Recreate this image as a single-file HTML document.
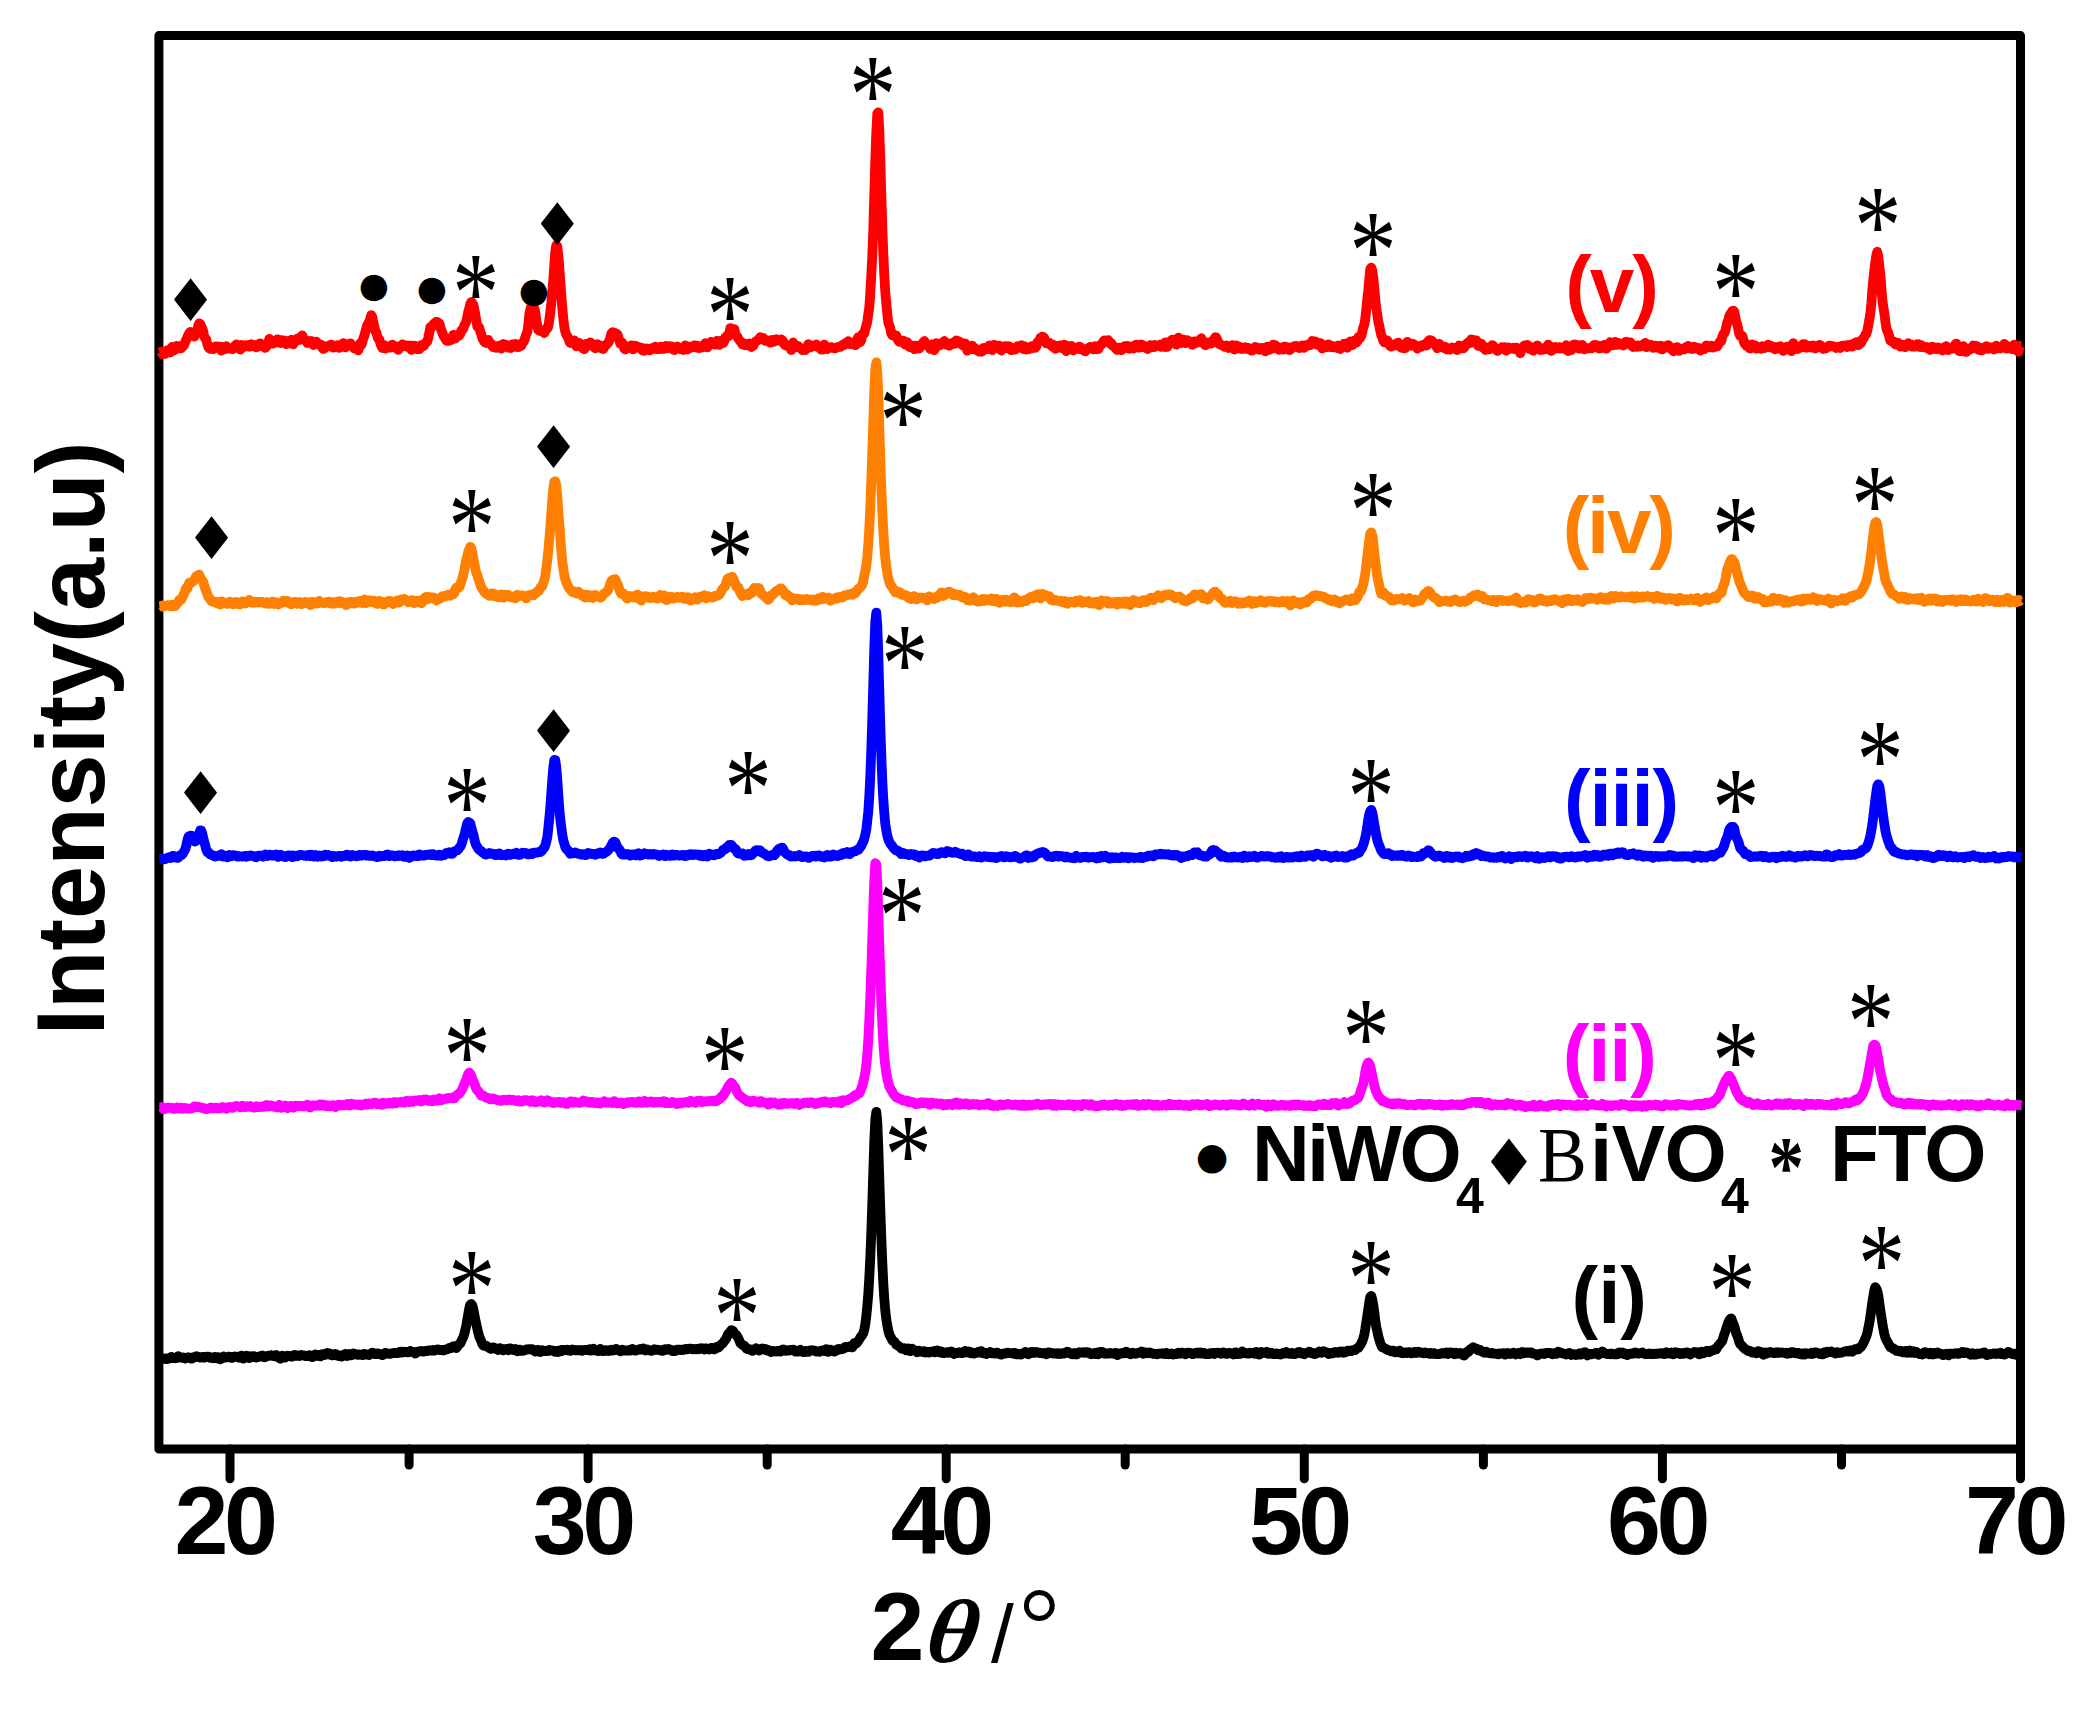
<!DOCTYPE html>
<html><head><meta charset="utf-8"><title>XRD patterns</title>
<style>
html,body{margin:0;padding:0;background:#fff}
svg{display:block}
.sb{font-family:"Liberation Sans",sans-serif;font-weight:bold}
.sr{font-family:"Liberation Sans",sans-serif}
.ast{font-family:"Liberation Serif",serif;font-size:100px}
.mk{font-family:"DejaVu Sans",sans-serif}
</style></head><body>
<svg width="2095" height="1710" viewBox="0 0 2095 1710">
<rect width="2095" height="1710" fill="#fff"/>
<g fill="none" stroke="#000" stroke-width="9" stroke-linejoin="round" stroke-linecap="round"><path d="M158.9 1449 V35.6 H2020.5 V1449 Z"/><path d="M230.0 1449 V1478.8"/><path d="M588.1 1449 V1478.8"/><path d="M946.2 1449 V1478.8"/><path d="M1304.3 1449 V1478.8"/><path d="M1662.4 1449 V1478.8"/><path d="M2020.5 1449 V1478.8"/><path d="M409.1 1449 V1465"/><path d="M767.2 1449 V1465"/><path d="M1125.2 1449 V1465"/><path d="M1483.4 1449 V1465"/><path d="M1841.5 1449 V1465"/></g>
<polyline fill="none" stroke="#000000" stroke-width="9.8" stroke-linejoin="round" stroke-linecap="butt" points="159.3,1358.8 160.3,1358.7 161.3,1358.7 162.3,1358.4 163.3,1358.4 164.3,1358.8 165.3,1359.0 166.3,1358.5 167.3,1359.0 168.3,1358.6 169.3,1358.5 170.3,1357.9 171.3,1356.8 172.3,1358.2 173.3,1358.2 174.3,1358.1 175.3,1358.3 176.3,1358.1 177.3,1357.0 178.3,1356.2 179.3,1356.9 180.3,1357.4 181.3,1357.8 182.3,1357.7 183.3,1357.4 184.3,1358.1 185.3,1358.6 186.3,1357.9 187.3,1357.8 188.3,1357.2 189.3,1357.6 190.3,1358.2 191.3,1358.7 192.3,1358.4 193.3,1357.2 194.3,1357.2 195.3,1357.3 196.3,1356.2 197.3,1356.5 198.3,1356.7 199.3,1357.3 200.3,1357.7 201.3,1357.4 202.3,1357.1 203.3,1356.9 204.3,1357.7 205.3,1357.2 206.3,1356.7 207.3,1357.0 208.3,1356.6 209.3,1357.0 210.3,1357.9 211.3,1357.6 212.3,1357.5 213.3,1358.2 214.3,1357.8 215.3,1356.9 216.3,1358.0 217.3,1358.4 218.3,1357.1 219.3,1357.9 220.3,1359.3 221.3,1358.3 222.3,1357.2 223.3,1356.6 224.3,1357.5 225.3,1357.7 226.3,1357.2 227.3,1357.3 228.3,1356.7 229.3,1356.6 230.3,1357.3 231.3,1357.8 232.3,1357.8 233.3,1356.9 234.3,1356.5 235.3,1356.9 236.3,1356.6 237.3,1356.9 238.3,1357.6 239.3,1357.1 240.3,1356.2 241.3,1355.6 242.3,1358.1 243.3,1358.6 244.3,1357.4 245.3,1356.7 246.3,1355.6 247.3,1355.9 248.3,1357.1 249.3,1358.0 250.3,1357.1 251.3,1356.3 252.3,1356.9 253.3,1356.1 254.3,1356.1 255.3,1357.3 256.3,1357.6 257.3,1357.3 258.3,1356.7 259.3,1356.5 260.3,1356.5 261.3,1355.7 262.3,1355.5 263.3,1355.9 264.3,1357.4 265.3,1357.1 266.3,1356.1 267.3,1356.1 268.3,1355.6 269.3,1355.9 270.3,1355.6 271.3,1355.1 272.3,1355.7 273.3,1356.0 274.3,1356.3 275.3,1356.5 276.3,1355.2 277.3,1355.8 278.3,1356.6 279.3,1357.9 280.3,1358.9 281.3,1356.4 282.3,1355.7 283.3,1356.5 284.3,1357.5 285.3,1357.6 286.3,1356.3 287.3,1355.7 288.3,1355.9 289.3,1355.9 290.3,1356.2 291.3,1356.7 292.3,1356.6 293.3,1355.5 294.3,1354.9 295.3,1355.3 296.3,1355.8 297.3,1355.5 298.3,1355.8 299.3,1356.0 300.3,1355.3 301.3,1355.0 302.3,1355.4 303.3,1355.4 304.3,1355.6 305.3,1356.1 306.3,1356.2 307.3,1356.1 308.3,1355.5 309.3,1355.2 310.3,1355.7 311.3,1356.6 312.3,1357.1 313.3,1356.6 314.3,1355.1 315.3,1354.5 316.3,1355.3 317.3,1355.9 318.3,1354.9 319.3,1355.0 320.3,1356.4 321.3,1355.3 322.3,1354.4 323.3,1355.2 324.3,1355.0 325.3,1354.7 326.3,1353.4 327.3,1353.0 328.3,1354.3 329.3,1354.3 330.3,1353.6 331.3,1355.2 332.3,1355.4 333.3,1355.1 334.3,1355.2 335.3,1354.0 336.3,1354.5 337.3,1355.6 338.3,1356.0 339.3,1355.4 340.3,1355.6 341.3,1356.6 342.3,1356.4 343.3,1355.6 344.3,1354.6 345.3,1354.0 346.3,1354.8 347.3,1356.0 348.3,1354.8 349.3,1354.0 350.3,1355.0 351.3,1355.3 352.3,1354.4 353.3,1353.6 354.3,1354.4 355.3,1354.4 356.3,1354.1 357.3,1354.7 358.3,1354.8 359.3,1354.5 360.3,1354.6 361.3,1354.7 362.3,1355.0 363.3,1355.0 364.3,1354.0 365.3,1354.1 366.3,1354.6 367.3,1354.4 368.3,1354.9 369.3,1355.0 370.3,1354.0 371.3,1353.5 372.3,1352.7 373.3,1353.0 374.3,1353.7 375.3,1354.1 376.3,1354.2 377.3,1353.4 378.3,1353.5 379.3,1354.0 380.3,1353.9 381.3,1354.6 382.3,1355.1 383.3,1354.7 384.3,1353.9 385.3,1353.0 386.3,1353.1 387.3,1353.5 388.3,1353.6 389.3,1353.9 390.3,1353.9 391.3,1353.4 392.3,1353.3 393.3,1352.8 394.3,1352.8 395.3,1353.1 396.3,1352.8 397.3,1353.1 398.3,1352.9 399.3,1352.0 400.3,1351.7 401.3,1352.6 402.3,1352.6 403.3,1351.6 404.3,1352.0 405.3,1352.0 406.3,1352.0 407.3,1352.3 408.3,1352.4 409.3,1351.9 410.3,1351.0 411.3,1351.9 412.3,1351.9 413.3,1351.8 414.3,1352.5 415.3,1353.5 416.3,1352.9 417.3,1351.7 418.3,1351.4 419.3,1351.4 420.3,1351.2 421.3,1350.8 422.3,1351.3 423.3,1351.7 424.3,1351.4 425.3,1350.8 426.3,1351.0 427.3,1351.0 428.3,1350.4 429.3,1350.5 430.3,1350.6 431.3,1350.5 432.3,1350.1 433.3,1350.0 434.3,1350.7 435.3,1350.4 436.3,1349.8 437.3,1349.3 438.3,1349.5 439.3,1349.9 440.3,1350.2 441.3,1349.8 442.3,1350.1 443.3,1350.5 444.3,1350.3 445.3,1349.7 446.3,1349.2 447.3,1349.0 448.3,1349.0 449.3,1347.9 450.3,1347.6 451.3,1348.1 452.3,1347.3 453.3,1346.3 454.3,1346.1 455.3,1347.4 456.3,1348.1 457.3,1346.7 458.3,1345.0 459.3,1344.2 460.3,1343.4 461.3,1341.2 462.3,1339.0 463.3,1337.1 464.3,1333.9 465.3,1330.1 466.3,1325.4 467.3,1319.7 468.3,1313.8 469.3,1308.1 470.3,1304.6 471.3,1304.0 472.3,1305.4 473.3,1309.0 474.3,1314.5 475.3,1319.7 476.3,1324.1 477.3,1328.7 478.3,1333.2 479.3,1336.7 480.3,1339.0 481.3,1341.2 482.3,1344.1 483.3,1345.4 484.3,1345.9 485.3,1345.7 486.3,1345.9 487.3,1347.0 488.3,1347.1 489.3,1347.9 490.3,1348.7 491.3,1348.9 492.3,1348.1 493.3,1347.3 494.3,1348.7 495.3,1348.7 496.3,1348.4 497.3,1349.1 498.3,1350.0 499.3,1349.6 500.3,1348.1 501.3,1348.7 502.3,1349.8 503.3,1350.3 504.3,1349.6 505.3,1349.3 506.3,1348.9 507.3,1349.3 508.3,1350.3 509.3,1348.5 510.3,1348.4 511.3,1349.4 512.3,1349.0 513.3,1350.2 514.3,1350.2 515.3,1349.2 516.3,1350.0 517.3,1351.2 518.3,1350.5 519.3,1349.6 520.3,1349.8 521.3,1350.9 522.3,1350.9 523.3,1350.7 524.3,1350.4 525.3,1350.0 526.3,1349.4 527.3,1349.3 528.3,1349.2 529.3,1349.1 530.3,1349.5 531.3,1349.2 532.3,1349.2 533.3,1349.7 534.3,1350.5 535.3,1351.5 536.3,1351.0 537.3,1350.1 538.3,1349.8 539.3,1350.3 540.3,1352.0 541.3,1351.2 542.3,1350.2 543.3,1350.8 544.3,1351.2 545.3,1351.1 546.3,1350.7 547.3,1351.1 548.3,1350.7 549.3,1350.0 550.3,1350.1 551.3,1350.6 552.3,1350.8 553.3,1350.7 554.3,1351.5 555.3,1351.8 556.3,1351.0 557.3,1351.3 558.3,1352.0 559.3,1350.7 560.3,1350.2 561.3,1351.1 562.3,1349.9 563.3,1349.8 564.3,1350.1 565.3,1349.9 566.3,1350.3 567.3,1349.6 568.3,1349.9 569.3,1350.1 570.3,1350.9 571.3,1350.6 572.3,1349.6 573.3,1350.1 574.3,1349.8 575.3,1350.3 576.3,1350.4 577.3,1350.0 578.3,1350.4 579.3,1350.2 580.3,1350.0 581.3,1350.5 582.3,1350.8 583.3,1350.2 584.3,1349.8 585.3,1349.8 586.3,1349.8 587.3,1350.2 588.3,1349.8 589.3,1349.3 590.3,1350.5 591.3,1350.6 592.3,1349.0 593.3,1348.8 594.3,1350.3 595.3,1350.2 596.3,1350.6 597.3,1350.9 598.3,1351.1 599.3,1349.8 600.3,1348.9 601.3,1350.3 602.3,1351.0 603.3,1351.0 604.3,1350.5 605.3,1350.2 606.3,1350.9 607.3,1350.6 608.3,1350.1 609.3,1350.9 610.3,1350.3 611.3,1349.8 612.3,1350.6 613.3,1350.3 614.3,1350.3 615.3,1349.3 616.3,1348.9 617.3,1350.1 618.3,1350.0 619.3,1350.2 620.3,1351.3 621.3,1350.0 622.3,1349.7 623.3,1350.3 624.3,1350.7 625.3,1350.6 626.3,1350.5 627.3,1350.7 628.3,1350.2 629.3,1349.9 630.3,1350.6 631.3,1349.9 632.3,1348.8 633.3,1349.8 634.3,1350.5 635.3,1350.4 636.3,1350.5 637.3,1349.8 638.3,1349.6 639.3,1349.6 640.3,1349.0 641.3,1349.5 642.3,1349.5 643.3,1348.4 644.3,1349.7 645.3,1350.5 646.3,1350.1 647.3,1349.5 648.3,1350.2 649.3,1350.3 650.3,1350.6 651.3,1350.9 652.3,1350.6 653.3,1349.8 654.3,1349.3 655.3,1349.8 656.3,1349.8 657.3,1349.7 658.3,1349.9 659.3,1350.1 660.3,1350.1 661.3,1350.5 662.3,1350.9 663.3,1350.7 664.3,1349.3 665.3,1349.2 666.3,1349.9 667.3,1349.5 668.3,1349.0 669.3,1349.3 670.3,1349.6 671.3,1350.0 672.3,1351.0 673.3,1351.1 674.3,1351.0 675.3,1351.0 676.3,1349.9 677.3,1349.7 678.3,1349.6 679.3,1349.7 680.3,1350.0 681.3,1349.7 682.3,1349.9 683.3,1350.0 684.3,1349.2 685.3,1349.0 686.3,1349.4 687.3,1349.0 688.3,1349.0 689.3,1348.7 690.3,1348.6 691.3,1348.8 692.3,1349.4 693.3,1349.0 694.3,1349.1 695.3,1349.3 696.3,1349.3 697.3,1349.0 698.3,1348.6 699.3,1349.2 700.3,1348.3 701.3,1348.2 702.3,1348.4 703.3,1348.4 704.3,1349.5 705.3,1348.5 706.3,1348.5 707.3,1348.6 708.3,1349.3 709.3,1349.5 710.3,1348.5 711.3,1347.9 712.3,1347.8 713.3,1349.0 714.3,1349.4 715.3,1348.9 716.3,1347.2 717.3,1346.7 718.3,1347.7 719.3,1346.8 720.3,1345.3 721.3,1344.4 722.3,1343.8 723.3,1342.6 724.3,1341.1 725.3,1340.0 726.3,1338.4 727.3,1335.9 728.3,1333.7 729.3,1333.1 730.3,1331.7 731.3,1330.2 732.3,1330.3 733.3,1331.4 734.3,1333.4 735.3,1334.4 736.3,1334.9 737.3,1336.5 738.3,1338.1 739.3,1340.4 740.3,1343.0 741.3,1343.9 742.3,1344.9 743.3,1345.3 744.3,1345.6 745.3,1346.8 746.3,1348.4 747.3,1349.1 748.3,1349.4 749.3,1349.2 750.3,1349.3 751.3,1350.0 752.3,1350.8 753.3,1350.3 754.3,1349.2 755.3,1349.1 756.3,1348.3 757.3,1348.8 758.3,1350.0 759.3,1350.5 760.3,1349.8 761.3,1348.7 762.3,1348.5 763.3,1349.1 764.3,1349.1 765.3,1349.0 766.3,1350.4 767.3,1350.5 768.3,1350.0 769.3,1350.8 770.3,1351.7 771.3,1352.0 772.3,1350.9 773.3,1351.0 774.3,1351.3 775.3,1351.5 776.3,1351.5 777.3,1350.8 778.3,1351.1 779.3,1351.5 780.3,1351.7 781.3,1351.3 782.3,1349.8 783.3,1349.5 784.3,1350.3 785.3,1350.9 786.3,1350.7 787.3,1350.2 788.3,1350.4 789.3,1350.6 790.3,1350.0 791.3,1349.9 792.3,1349.8 793.3,1349.7 794.3,1350.5 795.3,1351.7 796.3,1351.6 797.3,1351.7 798.3,1351.6 799.3,1350.4 800.3,1349.8 801.3,1350.6 802.3,1351.7 803.3,1352.2 804.3,1352.1 805.3,1351.0 806.3,1350.8 807.3,1351.9 808.3,1351.9 809.3,1350.6 810.3,1350.4 811.3,1350.4 812.3,1350.2 813.3,1350.6 814.3,1350.6 815.3,1350.8 816.3,1351.7 817.3,1351.6 818.3,1351.4 819.3,1351.8 820.3,1350.8 821.3,1350.7 822.3,1350.8 823.3,1350.2 824.3,1350.9 825.3,1349.9 826.3,1349.1 827.3,1351.2 828.3,1351.9 829.3,1350.0 830.3,1349.6 831.3,1350.6 832.3,1350.4 833.3,1350.8 834.3,1351.6 835.3,1351.1 836.3,1350.6 837.3,1349.2 838.3,1349.0 839.3,1349.6 840.3,1349.3 841.3,1349.0 842.3,1349.0 843.3,1348.7 844.3,1347.7 845.3,1346.9 846.3,1347.3 847.3,1347.3 848.3,1347.1 849.3,1346.5 850.3,1346.5 851.3,1346.8 852.3,1347.3 853.3,1345.5 854.3,1343.2 855.3,1343.5 856.3,1343.5 857.3,1342.2 858.3,1340.9 859.3,1339.4 860.3,1337.6 861.3,1336.3 862.3,1334.9 863.3,1333.0 864.3,1329.7 865.3,1324.1 866.3,1316.2 867.3,1306.2 868.3,1294.0 869.3,1277.5 870.3,1257.2 871.3,1232.4 872.3,1202.9 873.3,1171.5 874.3,1141.0 875.3,1119.4 876.3,1111.8 877.3,1122.2 878.3,1147.2 879.3,1178.2 880.3,1209.2 881.3,1237.4 882.3,1262.3 883.3,1282.9 884.3,1298.7 885.3,1310.6 886.3,1319.3 887.3,1325.3 888.3,1330.5 889.3,1334.4 890.3,1336.3 891.3,1338.1 892.3,1340.4 893.3,1341.1 894.3,1341.5 895.3,1343.0 896.3,1344.6 897.3,1345.2 898.3,1345.8 899.3,1346.5 900.3,1347.1 901.3,1348.6 902.3,1348.8 903.3,1348.6 904.3,1348.3 905.3,1349.1 906.3,1350.3 907.3,1349.7 908.3,1348.5 909.3,1349.4 910.3,1351.2 911.3,1349.7 912.3,1348.9 913.3,1350.0 914.3,1350.3 915.3,1350.3 916.3,1350.7 917.3,1352.3 918.3,1351.9 919.3,1350.9 920.3,1351.5 921.3,1351.8 922.3,1352.0 923.3,1351.3 924.3,1351.1 925.3,1352.5 926.3,1352.3 927.3,1351.8 928.3,1352.1 929.3,1352.6 930.3,1351.9 931.3,1351.7 932.3,1351.4 933.3,1351.4 934.3,1352.4 935.3,1352.0 936.3,1350.6 937.3,1350.5 938.3,1350.7 939.3,1352.0 940.3,1352.5 941.3,1351.6 942.3,1352.3 943.3,1353.1 944.3,1353.2 945.3,1352.7 946.3,1352.1 947.3,1352.7 948.3,1352.8 949.3,1351.9 950.3,1351.9 951.3,1351.4 952.3,1352.0 953.3,1353.5 954.3,1354.0 955.3,1353.2 956.3,1352.9 957.3,1353.1 958.3,1352.9 959.3,1352.2 960.3,1352.4 961.3,1353.0 962.3,1353.1 963.3,1352.7 964.3,1352.3 965.3,1350.9 966.3,1351.7 967.3,1352.4 968.3,1351.4 969.3,1352.3 970.3,1353.2 971.3,1352.3 972.3,1352.6 973.3,1353.6 974.3,1353.5 975.3,1353.0 976.3,1352.8 977.3,1352.3 978.3,1351.8 979.3,1352.6 980.3,1351.9 981.3,1351.1 982.3,1352.3 983.3,1353.3 984.3,1352.6 985.3,1352.9 986.3,1354.0 987.3,1352.9 988.3,1353.2 989.3,1352.9 990.3,1352.1 991.3,1352.8 992.3,1353.3 993.3,1353.1 994.3,1353.2 995.3,1353.6 996.3,1352.7 997.3,1352.6 998.3,1353.4 999.3,1353.9 1000.3,1354.4 1001.3,1354.6 1002.3,1354.1 1003.3,1353.6 1004.3,1353.4 1005.3,1353.5 1006.3,1353.4 1007.3,1352.7 1008.3,1352.7 1009.3,1353.1 1010.3,1353.2 1011.3,1353.2 1012.3,1353.2 1013.3,1353.7 1014.3,1352.8 1015.3,1353.0 1016.3,1354.3 1017.3,1354.4 1018.3,1354.2 1019.3,1353.7 1020.3,1354.0 1021.3,1354.5 1022.3,1353.9 1023.3,1353.3 1024.3,1352.7 1025.3,1352.0 1026.3,1352.1 1027.3,1353.6 1028.3,1354.3 1029.3,1353.4 1030.3,1353.3 1031.3,1351.9 1032.3,1351.9 1033.3,1352.9 1034.3,1352.9 1035.3,1352.7 1036.3,1352.0 1037.3,1352.5 1038.3,1352.6 1039.3,1352.6 1040.3,1353.2 1041.3,1353.0 1042.3,1353.4 1043.3,1353.4 1044.3,1352.9 1045.3,1353.4 1046.3,1354.2 1047.3,1353.2 1048.3,1352.5 1049.3,1352.4 1050.3,1352.9 1051.3,1353.3 1052.3,1353.3 1053.3,1353.2 1054.3,1353.5 1055.3,1353.3 1056.3,1353.3 1057.3,1353.8 1058.3,1353.1 1059.3,1353.4 1060.3,1354.0 1061.3,1353.8 1062.3,1353.2 1063.3,1353.2 1064.3,1353.6 1065.3,1352.8 1066.3,1352.3 1067.3,1351.7 1068.3,1352.2 1069.3,1353.1 1070.3,1353.4 1071.3,1354.1 1072.3,1354.4 1073.3,1353.9 1074.3,1352.9 1075.3,1353.4 1076.3,1354.5 1077.3,1354.1 1078.3,1352.9 1079.3,1352.2 1080.3,1352.6 1081.3,1352.7 1082.3,1352.4 1083.3,1352.1 1084.3,1352.3 1085.3,1352.8 1086.3,1352.1 1087.3,1352.2 1088.3,1352.4 1089.3,1352.8 1090.3,1354.0 1091.3,1354.2 1092.3,1354.0 1093.3,1353.3 1094.3,1353.2 1095.3,1354.1 1096.3,1352.9 1097.3,1352.5 1098.3,1354.3 1099.3,1353.5 1100.3,1351.9 1101.3,1352.3 1102.3,1351.9 1103.3,1352.6 1104.3,1353.6 1105.3,1353.8 1106.3,1353.4 1107.3,1353.3 1108.3,1353.7 1109.3,1353.6 1110.3,1353.0 1111.3,1353.3 1112.3,1353.5 1113.3,1353.7 1114.3,1353.8 1115.3,1352.9 1116.3,1353.1 1117.3,1355.0 1118.3,1354.5 1119.3,1353.5 1120.3,1353.9 1121.3,1353.3 1122.3,1353.0 1123.3,1353.4 1124.3,1353.4 1125.3,1352.5 1126.3,1351.6 1127.3,1352.8 1128.3,1353.5 1129.3,1353.7 1130.3,1354.2 1131.3,1353.2 1132.3,1352.7 1133.3,1352.9 1134.3,1353.2 1135.3,1353.8 1136.3,1353.6 1137.3,1353.1 1138.3,1352.7 1139.3,1352.7 1140.3,1352.4 1141.3,1351.7 1142.3,1352.9 1143.3,1353.8 1144.3,1352.2 1145.3,1352.4 1146.3,1352.9 1147.3,1353.3 1148.3,1353.2 1149.3,1352.5 1150.3,1352.6 1151.3,1353.2 1152.3,1353.4 1153.3,1353.9 1154.3,1353.9 1155.3,1353.8 1156.3,1354.1 1157.3,1354.3 1158.3,1353.6 1159.3,1353.7 1160.3,1353.7 1161.3,1353.5 1162.3,1353.6 1163.3,1353.4 1164.3,1354.2 1165.3,1354.1 1166.3,1353.0 1167.3,1353.9 1168.3,1354.3 1169.3,1353.9 1170.3,1353.7 1171.3,1353.5 1172.3,1354.3 1173.3,1354.6 1174.3,1353.9 1175.3,1354.2 1176.3,1354.1 1177.3,1353.3 1178.3,1352.7 1179.3,1352.9 1180.3,1353.6 1181.3,1352.7 1182.3,1352.6 1183.3,1353.0 1184.3,1353.2 1185.3,1354.2 1186.3,1353.9 1187.3,1352.6 1188.3,1352.9 1189.3,1352.7 1190.3,1352.8 1191.3,1353.3 1192.3,1354.2 1193.3,1354.1 1194.3,1353.1 1195.3,1353.3 1196.3,1352.6 1197.3,1352.6 1198.3,1353.6 1199.3,1352.6 1200.3,1352.5 1201.3,1353.6 1202.3,1353.6 1203.3,1352.7 1204.3,1353.1 1205.3,1354.1 1206.3,1354.1 1207.3,1353.8 1208.3,1353.7 1209.3,1354.1 1210.3,1353.2 1211.3,1353.2 1212.3,1352.9 1213.3,1353.3 1214.3,1354.0 1215.3,1352.9 1216.3,1352.9 1217.3,1352.8 1218.3,1352.7 1219.3,1352.9 1220.3,1353.5 1221.3,1353.8 1222.3,1352.8 1223.3,1352.4 1224.3,1352.8 1225.3,1353.7 1226.3,1353.9 1227.3,1353.9 1228.3,1353.0 1229.3,1352.9 1230.3,1353.3 1231.3,1353.1 1232.3,1353.7 1233.3,1354.5 1234.3,1354.1 1235.3,1352.4 1236.3,1352.5 1237.3,1354.0 1238.3,1353.5 1239.3,1353.2 1240.3,1354.0 1241.3,1352.7 1242.3,1351.5 1243.3,1352.3 1244.3,1353.2 1245.3,1353.3 1246.3,1353.0 1247.3,1353.2 1248.3,1353.6 1249.3,1353.5 1250.3,1352.7 1251.3,1352.8 1252.3,1352.8 1253.3,1353.5 1254.3,1353.7 1255.3,1352.3 1256.3,1352.0 1257.3,1353.0 1258.3,1354.3 1259.3,1354.6 1260.3,1353.0 1261.3,1352.1 1262.3,1353.0 1263.3,1352.9 1264.3,1352.6 1265.3,1353.0 1266.3,1351.8 1267.3,1352.0 1268.3,1353.8 1269.3,1353.7 1270.3,1352.9 1271.3,1352.7 1272.3,1353.9 1273.3,1354.1 1274.3,1353.8 1275.3,1354.1 1276.3,1353.5 1277.3,1353.8 1278.3,1354.2 1279.3,1354.0 1280.3,1354.6 1281.3,1354.3 1282.3,1353.3 1283.3,1352.8 1284.3,1353.6 1285.3,1353.2 1286.3,1352.1 1287.3,1352.9 1288.3,1353.6 1289.3,1353.9 1290.3,1353.9 1291.3,1352.8 1292.3,1353.0 1293.3,1354.2 1294.3,1354.2 1295.3,1353.9 1296.3,1353.7 1297.3,1352.9 1298.3,1352.1 1299.3,1352.0 1300.3,1352.9 1301.3,1353.6 1302.3,1352.9 1303.3,1353.6 1304.3,1354.2 1305.3,1353.4 1306.3,1353.0 1307.3,1352.6 1308.3,1352.5 1309.3,1351.7 1310.3,1352.2 1311.3,1353.3 1312.3,1352.8 1313.3,1353.0 1314.3,1354.2 1315.3,1354.0 1316.3,1353.3 1317.3,1353.1 1318.3,1352.3 1319.3,1351.6 1320.3,1352.2 1321.3,1352.8 1322.3,1351.8 1323.3,1351.3 1324.3,1352.0 1325.3,1352.2 1326.3,1352.2 1327.3,1352.6 1328.3,1354.0 1329.3,1353.9 1330.3,1353.1 1331.3,1352.9 1332.3,1353.3 1333.3,1353.3 1334.3,1352.3 1335.3,1352.0 1336.3,1352.3 1337.3,1352.7 1338.3,1352.8 1339.3,1351.7 1340.3,1351.5 1341.3,1351.9 1342.3,1351.5 1343.3,1352.8 1344.3,1352.6 1345.3,1352.3 1346.3,1351.9 1347.3,1350.8 1348.3,1350.6 1349.3,1350.7 1350.3,1351.2 1351.3,1351.2 1352.3,1350.3 1353.3,1349.8 1354.3,1349.8 1355.3,1350.1 1356.3,1348.9 1357.3,1348.1 1358.3,1347.8 1359.3,1346.4 1360.3,1345.1 1361.3,1343.3 1362.3,1341.1 1363.3,1338.5 1364.3,1334.6 1365.3,1328.8 1366.3,1322.1 1367.3,1315.9 1368.3,1309.1 1369.3,1302.0 1370.3,1296.6 1371.3,1296.0 1372.3,1299.5 1373.3,1305.1 1374.3,1312.1 1375.3,1320.9 1376.3,1327.1 1377.3,1331.4 1378.3,1336.0 1379.3,1339.7 1380.3,1343.0 1381.3,1345.5 1382.3,1347.3 1383.3,1347.6 1384.3,1348.0 1385.3,1348.6 1386.3,1349.1 1387.3,1349.9 1388.3,1350.2 1389.3,1350.3 1390.3,1351.0 1391.3,1351.4 1392.3,1350.6 1393.3,1350.7 1394.3,1352.0 1395.3,1352.3 1396.3,1352.0 1397.3,1351.9 1398.3,1351.2 1399.3,1350.6 1400.3,1352.6 1401.3,1353.0 1402.3,1352.8 1403.3,1353.2 1404.3,1352.5 1405.3,1352.6 1406.3,1352.5 1407.3,1353.0 1408.3,1352.3 1409.3,1352.1 1410.3,1353.0 1411.3,1353.3 1412.3,1353.0 1413.3,1352.5 1414.3,1351.9 1415.3,1352.1 1416.3,1353.0 1417.3,1352.6 1418.3,1351.7 1419.3,1352.3 1420.3,1352.6 1421.3,1352.4 1422.3,1353.0 1423.3,1353.0 1424.3,1353.4 1425.3,1352.5 1426.3,1352.7 1427.3,1353.1 1428.3,1353.1 1429.3,1353.8 1430.3,1353.0 1431.3,1353.1 1432.3,1353.7 1433.3,1353.2 1434.3,1353.2 1435.3,1353.9 1436.3,1354.1 1437.3,1354.2 1438.3,1354.2 1439.3,1354.0 1440.3,1353.9 1441.3,1353.2 1442.3,1353.0 1443.3,1353.4 1444.3,1353.5 1445.3,1353.2 1446.3,1352.4 1447.3,1352.8 1448.3,1354.0 1449.3,1353.2 1450.3,1352.3 1451.3,1352.3 1452.3,1352.8 1453.3,1353.3 1454.3,1354.3 1455.3,1354.1 1456.3,1352.7 1457.3,1353.1 1458.3,1353.5 1459.3,1353.5 1460.3,1352.9 1461.3,1353.4 1462.3,1354.5 1463.3,1355.4 1464.3,1355.5 1465.3,1353.8 1466.3,1352.3 1467.3,1351.7 1468.3,1352.1 1469.3,1350.7 1470.3,1349.1 1471.3,1348.8 1472.3,1347.9 1473.3,1347.3 1474.3,1348.3 1475.3,1348.7 1476.3,1348.5 1477.3,1349.1 1478.3,1350.3 1479.3,1349.8 1480.3,1349.9 1481.3,1351.4 1482.3,1351.6 1483.3,1351.6 1484.3,1352.7 1485.3,1352.3 1486.3,1351.7 1487.3,1352.7 1488.3,1352.9 1489.3,1352.8 1490.3,1353.3 1491.3,1353.0 1492.3,1353.0 1493.3,1353.6 1494.3,1353.7 1495.3,1353.6 1496.3,1353.8 1497.3,1354.1 1498.3,1354.3 1499.3,1353.5 1500.3,1353.6 1501.3,1353.6 1502.3,1353.4 1503.3,1353.1 1504.3,1353.5 1505.3,1354.6 1506.3,1353.6 1507.3,1353.0 1508.3,1353.3 1509.3,1353.3 1510.3,1354.0 1511.3,1353.4 1512.3,1353.1 1513.3,1352.8 1514.3,1353.8 1515.3,1354.4 1516.3,1353.6 1517.3,1353.5 1518.3,1352.9 1519.3,1353.1 1520.3,1354.1 1521.3,1353.4 1522.3,1352.0 1523.3,1352.5 1524.3,1353.3 1525.3,1352.7 1526.3,1352.8 1527.3,1352.3 1528.3,1352.6 1529.3,1352.9 1530.3,1352.4 1531.3,1352.5 1532.3,1353.7 1533.3,1353.7 1534.3,1353.8 1535.3,1353.9 1536.3,1354.5 1537.3,1355.3 1538.3,1354.5 1539.3,1354.6 1540.3,1353.6 1541.3,1353.7 1542.3,1353.6 1543.3,1353.4 1544.3,1354.1 1545.3,1353.5 1546.3,1352.9 1547.3,1353.2 1548.3,1352.8 1549.3,1352.9 1550.3,1352.8 1551.3,1353.4 1552.3,1354.2 1553.3,1353.9 1554.3,1353.2 1555.3,1353.0 1556.3,1353.9 1557.3,1352.5 1558.3,1351.6 1559.3,1352.7 1560.3,1352.5 1561.3,1353.0 1562.3,1353.4 1563.3,1353.3 1564.3,1353.8 1565.3,1353.8 1566.3,1354.5 1567.3,1354.3 1568.3,1353.4 1569.3,1352.9 1570.3,1353.8 1571.3,1354.9 1572.3,1354.3 1573.3,1354.1 1574.3,1354.3 1575.3,1354.5 1576.3,1355.0 1577.3,1354.6 1578.3,1354.0 1579.3,1353.4 1580.3,1354.7 1581.3,1354.7 1582.3,1353.5 1583.3,1353.6 1584.3,1352.4 1585.3,1352.2 1586.3,1354.0 1587.3,1355.3 1588.3,1354.7 1589.3,1353.8 1590.3,1353.9 1591.3,1354.3 1592.3,1354.0 1593.3,1353.7 1594.3,1353.7 1595.3,1353.1 1596.3,1352.7 1597.3,1354.1 1598.3,1354.8 1599.3,1353.8 1600.3,1353.3 1601.3,1352.7 1602.3,1351.5 1603.3,1352.1 1604.3,1353.4 1605.3,1353.3 1606.3,1353.7 1607.3,1354.2 1608.3,1353.8 1609.3,1354.1 1610.3,1354.3 1611.3,1353.5 1612.3,1353.7 1613.3,1354.0 1614.3,1354.3 1615.3,1354.3 1616.3,1354.3 1617.3,1354.3 1618.3,1353.0 1619.3,1352.5 1620.3,1353.4 1621.3,1352.9 1622.3,1352.5 1623.3,1353.7 1624.3,1354.1 1625.3,1353.4 1626.3,1353.9 1627.3,1355.2 1628.3,1354.1 1629.3,1353.7 1630.3,1353.7 1631.3,1353.6 1632.3,1353.9 1633.3,1353.6 1634.3,1352.7 1635.3,1352.4 1636.3,1353.0 1637.3,1353.6 1638.3,1353.6 1639.3,1353.1 1640.3,1353.3 1641.3,1353.1 1642.3,1352.5 1643.3,1353.4 1644.3,1353.8 1645.3,1354.1 1646.3,1354.2 1647.3,1354.2 1648.3,1353.8 1649.3,1353.4 1650.3,1353.9 1651.3,1354.1 1652.3,1353.8 1653.3,1353.7 1654.3,1354.1 1655.3,1353.8 1656.3,1353.6 1657.3,1353.8 1658.3,1353.7 1659.3,1353.7 1660.3,1353.2 1661.3,1353.1 1662.3,1353.5 1663.3,1353.8 1664.3,1354.1 1665.3,1353.0 1666.3,1352.3 1667.3,1352.8 1668.3,1353.1 1669.3,1353.6 1670.3,1353.6 1671.3,1352.6 1672.3,1353.2 1673.3,1354.2 1674.3,1353.4 1675.3,1352.3 1676.3,1353.1 1677.3,1353.4 1678.3,1352.7 1679.3,1353.0 1680.3,1354.0 1681.3,1353.2 1682.3,1353.0 1683.3,1353.8 1684.3,1353.5 1685.3,1353.0 1686.3,1352.4 1687.3,1352.5 1688.3,1353.8 1689.3,1353.9 1690.3,1354.5 1691.3,1353.7 1692.3,1353.0 1693.3,1352.7 1694.3,1352.0 1695.3,1352.2 1696.3,1352.4 1697.3,1352.1 1698.3,1353.6 1699.3,1354.4 1700.3,1352.6 1701.3,1351.9 1702.3,1353.0 1703.3,1353.4 1704.3,1352.6 1705.3,1351.9 1706.3,1350.8 1707.3,1350.9 1708.3,1351.8 1709.3,1352.1 1710.3,1351.3 1711.3,1350.4 1712.3,1350.4 1713.3,1350.4 1714.3,1349.2 1715.3,1349.2 1716.3,1349.4 1717.3,1347.4 1718.3,1345.4 1719.3,1344.7 1720.3,1343.2 1721.3,1342.3 1722.3,1341.0 1723.3,1337.5 1724.3,1334.2 1725.3,1331.7 1726.3,1328.3 1727.3,1325.4 1728.3,1322.5 1729.3,1320.4 1730.3,1319.0 1731.3,1318.5 1732.3,1321.3 1733.3,1323.9 1734.3,1326.0 1735.3,1330.1 1736.3,1333.6 1737.3,1335.7 1738.3,1338.7 1739.3,1342.3 1740.3,1344.2 1741.3,1345.3 1742.3,1346.0 1743.3,1347.4 1744.3,1348.3 1745.3,1349.1 1746.3,1349.5 1747.3,1350.4 1748.3,1351.2 1749.3,1351.0 1750.3,1351.0 1751.3,1352.2 1752.3,1352.7 1753.3,1352.5 1754.3,1352.1 1755.3,1352.8 1756.3,1353.3 1757.3,1352.2 1758.3,1351.2 1759.3,1352.3 1760.3,1353.0 1761.3,1352.2 1762.3,1353.3 1763.3,1354.8 1764.3,1353.4 1765.3,1352.3 1766.3,1353.7 1767.3,1353.3 1768.3,1352.4 1769.3,1352.6 1770.3,1352.0 1771.3,1352.4 1772.3,1352.6 1773.3,1353.0 1774.3,1353.2 1775.3,1353.2 1776.3,1352.4 1777.3,1352.2 1778.3,1353.0 1779.3,1352.6 1780.3,1352.7 1781.3,1352.4 1782.3,1352.7 1783.3,1352.7 1784.3,1352.9 1785.3,1353.3 1786.3,1352.7 1787.3,1353.7 1788.3,1353.1 1789.3,1352.6 1790.3,1353.2 1791.3,1352.2 1792.3,1352.3 1793.3,1352.2 1794.3,1352.9 1795.3,1353.3 1796.3,1353.0 1797.3,1353.0 1798.3,1352.9 1799.3,1353.9 1800.3,1354.3 1801.3,1354.1 1802.3,1353.4 1803.3,1354.7 1804.3,1354.7 1805.3,1353.2 1806.3,1353.3 1807.3,1353.6 1808.3,1353.6 1809.3,1353.8 1810.3,1353.5 1811.3,1352.9 1812.3,1354.0 1813.3,1353.8 1814.3,1352.4 1815.3,1352.4 1816.3,1352.4 1817.3,1352.9 1818.3,1353.1 1819.3,1353.7 1820.3,1354.0 1821.3,1353.8 1822.3,1354.3 1823.3,1352.9 1824.3,1352.3 1825.3,1353.5 1826.3,1352.5 1827.3,1351.8 1828.3,1352.3 1829.3,1352.2 1830.3,1352.2 1831.3,1351.5 1832.3,1352.3 1833.3,1352.4 1834.3,1352.7 1835.3,1353.5 1836.3,1352.5 1837.3,1352.2 1838.3,1352.8 1839.3,1353.0 1840.3,1352.8 1841.3,1352.6 1842.3,1352.4 1843.3,1351.9 1844.3,1351.6 1845.3,1351.5 1846.3,1351.0 1847.3,1351.1 1848.3,1351.5 1849.3,1351.6 1850.3,1350.3 1851.3,1351.0 1852.3,1351.7 1853.3,1350.6 1854.3,1349.4 1855.3,1349.8 1856.3,1348.9 1857.3,1349.2 1858.3,1349.4 1859.3,1347.6 1860.3,1347.5 1861.3,1346.6 1862.3,1345.0 1863.3,1343.2 1864.3,1341.0 1865.3,1338.7 1866.3,1336.4 1867.3,1333.1 1868.3,1328.0 1869.3,1323.3 1870.3,1317.0 1871.3,1309.7 1872.3,1302.1 1873.3,1296.2 1874.3,1290.2 1875.3,1287.1 1876.3,1288.6 1877.3,1291.0 1878.3,1295.5 1879.3,1302.8 1880.3,1310.2 1881.3,1316.6 1882.3,1322.9 1883.3,1328.7 1884.3,1333.8 1885.3,1337.6 1886.3,1339.9 1887.3,1341.7 1888.3,1343.1 1889.3,1345.5 1890.3,1347.1 1891.3,1347.3 1892.3,1347.8 1893.3,1349.1 1894.3,1349.0 1895.3,1349.6 1896.3,1350.8 1897.3,1350.9 1898.3,1351.3 1899.3,1351.3 1900.3,1350.6 1901.3,1351.1 1902.3,1352.2 1903.3,1352.4 1904.3,1351.3 1905.3,1350.9 1906.3,1352.1 1907.3,1352.9 1908.3,1350.9 1909.3,1350.5 1910.3,1351.9 1911.3,1352.9 1912.3,1351.5 1913.3,1351.3 1914.3,1353.0 1915.3,1352.9 1916.3,1351.8 1917.3,1352.7 1918.3,1353.4 1919.3,1354.1 1920.3,1353.9 1921.3,1353.7 1922.3,1354.5 1923.3,1353.9 1924.3,1352.1 1925.3,1352.1 1926.3,1353.3 1927.3,1353.5 1928.3,1353.9 1929.3,1354.2 1930.3,1352.7 1931.3,1353.2 1932.3,1354.5 1933.3,1353.7 1934.3,1352.9 1935.3,1354.1 1936.3,1353.2 1937.3,1352.6 1938.3,1353.5 1939.3,1353.1 1940.3,1353.6 1941.3,1354.2 1942.3,1354.7 1943.3,1355.1 1944.3,1354.2 1945.3,1354.2 1946.3,1353.8 1947.3,1354.8 1948.3,1355.4 1949.3,1353.8 1950.3,1353.6 1951.3,1353.6 1952.3,1353.9 1953.3,1353.9 1954.3,1353.4 1955.3,1353.7 1956.3,1353.2 1957.3,1353.2 1958.3,1354.0 1959.3,1353.6 1960.3,1353.0 1961.3,1352.9 1962.3,1351.9 1963.3,1353.2 1964.3,1353.1 1965.3,1352.3 1966.3,1352.3 1967.3,1352.9 1968.3,1353.3 1969.3,1353.3 1970.3,1354.8 1971.3,1354.0 1972.3,1353.1 1973.3,1354.6 1974.3,1354.2 1975.3,1354.4 1976.3,1354.6 1977.3,1353.4 1978.3,1353.9 1979.3,1353.9 1980.3,1353.7 1981.3,1353.1 1982.3,1353.4 1983.3,1353.4 1984.3,1352.4 1985.3,1353.4 1986.3,1354.9 1987.3,1355.1 1988.3,1354.5 1989.3,1354.1 1990.3,1354.3 1991.3,1354.0 1992.3,1353.9 1993.3,1353.6 1994.3,1353.4 1995.3,1353.9 1996.3,1354.0 1997.3,1353.3 1998.3,1353.6 1999.3,1353.5 2000.3,1352.9 2001.3,1354.2 2002.3,1354.2 2003.3,1353.7 2004.3,1354.6 2005.3,1354.1 2006.3,1353.8 2007.3,1353.4 2008.3,1351.9 2009.3,1352.9 2010.3,1352.9 2011.3,1353.4 2012.3,1354.1 2013.3,1354.3 2014.3,1353.7 2015.3,1353.7 2016.3,1354.9 2017.3,1355.2 2018.3,1353.7 2019.3,1353.8 2020.3,1354.9 2021.3,1354.9 2021.6,1354.9"/>
<polyline fill="none" stroke="#ff00ff" stroke-width="9.8" stroke-linejoin="round" stroke-linecap="butt" points="159.3,1107.3 160.3,1107.3 161.3,1107.2 162.3,1107.2 163.3,1108.6 164.3,1109.2 165.3,1108.3 166.3,1108.4 167.3,1108.0 168.3,1107.5 169.3,1107.6 170.3,1107.8 171.3,1108.1 172.3,1107.9 173.3,1108.8 174.3,1108.9 175.3,1108.7 176.3,1108.3 177.3,1107.4 178.3,1107.9 179.3,1108.5 180.3,1107.7 181.3,1107.7 182.3,1108.7 183.3,1108.4 184.3,1108.0 185.3,1108.1 186.3,1108.2 187.3,1108.6 188.3,1108.6 189.3,1108.6 190.3,1108.5 191.3,1108.5 192.3,1108.1 193.3,1107.7 194.3,1106.4 195.3,1106.3 196.3,1107.2 197.3,1107.2 198.3,1106.8 199.3,1107.4 200.3,1107.4 201.3,1107.3 202.3,1108.1 203.3,1107.8 204.3,1108.4 205.3,1109.1 206.3,1109.1 207.3,1108.7 208.3,1108.8 209.3,1108.4 210.3,1107.8 211.3,1107.5 212.3,1107.7 213.3,1108.4 214.3,1108.2 215.3,1107.7 216.3,1107.6 217.3,1108.3 218.3,1108.4 219.3,1108.1 220.3,1108.0 221.3,1108.0 222.3,1107.2 223.3,1107.1 224.3,1107.7 225.3,1108.2 226.3,1108.7 227.3,1108.0 228.3,1107.2 229.3,1106.8 230.3,1107.2 231.3,1107.5 232.3,1107.9 233.3,1107.5 234.3,1106.4 235.3,1106.3 236.3,1106.0 237.3,1106.5 238.3,1106.8 239.3,1107.0 240.3,1107.3 241.3,1105.9 242.3,1105.6 243.3,1106.4 244.3,1107.2 245.3,1107.0 246.3,1106.5 247.3,1106.1 248.3,1106.8 249.3,1106.6 250.3,1106.1 251.3,1107.1 252.3,1107.0 253.3,1107.4 254.3,1107.7 255.3,1107.3 256.3,1106.2 257.3,1106.7 258.3,1107.1 259.3,1107.0 260.3,1106.9 261.3,1106.8 262.3,1106.9 263.3,1106.2 264.3,1106.7 265.3,1105.6 266.3,1105.1 267.3,1106.2 268.3,1106.4 269.3,1106.1 270.3,1105.3 271.3,1105.5 272.3,1105.9 273.3,1106.2 274.3,1106.9 275.3,1106.6 276.3,1107.0 277.3,1107.4 278.3,1106.2 279.3,1104.8 280.3,1106.1 281.3,1107.8 282.3,1106.8 283.3,1106.2 284.3,1106.0 285.3,1105.6 286.3,1107.4 287.3,1108.1 288.3,1106.9 289.3,1106.6 290.3,1106.0 291.3,1106.0 292.3,1107.2 293.3,1107.6 294.3,1106.6 295.3,1105.6 296.3,1106.0 297.3,1106.3 298.3,1106.0 299.3,1105.6 300.3,1106.1 301.3,1106.3 302.3,1106.0 303.3,1106.0 304.3,1106.3 305.3,1105.8 306.3,1105.2 307.3,1104.6 308.3,1105.2 309.3,1107.1 310.3,1107.5 311.3,1106.5 312.3,1105.5 313.3,1105.4 314.3,1105.5 315.3,1105.7 316.3,1105.7 317.3,1105.7 318.3,1105.6 319.3,1104.7 320.3,1105.6 321.3,1105.7 322.3,1104.4 323.3,1104.7 324.3,1105.0 325.3,1105.8 326.3,1106.2 327.3,1105.5 328.3,1105.4 329.3,1106.4 330.3,1106.3 331.3,1105.3 332.3,1105.5 333.3,1105.1 334.3,1105.9 335.3,1107.0 336.3,1105.5 337.3,1105.3 338.3,1104.7 339.3,1104.7 340.3,1105.6 341.3,1105.3 342.3,1105.0 343.3,1105.4 344.3,1105.0 345.3,1105.0 346.3,1105.2 347.3,1103.9 348.3,1103.9 349.3,1105.5 350.3,1105.2 351.3,1103.7 352.3,1104.5 353.3,1104.6 354.3,1104.3 355.3,1104.3 356.3,1104.7 357.3,1104.8 358.3,1105.0 359.3,1104.3 360.3,1104.5 361.3,1105.5 362.3,1105.0 363.3,1104.8 364.3,1104.3 365.3,1103.7 366.3,1104.6 367.3,1104.7 368.3,1103.4 369.3,1103.6 370.3,1104.2 371.3,1104.2 372.3,1103.8 373.3,1103.0 374.3,1102.8 375.3,1102.6 376.3,1103.5 377.3,1104.2 378.3,1104.2 379.3,1104.1 380.3,1103.5 381.3,1104.4 382.3,1104.7 383.3,1102.9 384.3,1103.3 385.3,1103.8 386.3,1103.3 387.3,1103.2 388.3,1103.5 389.3,1103.0 390.3,1102.7 391.3,1103.1 392.3,1103.7 393.3,1103.1 394.3,1102.1 395.3,1102.8 396.3,1103.4 397.3,1102.8 398.3,1102.1 399.3,1102.3 400.3,1102.3 401.3,1101.8 402.3,1102.0 403.3,1102.3 404.3,1102.7 405.3,1102.3 406.3,1100.8 407.3,1100.8 408.3,1101.8 409.3,1102.1 410.3,1101.7 411.3,1100.9 412.3,1101.0 413.3,1101.7 414.3,1100.8 415.3,1100.3 416.3,1100.7 417.3,1100.8 418.3,1100.9 419.3,1100.1 420.3,1100.7 421.3,1101.4 422.3,1100.6 423.3,1099.8 424.3,1099.5 425.3,1099.8 426.3,1099.5 427.3,1100.3 428.3,1100.9 429.3,1100.2 430.3,1100.4 431.3,1100.6 432.3,1101.1 433.3,1099.7 434.3,1099.6 435.3,1100.5 436.3,1100.6 437.3,1100.7 438.3,1099.2 439.3,1098.4 440.3,1099.5 441.3,1100.2 442.3,1099.4 443.3,1099.2 444.3,1098.9 445.3,1098.8 446.3,1098.9 447.3,1098.1 448.3,1098.0 449.3,1098.1 450.3,1098.1 451.3,1097.9 452.3,1097.5 453.3,1098.4 454.3,1098.4 455.3,1096.7 456.3,1095.7 457.3,1094.7 458.3,1094.3 459.3,1093.7 460.3,1092.1 461.3,1090.9 462.3,1088.9 463.3,1086.7 464.3,1084.3 465.3,1082.1 466.3,1079.4 467.3,1076.5 468.3,1073.8 469.3,1072.6 470.3,1073.6 471.3,1075.6 472.3,1078.8 473.3,1081.5 474.3,1083.3 475.3,1085.9 476.3,1089.0 477.3,1090.3 478.3,1091.2 479.3,1092.5 480.3,1094.2 481.3,1095.6 482.3,1095.8 483.3,1095.6 484.3,1096.3 485.3,1097.0 486.3,1097.7 487.3,1097.9 488.3,1097.9 489.3,1098.7 490.3,1099.3 491.3,1099.3 492.3,1098.5 493.3,1098.3 494.3,1099.4 495.3,1099.5 496.3,1099.5 497.3,1100.1 498.3,1100.3 499.3,1100.4 500.3,1100.8 501.3,1100.8 502.3,1100.1 503.3,1099.9 504.3,1099.7 505.3,1099.9 506.3,1100.1 507.3,1100.0 508.3,1099.8 509.3,1099.5 510.3,1100.0 511.3,1100.2 512.3,1099.7 513.3,1099.9 514.3,1100.5 515.3,1100.3 516.3,1101.0 517.3,1101.2 518.3,1100.2 519.3,1101.4 520.3,1101.6 521.3,1101.2 522.3,1101.6 523.3,1100.9 524.3,1100.2 525.3,1100.1 526.3,1100.2 527.3,1100.5 528.3,1100.9 529.3,1100.7 530.3,1101.8 531.3,1101.5 532.3,1100.2 533.3,1100.7 534.3,1101.5 535.3,1102.4 536.3,1102.0 537.3,1101.7 538.3,1101.6 539.3,1101.2 540.3,1100.7 541.3,1100.2 542.3,1101.3 543.3,1102.3 544.3,1102.5 545.3,1102.3 546.3,1100.7 547.3,1100.2 548.3,1100.8 549.3,1101.1 550.3,1101.5 551.3,1102.0 552.3,1102.9 553.3,1103.0 554.3,1102.4 555.3,1102.6 556.3,1102.4 557.3,1102.2 558.3,1102.1 559.3,1101.9 560.3,1102.8 561.3,1102.9 562.3,1102.2 563.3,1102.2 564.3,1102.9 565.3,1103.2 566.3,1103.9 567.3,1103.9 568.3,1103.0 569.3,1101.9 570.3,1101.4 571.3,1101.4 572.3,1102.0 573.3,1102.7 574.3,1101.6 575.3,1101.9 576.3,1102.3 577.3,1102.5 578.3,1102.7 579.3,1102.8 580.3,1102.6 581.3,1102.4 582.3,1101.5 583.3,1100.6 584.3,1101.2 585.3,1101.8 586.3,1101.2 587.3,1101.8 588.3,1102.5 589.3,1102.0 590.3,1102.1 591.3,1102.7 592.3,1102.0 593.3,1102.1 594.3,1102.9 595.3,1103.0 596.3,1103.2 597.3,1102.3 598.3,1102.5 599.3,1103.5 600.3,1103.5 601.3,1102.6 602.3,1102.1 603.3,1102.1 604.3,1101.4 605.3,1102.3 606.3,1102.7 607.3,1102.3 608.3,1102.5 609.3,1102.6 610.3,1102.6 611.3,1102.3 612.3,1102.9 613.3,1101.5 614.3,1101.1 615.3,1101.6 616.3,1102.4 617.3,1103.3 618.3,1102.8 619.3,1102.9 620.3,1103.1 621.3,1102.5 622.3,1102.9 623.3,1104.0 624.3,1103.7 625.3,1103.4 626.3,1102.9 627.3,1102.2 628.3,1102.7 629.3,1102.4 630.3,1102.1 631.3,1102.1 632.3,1101.8 633.3,1102.2 634.3,1102.5 635.3,1102.3 636.3,1102.9 637.3,1102.7 638.3,1101.6 639.3,1101.3 640.3,1102.0 641.3,1102.9 642.3,1102.8 643.3,1101.8 644.3,1101.0 645.3,1101.3 646.3,1102.6 647.3,1102.7 648.3,1101.9 649.3,1101.7 650.3,1101.8 651.3,1101.4 652.3,1102.2 653.3,1102.6 654.3,1102.6 655.3,1101.9 656.3,1102.1 657.3,1102.4 658.3,1102.1 659.3,1101.8 660.3,1102.0 661.3,1102.4 662.3,1102.4 663.3,1101.1 664.3,1101.1 665.3,1103.2 666.3,1102.7 667.3,1102.3 668.3,1103.1 669.3,1102.8 670.3,1103.1 671.3,1102.7 672.3,1102.0 673.3,1102.2 674.3,1102.5 675.3,1103.1 676.3,1104.1 677.3,1103.8 678.3,1102.8 679.3,1103.6 680.3,1103.2 681.3,1102.5 682.3,1103.2 683.3,1102.7 684.3,1102.4 685.3,1102.5 686.3,1101.9 687.3,1102.0 688.3,1102.8 689.3,1102.5 690.3,1100.9 691.3,1101.1 692.3,1101.5 693.3,1101.7 694.3,1102.5 695.3,1102.8 696.3,1101.9 697.3,1101.0 698.3,1101.6 699.3,1101.6 700.3,1100.6 701.3,1101.7 702.3,1102.1 703.3,1101.5 704.3,1101.6 705.3,1101.5 706.3,1101.2 707.3,1101.4 708.3,1101.2 709.3,1101.1 710.3,1100.9 711.3,1101.1 712.3,1101.3 713.3,1100.9 714.3,1100.8 715.3,1101.3 716.3,1101.2 717.3,1100.5 718.3,1099.5 719.3,1099.4 720.3,1098.4 721.3,1096.7 722.3,1096.6 723.3,1095.4 724.3,1093.3 725.3,1092.3 726.3,1090.4 727.3,1088.3 728.3,1086.5 729.3,1085.0 730.3,1083.6 731.3,1082.7 732.3,1083.4 733.3,1085.8 734.3,1086.5 735.3,1087.8 736.3,1090.3 737.3,1092.4 738.3,1094.1 739.3,1095.4 740.3,1096.1 741.3,1096.9 742.3,1097.9 743.3,1098.2 744.3,1099.2 745.3,1099.9 746.3,1100.4 747.3,1101.3 748.3,1100.7 749.3,1101.3 750.3,1102.3 751.3,1102.1 752.3,1101.0 753.3,1100.6 754.3,1101.5 755.3,1101.4 756.3,1101.5 757.3,1101.3 758.3,1102.3 759.3,1102.7 760.3,1101.2 761.3,1101.2 762.3,1102.1 763.3,1102.3 764.3,1102.7 765.3,1102.8 766.3,1102.8 767.3,1102.8 768.3,1104.5 769.3,1104.1 770.3,1102.2 771.3,1102.8 772.3,1103.4 773.3,1102.8 774.3,1102.5 775.3,1103.3 776.3,1103.5 777.3,1103.6 778.3,1104.8 779.3,1104.5 780.3,1103.7 781.3,1104.6 782.3,1104.1 783.3,1102.8 784.3,1102.9 785.3,1103.1 786.3,1103.8 787.3,1103.9 788.3,1103.5 789.3,1103.3 790.3,1103.3 791.3,1103.3 792.3,1103.1 793.3,1103.4 794.3,1104.0 795.3,1103.3 796.3,1103.0 797.3,1102.8 798.3,1103.5 799.3,1104.8 800.3,1104.2 801.3,1103.8 802.3,1103.8 803.3,1103.1 804.3,1102.6 805.3,1102.8 806.3,1102.8 807.3,1102.5 808.3,1103.2 809.3,1103.0 810.3,1102.4 811.3,1102.2 812.3,1102.9 813.3,1102.9 814.3,1103.1 815.3,1104.0 816.3,1103.4 817.3,1103.0 818.3,1103.5 819.3,1102.7 820.3,1102.4 821.3,1102.0 822.3,1102.4 823.3,1102.2 824.3,1101.4 825.3,1101.4 826.3,1102.3 827.3,1102.5 828.3,1102.3 829.3,1102.3 830.3,1103.0 831.3,1102.5 832.3,1102.0 833.3,1102.3 834.3,1101.8 835.3,1102.1 836.3,1102.2 837.3,1102.6 838.3,1102.4 839.3,1101.2 840.3,1102.4 841.3,1103.0 842.3,1101.8 843.3,1100.2 844.3,1100.4 845.3,1100.7 846.3,1100.1 847.3,1100.3 848.3,1099.8 849.3,1099.2 850.3,1098.5 851.3,1097.9 852.3,1097.6 853.3,1096.8 854.3,1095.8 855.3,1096.1 856.3,1094.9 857.3,1094.0 858.3,1093.9 859.3,1093.1 860.3,1091.5 861.3,1088.4 862.3,1085.9 863.3,1082.1 864.3,1077.7 865.3,1072.3 866.3,1064.7 867.3,1054.3 868.3,1039.4 869.3,1020.5 870.3,996.8 871.3,969.0 872.3,937.9 873.3,906.8 874.3,879.3 875.3,863.1 876.3,864.3 877.3,883.3 878.3,912.6 879.3,944.4 880.3,974.8 881.3,1002.1 882.3,1024.4 883.3,1042.8 884.3,1056.5 885.3,1065.9 886.3,1073.2 887.3,1078.3 888.3,1082.8 889.3,1086.5 890.3,1088.3 891.3,1090.2 892.3,1091.6 893.3,1093.9 894.3,1095.1 895.3,1095.9 896.3,1097.2 897.3,1097.8 898.3,1097.8 899.3,1098.6 900.3,1099.0 901.3,1099.3 902.3,1100.3 903.3,1100.6 904.3,1100.8 905.3,1100.8 906.3,1100.5 907.3,1101.4 908.3,1102.1 909.3,1101.2 910.3,1101.8 911.3,1102.4 912.3,1102.3 913.3,1102.2 914.3,1102.8 915.3,1104.1 916.3,1104.0 917.3,1103.4 918.3,1103.8 919.3,1103.7 920.3,1102.6 921.3,1102.2 922.3,1102.7 923.3,1103.0 924.3,1102.3 925.3,1102.3 926.3,1103.1 927.3,1102.7 928.3,1102.9 929.3,1104.7 930.3,1104.6 931.3,1102.8 932.3,1102.7 933.3,1103.0 934.3,1103.2 935.3,1103.4 936.3,1103.8 937.3,1103.4 938.3,1103.6 939.3,1104.1 940.3,1104.1 941.3,1103.5 942.3,1103.9 943.3,1105.5 944.3,1105.1 945.3,1104.2 946.3,1104.1 947.3,1104.9 948.3,1104.0 949.3,1103.9 950.3,1104.1 951.3,1104.3 952.3,1105.2 953.3,1104.5 954.3,1103.8 955.3,1102.8 956.3,1102.5 957.3,1103.5 958.3,1104.8 959.3,1104.8 960.3,1103.3 961.3,1103.5 962.3,1103.9 963.3,1104.1 964.3,1104.1 965.3,1103.5 966.3,1103.4 967.3,1103.6 968.3,1104.5 969.3,1105.0 970.3,1104.6 971.3,1104.4 972.3,1104.1 973.3,1104.0 974.3,1104.4 975.3,1104.4 976.3,1104.1 977.3,1104.1 978.3,1104.5 979.3,1105.4 980.3,1105.0 981.3,1104.9 982.3,1104.9 983.3,1104.8 984.3,1104.9 985.3,1104.7 986.3,1104.4 987.3,1103.4 988.3,1103.1 989.3,1104.0 990.3,1105.4 991.3,1105.8 992.3,1104.6 993.3,1104.9 994.3,1106.0 995.3,1105.6 996.3,1105.3 997.3,1105.9 998.3,1105.2 999.3,1104.6 1000.3,1104.2 1001.3,1104.6 1002.3,1105.4 1003.3,1104.9 1004.3,1104.6 1005.3,1104.8 1006.3,1104.5 1007.3,1104.1 1008.3,1104.0 1009.3,1104.2 1010.3,1104.5 1011.3,1104.9 1012.3,1104.9 1013.3,1105.1 1014.3,1104.8 1015.3,1104.5 1016.3,1104.8 1017.3,1105.0 1018.3,1105.6 1019.3,1104.7 1020.3,1104.6 1021.3,1105.9 1022.3,1105.7 1023.3,1104.4 1024.3,1105.3 1025.3,1105.8 1026.3,1104.8 1027.3,1105.8 1028.3,1105.6 1029.3,1104.7 1030.3,1105.3 1031.3,1105.7 1032.3,1105.3 1033.3,1104.8 1034.3,1104.5 1035.3,1104.8 1036.3,1104.2 1037.3,1103.6 1038.3,1104.0 1039.3,1104.2 1040.3,1105.1 1041.3,1105.3 1042.3,1104.7 1043.3,1104.4 1044.3,1104.7 1045.3,1104.9 1046.3,1104.3 1047.3,1104.2 1048.3,1104.3 1049.3,1103.9 1050.3,1104.1 1051.3,1104.9 1052.3,1105.6 1053.3,1104.5 1054.3,1103.9 1055.3,1105.5 1056.3,1105.9 1057.3,1104.4 1058.3,1104.3 1059.3,1104.5 1060.3,1105.0 1061.3,1105.4 1062.3,1104.9 1063.3,1104.9 1064.3,1105.3 1065.3,1105.2 1066.3,1105.2 1067.3,1104.9 1068.3,1104.2 1069.3,1104.9 1070.3,1105.4 1071.3,1104.4 1072.3,1104.3 1073.3,1105.6 1074.3,1106.3 1075.3,1104.7 1076.3,1104.7 1077.3,1105.2 1078.3,1104.8 1079.3,1104.6 1080.3,1104.9 1081.3,1106.0 1082.3,1105.1 1083.3,1103.9 1084.3,1104.2 1085.3,1104.3 1086.3,1104.3 1087.3,1104.2 1088.3,1104.8 1089.3,1105.7 1090.3,1104.8 1091.3,1104.1 1092.3,1105.5 1093.3,1105.2 1094.3,1105.5 1095.3,1106.3 1096.3,1105.9 1097.3,1106.1 1098.3,1106.2 1099.3,1106.0 1100.3,1105.2 1101.3,1104.9 1102.3,1105.4 1103.3,1104.6 1104.3,1104.5 1105.3,1105.2 1106.3,1105.1 1107.3,1105.1 1108.3,1105.9 1109.3,1105.4 1110.3,1104.6 1111.3,1104.9 1112.3,1105.0 1113.3,1105.5 1114.3,1104.4 1115.3,1104.0 1116.3,1104.8 1117.3,1104.2 1118.3,1105.2 1119.3,1105.7 1120.3,1104.6 1121.3,1105.4 1122.3,1105.9 1123.3,1105.0 1124.3,1105.2 1125.3,1105.5 1126.3,1104.8 1127.3,1104.3 1128.3,1104.6 1129.3,1104.6 1130.3,1104.9 1131.3,1104.8 1132.3,1104.2 1133.3,1104.4 1134.3,1105.1 1135.3,1104.2 1136.3,1104.0 1137.3,1104.8 1138.3,1105.9 1139.3,1105.8 1140.3,1105.2 1141.3,1105.1 1142.3,1105.0 1143.3,1104.0 1144.3,1104.6 1145.3,1105.5 1146.3,1105.3 1147.3,1104.5 1148.3,1103.9 1149.3,1104.6 1150.3,1104.7 1151.3,1104.5 1152.3,1105.7 1153.3,1105.8 1154.3,1105.0 1155.3,1105.2 1156.3,1104.6 1157.3,1104.6 1158.3,1105.9 1159.3,1105.7 1160.3,1105.3 1161.3,1105.6 1162.3,1105.1 1163.3,1105.0 1164.3,1105.1 1165.3,1105.1 1166.3,1105.6 1167.3,1105.2 1168.3,1104.2 1169.3,1103.7 1170.3,1104.3 1171.3,1105.4 1172.3,1105.1 1173.3,1104.6 1174.3,1104.6 1175.3,1105.1 1176.3,1104.7 1177.3,1105.3 1178.3,1105.4 1179.3,1104.3 1180.3,1105.0 1181.3,1105.3 1182.3,1104.9 1183.3,1105.3 1184.3,1105.8 1185.3,1105.1 1186.3,1104.8 1187.3,1105.4 1188.3,1105.6 1189.3,1106.2 1190.3,1105.9 1191.3,1104.7 1192.3,1104.3 1193.3,1105.0 1194.3,1105.2 1195.3,1104.5 1196.3,1104.4 1197.3,1104.0 1198.3,1104.5 1199.3,1105.4 1200.3,1104.9 1201.3,1104.7 1202.3,1105.4 1203.3,1104.9 1204.3,1104.6 1205.3,1104.9 1206.3,1104.9 1207.3,1104.1 1208.3,1104.9 1209.3,1106.2 1210.3,1105.5 1211.3,1105.1 1212.3,1105.5 1213.3,1105.3 1214.3,1104.5 1215.3,1104.5 1216.3,1104.8 1217.3,1104.8 1218.3,1104.8 1219.3,1105.4 1220.3,1105.6 1221.3,1104.9 1222.3,1104.8 1223.3,1104.5 1224.3,1104.8 1225.3,1105.2 1226.3,1105.7 1227.3,1104.7 1228.3,1104.7 1229.3,1105.1 1230.3,1104.2 1231.3,1104.2 1232.3,1104.3 1233.3,1104.9 1234.3,1104.5 1235.3,1104.3 1236.3,1104.5 1237.3,1105.2 1238.3,1104.8 1239.3,1105.0 1240.3,1105.5 1241.3,1105.0 1242.3,1104.5 1243.3,1103.4 1244.3,1103.9 1245.3,1105.0 1246.3,1105.1 1247.3,1105.1 1248.3,1105.1 1249.3,1105.8 1250.3,1105.1 1251.3,1104.2 1252.3,1103.6 1253.3,1104.9 1254.3,1105.6 1255.3,1104.8 1256.3,1104.9 1257.3,1104.3 1258.3,1103.7 1259.3,1104.7 1260.3,1105.0 1261.3,1104.7 1262.3,1105.3 1263.3,1105.0 1264.3,1104.7 1265.3,1106.0 1266.3,1106.8 1267.3,1105.5 1268.3,1104.6 1269.3,1105.3 1270.3,1106.0 1271.3,1106.3 1272.3,1105.2 1273.3,1104.2 1274.3,1104.6 1275.3,1105.4 1276.3,1105.7 1277.3,1105.8 1278.3,1105.5 1279.3,1105.7 1280.3,1105.7 1281.3,1104.9 1282.3,1104.8 1283.3,1104.8 1284.3,1105.5 1285.3,1105.8 1286.3,1105.1 1287.3,1105.4 1288.3,1105.3 1289.3,1105.2 1290.3,1106.0 1291.3,1105.4 1292.3,1104.8 1293.3,1105.3 1294.3,1104.5 1295.3,1105.0 1296.3,1105.5 1297.3,1104.4 1298.3,1104.4 1299.3,1104.9 1300.3,1105.1 1301.3,1105.2 1302.3,1105.1 1303.3,1105.1 1304.3,1105.9 1305.3,1105.3 1306.3,1105.5 1307.3,1105.9 1308.3,1106.0 1309.3,1105.2 1310.3,1105.2 1311.3,1106.1 1312.3,1106.0 1313.3,1106.0 1314.3,1106.0 1315.3,1106.2 1316.3,1105.6 1317.3,1104.7 1318.3,1104.6 1319.3,1104.4 1320.3,1104.7 1321.3,1104.5 1322.3,1105.0 1323.3,1104.7 1324.3,1103.7 1325.3,1104.7 1326.3,1105.0 1327.3,1104.7 1328.3,1104.9 1329.3,1105.1 1330.3,1105.2 1331.3,1104.2 1332.3,1103.2 1333.3,1103.3 1334.3,1103.9 1335.3,1103.7 1336.3,1102.8 1337.3,1103.8 1338.3,1105.6 1339.3,1104.9 1340.3,1104.2 1341.3,1103.9 1342.3,1104.0 1343.3,1103.3 1344.3,1102.1 1345.3,1102.7 1346.3,1104.0 1347.3,1103.7 1348.3,1103.8 1349.3,1103.7 1350.3,1102.9 1351.3,1101.6 1352.3,1100.7 1353.3,1100.5 1354.3,1100.4 1355.3,1099.9 1356.3,1099.0 1357.3,1098.1 1358.3,1097.9 1359.3,1095.6 1360.3,1092.4 1361.3,1089.2 1362.3,1086.3 1363.3,1083.4 1364.3,1078.3 1365.3,1071.6 1366.3,1067.0 1367.3,1064.0 1368.3,1062.5 1369.3,1063.9 1370.3,1066.5 1371.3,1070.9 1372.3,1076.1 1373.3,1080.5 1374.3,1085.0 1375.3,1089.4 1376.3,1091.9 1377.3,1094.0 1378.3,1096.4 1379.3,1097.6 1380.3,1098.3 1381.3,1099.7 1382.3,1101.0 1383.3,1100.8 1384.3,1101.1 1385.3,1102.1 1386.3,1102.4 1387.3,1102.9 1388.3,1103.4 1389.3,1103.5 1390.3,1103.3 1391.3,1104.1 1392.3,1104.3 1393.3,1103.4 1394.3,1104.0 1395.3,1104.2 1396.3,1103.1 1397.3,1103.4 1398.3,1103.7 1399.3,1103.1 1400.3,1103.5 1401.3,1103.9 1402.3,1104.3 1403.3,1104.3 1404.3,1103.9 1405.3,1104.5 1406.3,1105.0 1407.3,1104.9 1408.3,1105.1 1409.3,1104.9 1410.3,1104.6 1411.3,1104.9 1412.3,1104.7 1413.3,1105.1 1414.3,1105.4 1415.3,1105.3 1416.3,1104.5 1417.3,1104.1 1418.3,1103.7 1419.3,1104.4 1420.3,1104.5 1421.3,1103.9 1422.3,1105.0 1423.3,1105.3 1424.3,1104.0 1425.3,1104.4 1426.3,1104.8 1427.3,1104.6 1428.3,1104.0 1429.3,1104.0 1430.3,1104.1 1431.3,1104.4 1432.3,1104.5 1433.3,1104.4 1434.3,1105.1 1435.3,1105.4 1436.3,1104.8 1437.3,1104.8 1438.3,1105.0 1439.3,1104.3 1440.3,1104.4 1441.3,1105.6 1442.3,1105.8 1443.3,1104.9 1444.3,1104.9 1445.3,1105.1 1446.3,1105.4 1447.3,1105.4 1448.3,1104.8 1449.3,1105.2 1450.3,1105.0 1451.3,1104.1 1452.3,1104.2 1453.3,1104.9 1454.3,1104.9 1455.3,1104.8 1456.3,1104.8 1457.3,1104.5 1458.3,1104.6 1459.3,1105.2 1460.3,1105.3 1461.3,1104.3 1462.3,1104.3 1463.3,1105.2 1464.3,1104.7 1465.3,1104.4 1466.3,1103.4 1467.3,1103.0 1468.3,1103.4 1469.3,1103.0 1470.3,1103.3 1471.3,1102.6 1472.3,1101.8 1473.3,1101.9 1474.3,1102.1 1475.3,1102.4 1476.3,1103.0 1477.3,1101.9 1478.3,1101.8 1479.3,1103.1 1480.3,1102.7 1481.3,1102.0 1482.3,1102.6 1483.3,1103.6 1484.3,1103.3 1485.3,1104.5 1486.3,1104.4 1487.3,1102.6 1488.3,1102.7 1489.3,1103.3 1490.3,1104.4 1491.3,1105.7 1492.3,1105.7 1493.3,1104.8 1494.3,1104.5 1495.3,1104.2 1496.3,1104.9 1497.3,1105.0 1498.3,1104.6 1499.3,1104.8 1500.3,1105.0 1501.3,1104.9 1502.3,1104.4 1503.3,1104.8 1504.3,1105.2 1505.3,1105.5 1506.3,1104.5 1507.3,1102.9 1508.3,1103.8 1509.3,1104.4 1510.3,1103.9 1511.3,1103.8 1512.3,1103.8 1513.3,1104.4 1514.3,1105.2 1515.3,1105.9 1516.3,1105.2 1517.3,1104.8 1518.3,1105.3 1519.3,1104.6 1520.3,1104.8 1521.3,1105.9 1522.3,1105.9 1523.3,1105.4 1524.3,1106.3 1525.3,1107.2 1526.3,1106.8 1527.3,1106.2 1528.3,1106.0 1529.3,1106.2 1530.3,1106.1 1531.3,1106.2 1532.3,1105.9 1533.3,1104.7 1534.3,1105.2 1535.3,1106.8 1536.3,1106.1 1537.3,1106.5 1538.3,1106.7 1539.3,1105.5 1540.3,1104.7 1541.3,1105.3 1542.3,1105.7 1543.3,1105.9 1544.3,1106.4 1545.3,1106.4 1546.3,1106.2 1547.3,1106.7 1548.3,1106.0 1549.3,1105.2 1550.3,1104.9 1551.3,1105.4 1552.3,1104.7 1553.3,1104.2 1554.3,1105.4 1555.3,1105.2 1556.3,1104.7 1557.3,1104.3 1558.3,1103.9 1559.3,1105.0 1560.3,1106.1 1561.3,1105.5 1562.3,1104.5 1563.3,1104.7 1564.3,1104.5 1565.3,1104.7 1566.3,1105.1 1567.3,1105.0 1568.3,1104.7 1569.3,1104.8 1570.3,1104.7 1571.3,1105.2 1572.3,1105.8 1573.3,1105.5 1574.3,1105.3 1575.3,1105.3 1576.3,1106.2 1577.3,1105.2 1578.3,1104.1 1579.3,1105.0 1580.3,1105.5 1581.3,1105.6 1582.3,1105.5 1583.3,1105.5 1584.3,1104.8 1585.3,1103.8 1586.3,1104.5 1587.3,1105.9 1588.3,1105.4 1589.3,1104.7 1590.3,1104.8 1591.3,1104.5 1592.3,1103.9 1593.3,1104.2 1594.3,1105.0 1595.3,1104.9 1596.3,1105.3 1597.3,1105.4 1598.3,1105.4 1599.3,1105.5 1600.3,1105.4 1601.3,1105.2 1602.3,1103.9 1603.3,1104.8 1604.3,1105.7 1605.3,1106.0 1606.3,1106.6 1607.3,1105.1 1608.3,1105.3 1609.3,1105.6 1610.3,1105.3 1611.3,1106.0 1612.3,1105.5 1613.3,1105.7 1614.3,1105.1 1615.3,1105.1 1616.3,1105.1 1617.3,1105.3 1618.3,1105.9 1619.3,1105.8 1620.3,1104.9 1621.3,1104.0 1622.3,1104.6 1623.3,1104.9 1624.3,1104.3 1625.3,1104.7 1626.3,1105.0 1627.3,1105.1 1628.3,1105.5 1629.3,1106.3 1630.3,1106.5 1631.3,1105.0 1632.3,1105.4 1633.3,1106.3 1634.3,1105.1 1635.3,1105.1 1636.3,1106.0 1637.3,1105.3 1638.3,1105.6 1639.3,1105.8 1640.3,1105.5 1641.3,1106.3 1642.3,1106.8 1643.3,1105.3 1644.3,1105.2 1645.3,1105.8 1646.3,1106.5 1647.3,1105.7 1648.3,1104.8 1649.3,1105.0 1650.3,1104.8 1651.3,1105.3 1652.3,1105.3 1653.3,1105.2 1654.3,1105.1 1655.3,1104.5 1656.3,1105.5 1657.3,1105.7 1658.3,1105.0 1659.3,1105.7 1660.3,1106.1 1661.3,1105.6 1662.3,1105.6 1663.3,1106.3 1664.3,1105.4 1665.3,1104.2 1666.3,1104.8 1667.3,1104.5 1668.3,1104.7 1669.3,1105.1 1670.3,1105.7 1671.3,1105.4 1672.3,1104.9 1673.3,1105.4 1674.3,1105.0 1675.3,1104.5 1676.3,1105.8 1677.3,1104.7 1678.3,1104.0 1679.3,1104.7 1680.3,1104.7 1681.3,1104.5 1682.3,1104.4 1683.3,1104.9 1684.3,1104.9 1685.3,1104.9 1686.3,1105.3 1687.3,1105.4 1688.3,1105.3 1689.3,1105.6 1690.3,1105.5 1691.3,1105.2 1692.3,1105.6 1693.3,1105.3 1694.3,1105.2 1695.3,1104.2 1696.3,1104.2 1697.3,1105.0 1698.3,1104.9 1699.3,1103.7 1700.3,1105.0 1701.3,1105.5 1702.3,1103.6 1703.3,1103.8 1704.3,1105.0 1705.3,1104.3 1706.3,1102.9 1707.3,1103.4 1708.3,1104.0 1709.3,1103.5 1710.3,1102.2 1711.3,1102.0 1712.3,1103.3 1713.3,1101.8 1714.3,1100.4 1715.3,1100.2 1716.3,1099.4 1717.3,1097.9 1718.3,1096.5 1719.3,1095.5 1720.3,1093.5 1721.3,1090.2 1722.3,1087.7 1723.3,1085.4 1724.3,1083.2 1725.3,1080.8 1726.3,1079.4 1727.3,1078.5 1728.3,1076.3 1729.3,1075.7 1730.3,1077.4 1731.3,1079.1 1732.3,1081.7 1733.3,1084.0 1734.3,1086.3 1735.3,1088.7 1736.3,1091.5 1737.3,1093.5 1738.3,1094.7 1739.3,1097.0 1740.3,1098.5 1741.3,1098.6 1742.3,1099.2 1743.3,1100.9 1744.3,1101.0 1745.3,1101.3 1746.3,1102.4 1747.3,1103.1 1748.3,1102.6 1749.3,1102.0 1750.3,1102.8 1751.3,1103.1 1752.3,1104.0 1753.3,1105.1 1754.3,1104.6 1755.3,1104.4 1756.3,1103.9 1757.3,1103.2 1758.3,1103.8 1759.3,1104.8 1760.3,1104.4 1761.3,1104.8 1762.3,1105.1 1763.3,1104.9 1764.3,1104.9 1765.3,1105.3 1766.3,1105.3 1767.3,1104.3 1768.3,1103.7 1769.3,1104.8 1770.3,1105.4 1771.3,1105.6 1772.3,1105.2 1773.3,1104.5 1774.3,1104.5 1775.3,1104.0 1776.3,1103.4 1777.3,1104.6 1778.3,1104.9 1779.3,1103.5 1780.3,1104.0 1781.3,1104.8 1782.3,1105.2 1783.3,1105.2 1784.3,1104.3 1785.3,1103.4 1786.3,1103.6 1787.3,1105.0 1788.3,1104.2 1789.3,1103.0 1790.3,1103.6 1791.3,1103.9 1792.3,1104.1 1793.3,1105.1 1794.3,1105.3 1795.3,1104.0 1796.3,1104.2 1797.3,1104.6 1798.3,1104.4 1799.3,1103.8 1800.3,1104.1 1801.3,1104.6 1802.3,1104.7 1803.3,1106.0 1804.3,1105.5 1805.3,1103.6 1806.3,1103.3 1807.3,1103.6 1808.3,1104.0 1809.3,1104.7 1810.3,1104.9 1811.3,1103.7 1812.3,1103.9 1813.3,1104.7 1814.3,1104.8 1815.3,1105.2 1816.3,1104.6 1817.3,1104.0 1818.3,1103.6 1819.3,1104.4 1820.3,1104.7 1821.3,1104.1 1822.3,1104.3 1823.3,1104.9 1824.3,1105.1 1825.3,1104.8 1826.3,1104.9 1827.3,1105.0 1828.3,1104.9 1829.3,1105.1 1830.3,1105.5 1831.3,1105.0 1832.3,1103.8 1833.3,1104.1 1834.3,1104.9 1835.3,1105.6 1836.3,1104.1 1837.3,1102.6 1838.3,1103.1 1839.3,1103.4 1840.3,1103.7 1841.3,1104.2 1842.3,1103.9 1843.3,1103.6 1844.3,1103.0 1845.3,1102.1 1846.3,1102.5 1847.3,1102.8 1848.3,1103.1 1849.3,1103.5 1850.3,1102.7 1851.3,1101.8 1852.3,1101.8 1853.3,1101.6 1854.3,1101.1 1855.3,1099.7 1856.3,1099.2 1857.3,1100.3 1858.3,1099.5 1859.3,1097.9 1860.3,1097.4 1861.3,1096.3 1862.3,1094.3 1863.3,1092.3 1864.3,1089.6 1865.3,1086.6 1866.3,1083.6 1867.3,1078.9 1868.3,1073.3 1869.3,1068.1 1870.3,1062.4 1871.3,1056.8 1872.3,1050.9 1873.3,1045.5 1874.3,1044.7 1875.3,1045.2 1876.3,1047.9 1877.3,1053.5 1878.3,1058.9 1879.3,1065.5 1880.3,1071.5 1881.3,1076.0 1882.3,1080.4 1883.3,1084.5 1884.3,1087.3 1885.3,1090.5 1886.3,1094.3 1887.3,1096.1 1888.3,1097.2 1889.3,1098.4 1890.3,1099.2 1891.3,1099.5 1892.3,1101.2 1893.3,1101.9 1894.3,1101.7 1895.3,1101.8 1896.3,1102.2 1897.3,1102.8 1898.3,1103.2 1899.3,1103.0 1900.3,1102.6 1901.3,1103.0 1902.3,1103.2 1903.3,1104.2 1904.3,1104.5 1905.3,1103.8 1906.3,1104.2 1907.3,1103.4 1908.3,1102.6 1909.3,1103.9 1910.3,1104.1 1911.3,1103.0 1912.3,1103.3 1913.3,1104.7 1914.3,1104.7 1915.3,1103.8 1916.3,1103.8 1917.3,1104.5 1918.3,1104.7 1919.3,1104.1 1920.3,1104.0 1921.3,1104.8 1922.3,1104.1 1923.3,1104.1 1924.3,1104.3 1925.3,1105.0 1926.3,1105.1 1927.3,1104.8 1928.3,1105.9 1929.3,1106.2 1930.3,1105.4 1931.3,1104.7 1932.3,1104.7 1933.3,1104.3 1934.3,1105.0 1935.3,1105.4 1936.3,1105.0 1937.3,1105.1 1938.3,1105.5 1939.3,1105.1 1940.3,1105.4 1941.3,1105.8 1942.3,1105.5 1943.3,1105.2 1944.3,1105.2 1945.3,1105.3 1946.3,1105.3 1947.3,1105.2 1948.3,1104.5 1949.3,1104.0 1950.3,1104.8 1951.3,1105.4 1952.3,1105.5 1953.3,1105.2 1954.3,1104.9 1955.3,1104.2 1956.3,1105.1 1957.3,1106.0 1958.3,1106.4 1959.3,1106.3 1960.3,1105.5 1961.3,1105.1 1962.3,1104.1 1963.3,1104.5 1964.3,1105.4 1965.3,1105.0 1966.3,1105.2 1967.3,1104.2 1968.3,1104.4 1969.3,1105.5 1970.3,1105.0 1971.3,1104.3 1972.3,1105.1 1973.3,1105.3 1974.3,1105.3 1975.3,1104.8 1976.3,1105.0 1977.3,1106.4 1978.3,1105.9 1979.3,1106.4 1980.3,1105.7 1981.3,1104.8 1982.3,1105.2 1983.3,1105.4 1984.3,1105.2 1985.3,1104.9 1986.3,1105.0 1987.3,1104.4 1988.3,1103.3 1989.3,1103.9 1990.3,1105.2 1991.3,1105.0 1992.3,1104.7 1993.3,1105.1 1994.3,1105.8 1995.3,1105.5 1996.3,1105.3 1997.3,1105.0 1998.3,1104.4 1999.3,1105.2 2000.3,1105.5 2001.3,1105.6 2002.3,1105.4 2003.3,1105.2 2004.3,1106.3 2005.3,1105.7 2006.3,1104.2 2007.3,1103.5 2008.3,1104.9 2009.3,1105.8 2010.3,1105.5 2011.3,1105.1 2012.3,1105.0 2013.3,1105.9 2014.3,1105.4 2015.3,1104.8 2016.3,1104.8 2017.3,1104.8 2018.3,1105.0 2019.3,1104.8 2020.3,1105.4 2021.3,1105.4 2021.6,1105.4"/>
<polyline fill="none" stroke="#0000ff" stroke-width="9.8" stroke-linejoin="round" stroke-linecap="butt" points="159.3,859.1 160.3,859.0 161.3,858.9 162.3,858.9 163.3,858.8 164.3,859.3 165.3,859.1 166.3,858.3 167.3,858.1 168.3,857.5 169.3,857.6 170.3,858.0 171.3,857.7 172.3,855.9 173.3,856.0 174.3,857.4 175.3,857.1 176.3,856.8 177.3,857.9 178.3,857.7 179.3,856.0 180.3,855.2 181.3,855.4 182.3,854.4 183.3,852.7 184.3,851.0 185.3,849.3 186.3,845.6 187.3,840.8 188.3,836.9 189.3,836.1 190.3,835.8 191.3,835.6 192.3,838.2 193.3,840.5 194.3,841.4 195.3,841.5 196.3,840.7 197.3,838.7 198.3,835.9 199.3,833.0 200.3,830.4 201.3,830.6 202.3,833.8 203.3,838.1 204.3,842.0 205.3,845.7 206.3,849.7 207.3,851.9 208.3,851.9 209.3,853.4 210.3,854.6 211.3,854.6 212.3,855.3 213.3,855.9 214.3,856.0 215.3,856.5 216.3,855.9 217.3,855.8 218.3,855.9 219.3,855.7 220.3,854.7 221.3,854.3 222.3,855.8 223.3,856.6 224.3,856.4 225.3,855.6 226.3,856.0 227.3,857.3 228.3,855.9 229.3,855.1 230.3,856.1 231.3,856.3 232.3,855.2 233.3,855.1 234.3,855.7 235.3,855.5 236.3,856.0 237.3,856.6 238.3,856.0 239.3,856.5 240.3,856.3 241.3,856.4 242.3,856.5 243.3,856.3 244.3,856.3 245.3,855.9 246.3,856.8 247.3,856.2 248.3,856.0 249.3,855.9 250.3,855.4 251.3,855.8 252.3,855.9 253.3,856.1 254.3,856.1 255.3,857.1 256.3,857.3 257.3,856.2 258.3,855.6 259.3,855.7 260.3,855.8 261.3,855.6 262.3,856.1 263.3,856.6 264.3,855.3 265.3,854.6 266.3,855.3 267.3,856.0 268.3,855.3 269.3,854.7 270.3,854.7 271.3,855.4 272.3,855.6 273.3,854.9 274.3,855.5 275.3,855.0 276.3,854.4 277.3,856.3 278.3,857.0 279.3,855.2 280.3,854.6 281.3,855.1 282.3,855.8 283.3,856.4 284.3,856.8 285.3,857.1 286.3,856.7 287.3,855.8 288.3,855.4 289.3,855.8 290.3,855.5 291.3,856.3 292.3,857.2 293.3,855.5 294.3,855.8 295.3,856.3 296.3,856.2 297.3,856.2 298.3,855.5 299.3,855.0 300.3,854.8 301.3,855.0 302.3,855.1 303.3,855.6 304.3,855.7 305.3,855.5 306.3,856.1 307.3,855.5 308.3,854.8 309.3,856.2 310.3,856.2 311.3,854.7 312.3,855.7 313.3,856.5 314.3,856.0 315.3,855.0 316.3,855.8 317.3,856.7 318.3,856.0 319.3,855.5 320.3,855.8 321.3,856.6 322.3,856.1 323.3,855.5 324.3,855.9 325.3,854.7 326.3,855.0 327.3,855.6 328.3,855.0 329.3,855.8 330.3,855.7 331.3,856.0 332.3,857.1 333.3,856.7 334.3,856.0 335.3,856.4 336.3,856.7 337.3,856.4 338.3,855.9 339.3,855.9 340.3,856.1 341.3,856.7 342.3,856.0 343.3,855.8 344.3,856.1 345.3,855.6 346.3,854.8 347.3,854.7 348.3,856.0 349.3,856.1 350.3,856.5 351.3,856.2 352.3,855.0 353.3,855.6 354.3,855.7 355.3,855.7 356.3,856.3 357.3,856.1 358.3,855.7 359.3,854.9 360.3,855.1 361.3,855.7 362.3,855.4 363.3,855.0 364.3,854.9 365.3,855.0 366.3,855.5 367.3,855.2 368.3,855.3 369.3,855.8 370.3,855.9 371.3,855.7 372.3,855.3 373.3,855.8 374.3,856.2 375.3,856.4 376.3,856.9 377.3,857.1 378.3,856.8 379.3,855.7 380.3,856.0 381.3,856.3 382.3,856.0 383.3,855.8 384.3,856.0 385.3,855.9 386.3,854.9 387.3,854.5 388.3,855.9 389.3,856.0 390.3,855.5 391.3,855.5 392.3,855.5 393.3,855.6 394.3,856.3 395.3,856.3 396.3,855.7 397.3,855.8 398.3,856.1 399.3,855.3 400.3,855.8 401.3,855.9 402.3,855.3 403.3,856.5 404.3,856.9 405.3,856.5 406.3,856.2 407.3,855.5 408.3,856.1 409.3,857.9 410.3,857.4 411.3,855.8 412.3,855.6 413.3,855.5 414.3,855.5 415.3,856.1 416.3,855.9 417.3,856.2 418.3,856.1 419.3,854.5 420.3,854.8 421.3,855.5 422.3,855.5 423.3,855.5 424.3,855.6 425.3,855.0 426.3,855.0 427.3,854.7 428.3,854.7 429.3,854.8 430.3,854.3 431.3,855.2 432.3,855.1 433.3,854.2 434.3,855.3 435.3,855.3 436.3,855.6 437.3,855.7 438.3,854.8 439.3,854.7 440.3,855.5 441.3,855.8 442.3,855.2 443.3,854.8 444.3,855.0 445.3,854.1 446.3,852.9 447.3,852.9 448.3,853.4 449.3,852.3 450.3,852.8 451.3,853.9 452.3,853.9 453.3,852.5 454.3,851.5 455.3,850.9 456.3,850.6 457.3,850.3 458.3,849.4 459.3,847.8 460.3,846.7 461.3,844.8 462.3,841.5 463.3,838.2 464.3,835.4 465.3,831.1 466.3,826.8 467.3,823.3 468.3,822.0 469.3,822.6 470.3,823.4 471.3,827.4 472.3,831.4 473.3,834.4 474.3,839.0 475.3,843.0 476.3,845.4 477.3,847.1 478.3,848.8 479.3,849.8 480.3,850.7 481.3,851.0 482.3,852.3 483.3,853.0 484.3,853.4 485.3,854.6 486.3,854.5 487.3,854.1 488.3,853.6 489.3,853.0 490.3,853.4 491.3,853.3 492.3,854.1 493.3,853.9 494.3,853.9 495.3,855.1 496.3,855.2 497.3,855.0 498.3,853.8 499.3,853.5 500.3,855.1 501.3,855.2 502.3,855.1 503.3,855.0 504.3,854.8 505.3,854.7 506.3,855.4 507.3,854.8 508.3,853.9 509.3,854.7 510.3,854.9 511.3,854.4 512.3,854.0 513.3,853.7 514.3,854.2 515.3,853.6 516.3,852.9 517.3,854.1 518.3,854.8 519.3,854.7 520.3,854.9 521.3,853.9 522.3,852.8 523.3,853.4 524.3,853.4 525.3,852.9 526.3,853.3 527.3,854.2 528.3,854.4 529.3,854.0 530.3,853.4 531.3,854.1 532.3,854.0 533.3,852.8 534.3,852.6 535.3,852.6 536.3,852.6 537.3,852.6 538.3,852.1 539.3,851.7 540.3,852.0 541.3,851.4 542.3,850.3 543.3,848.6 544.3,847.7 545.3,845.4 546.3,841.6 547.3,837.2 548.3,828.4 549.3,818.3 550.3,807.5 551.3,793.1 552.3,779.3 553.3,767.7 554.3,760.0 555.3,760.1 556.3,767.5 557.3,779.6 558.3,794.7 559.3,808.5 560.3,819.1 561.3,827.2 562.3,834.7 563.3,840.3 564.3,843.7 565.3,847.1 566.3,849.0 567.3,849.7 568.3,850.5 569.3,852.3 570.3,853.8 571.3,853.4 572.3,853.0 573.3,853.3 574.3,853.2 575.3,852.4 576.3,853.1 577.3,853.5 578.3,853.6 579.3,854.0 580.3,854.3 581.3,854.6 582.3,854.4 583.3,854.1 584.3,854.7 585.3,855.0 586.3,855.0 587.3,853.9 588.3,853.0 589.3,853.2 590.3,853.6 591.3,853.6 592.3,854.2 593.3,853.9 594.3,854.2 595.3,854.8 596.3,854.1 597.3,853.5 598.3,853.7 599.3,852.7 600.3,852.4 601.3,853.6 602.3,853.8 603.3,853.9 604.3,853.1 605.3,852.2 606.3,851.9 607.3,851.1 608.3,850.1 609.3,848.9 610.3,847.5 611.3,845.7 612.3,843.4 613.3,842.0 614.3,841.6 615.3,842.2 616.3,844.5 617.3,846.9 618.3,848.7 619.3,849.3 620.3,850.9 621.3,853.4 622.3,854.6 623.3,854.5 624.3,854.6 625.3,854.5 626.3,854.1 627.3,854.0 628.3,854.2 629.3,854.5 630.3,855.6 631.3,855.1 632.3,854.4 633.3,854.3 634.3,854.6 635.3,855.3 636.3,855.4 637.3,853.8 638.3,853.4 639.3,855.5 640.3,855.6 641.3,854.9 642.3,854.9 643.3,854.4 644.3,853.3 645.3,854.1 646.3,854.1 647.3,853.9 648.3,854.6 649.3,854.6 650.3,854.0 651.3,854.2 652.3,854.5 653.3,854.0 654.3,854.1 655.3,854.4 656.3,854.4 657.3,854.7 658.3,855.6 659.3,856.0 660.3,855.2 661.3,855.2 662.3,855.4 663.3,854.5 664.3,855.5 665.3,856.2 666.3,854.8 667.3,855.0 668.3,855.5 669.3,855.4 670.3,855.7 671.3,854.7 672.3,854.4 673.3,855.7 674.3,855.6 675.3,854.8 676.3,854.8 677.3,854.8 678.3,855.4 679.3,855.6 680.3,855.4 681.3,855.4 682.3,854.8 683.3,855.0 684.3,855.9 685.3,856.1 686.3,855.0 687.3,854.9 688.3,855.4 689.3,855.0 690.3,854.2 691.3,854.2 692.3,855.0 693.3,855.1 694.3,854.4 695.3,854.6 696.3,854.8 697.3,854.4 698.3,854.8 699.3,855.8 700.3,855.8 701.3,854.7 702.3,855.1 703.3,856.4 704.3,855.3 705.3,854.8 706.3,855.9 707.3,856.5 708.3,854.6 709.3,853.8 710.3,854.4 711.3,854.4 712.3,854.6 713.3,855.2 714.3,855.3 715.3,854.7 716.3,854.0 717.3,854.0 718.3,854.2 719.3,853.5 720.3,853.1 721.3,852.4 722.3,850.9 723.3,849.6 724.3,849.7 725.3,849.3 726.3,847.6 727.3,847.7 728.3,846.4 729.3,844.8 730.3,844.8 731.3,844.9 732.3,846.1 733.3,847.4 734.3,848.7 735.3,849.0 736.3,850.2 737.3,852.6 738.3,853.5 739.3,853.6 740.3,853.8 741.3,853.9 742.3,853.3 743.3,854.8 744.3,855.8 745.3,855.2 746.3,855.5 747.3,854.9 748.3,854.1 749.3,855.2 750.3,855.4 751.3,855.1 752.3,854.3 753.3,853.3 754.3,852.3 755.3,850.8 756.3,850.2 757.3,850.1 758.3,850.4 759.3,850.2 760.3,850.5 761.3,852.1 762.3,852.9 763.3,853.1 764.3,853.7 765.3,854.5 766.3,855.2 767.3,855.9 768.3,856.3 769.3,856.3 770.3,855.7 771.3,855.6 772.3,854.9 773.3,854.7 774.3,855.2 775.3,854.2 776.3,852.3 777.3,850.6 778.3,849.5 779.3,848.6 780.3,848.4 781.3,847.8 782.3,847.6 783.3,849.3 784.3,851.9 785.3,852.7 786.3,853.8 787.3,854.7 788.3,854.9 789.3,855.1 790.3,856.3 791.3,856.6 792.3,856.1 793.3,856.4 794.3,855.9 795.3,856.5 796.3,856.3 797.3,856.2 798.3,855.8 799.3,855.0 800.3,855.8 801.3,856.6 802.3,857.2 803.3,856.9 804.3,856.4 805.3,856.4 806.3,856.5 807.3,857.0 808.3,857.8 809.3,857.8 810.3,857.1 811.3,856.2 812.3,855.8 813.3,855.9 814.3,855.7 815.3,856.5 816.3,856.7 817.3,855.8 818.3,855.4 819.3,855.5 820.3,856.1 821.3,856.8 822.3,856.7 823.3,856.4 824.3,857.5 825.3,856.8 826.3,855.2 827.3,855.0 828.3,856.7 829.3,856.6 830.3,855.8 831.3,856.5 832.3,856.3 833.3,854.5 834.3,855.2 835.3,855.7 836.3,855.5 837.3,856.1 838.3,855.8 839.3,854.7 840.3,854.8 841.3,855.1 842.3,853.4 843.3,853.0 844.3,853.7 845.3,853.9 846.3,853.4 847.3,852.1 848.3,852.7 849.3,854.1 850.3,853.9 851.3,852.7 852.3,851.9 853.3,851.6 854.3,851.3 855.3,851.3 856.3,850.4 857.3,849.8 858.3,849.9 859.3,848.2 860.3,847.2 861.3,845.8 862.3,843.2 863.3,841.7 864.3,838.5 865.3,834.6 866.3,829.3 867.3,821.0 868.3,811.4 869.3,796.4 870.3,775.9 871.3,749.5 872.3,718.0 873.3,683.2 874.3,648.0 875.3,621.5 876.3,612.7 877.3,625.3 878.3,654.3 879.3,690.5 880.3,725.4 881.3,755.4 882.3,780.9 883.3,798.9 884.3,813.1 885.3,824.1 886.3,830.6 887.3,835.5 888.3,839.4 889.3,841.8 890.3,843.7 891.3,844.9 892.3,846.0 893.3,847.8 894.3,848.8 895.3,849.9 896.3,850.5 897.3,850.3 898.3,851.1 899.3,851.6 900.3,852.9 901.3,854.2 902.3,852.9 903.3,852.9 904.3,854.1 905.3,854.0 906.3,853.8 907.3,854.4 908.3,854.9 909.3,855.1 910.3,854.8 911.3,853.9 912.3,854.4 913.3,854.4 914.3,854.5 915.3,855.9 916.3,856.2 917.3,855.6 918.3,856.7 919.3,857.5 920.3,856.6 921.3,855.5 922.3,855.7 923.3,855.4 924.3,856.0 925.3,856.3 926.3,856.0 927.3,855.8 928.3,855.4 929.3,855.7 930.3,855.0 931.3,854.1 932.3,853.7 933.3,852.9 934.3,853.2 935.3,853.6 936.3,853.5 937.3,854.2 938.3,854.2 939.3,853.2 940.3,852.7 941.3,852.1 942.3,852.1 943.3,852.7 944.3,853.0 945.3,853.4 946.3,852.4 947.3,851.0 948.3,851.4 949.3,851.9 950.3,851.9 951.3,852.6 952.3,852.8 953.3,852.7 954.3,852.6 955.3,851.8 956.3,852.2 957.3,852.9 958.3,853.2 959.3,853.5 960.3,854.1 961.3,854.1 962.3,853.8 963.3,854.6 964.3,855.4 965.3,856.0 966.3,856.0 967.3,855.3 968.3,854.3 969.3,855.3 970.3,856.0 971.3,856.5 972.3,856.7 973.3,856.5 974.3,856.4 975.3,856.8 976.3,857.0 977.3,857.2 978.3,856.9 979.3,856.3 980.3,857.2 981.3,857.5 982.3,857.0 983.3,856.8 984.3,856.2 985.3,856.5 986.3,856.6 987.3,856.8 988.3,857.1 989.3,856.6 990.3,857.4 991.3,857.0 992.3,856.9 993.3,857.5 994.3,857.0 995.3,857.1 996.3,858.0 997.3,857.5 998.3,856.8 999.3,856.7 1000.3,856.4 1001.3,855.9 1002.3,856.2 1003.3,856.7 1004.3,857.4 1005.3,857.1 1006.3,856.3 1007.3,856.6 1008.3,856.8 1009.3,857.0 1010.3,857.4 1011.3,856.9 1012.3,857.0 1013.3,857.0 1014.3,856.3 1015.3,855.9 1016.3,856.4 1017.3,857.3 1018.3,857.6 1019.3,858.2 1020.3,858.6 1021.3,858.1 1022.3,857.6 1023.3,857.3 1024.3,856.7 1025.3,855.8 1026.3,855.3 1027.3,856.8 1028.3,857.9 1029.3,857.2 1030.3,856.2 1031.3,857.2 1032.3,857.3 1033.3,857.0 1034.3,856.6 1035.3,854.6 1036.3,854.3 1037.3,853.9 1038.3,853.2 1039.3,853.2 1040.3,852.7 1041.3,852.2 1042.3,852.0 1043.3,852.7 1044.3,852.5 1045.3,853.3 1046.3,854.7 1047.3,855.7 1048.3,856.7 1049.3,856.7 1050.3,856.6 1051.3,856.6 1052.3,857.1 1053.3,856.8 1054.3,856.1 1055.3,856.4 1056.3,855.7 1057.3,855.8 1058.3,856.5 1059.3,856.0 1060.3,856.1 1061.3,856.2 1062.3,856.1 1063.3,856.6 1064.3,857.3 1065.3,857.5 1066.3,856.5 1067.3,857.0 1068.3,857.3 1069.3,857.3 1070.3,857.7 1071.3,857.9 1072.3,857.7 1073.3,858.1 1074.3,858.3 1075.3,856.8 1076.3,856.0 1077.3,857.1 1078.3,857.1 1079.3,857.6 1080.3,858.0 1081.3,857.6 1082.3,856.9 1083.3,857.0 1084.3,856.9 1085.3,857.0 1086.3,856.6 1087.3,857.3 1088.3,857.7 1089.3,857.1 1090.3,857.2 1091.3,857.2 1092.3,856.9 1093.3,856.9 1094.3,857.5 1095.3,857.9 1096.3,858.4 1097.3,856.8 1098.3,856.6 1099.3,858.0 1100.3,857.1 1101.3,856.2 1102.3,857.1 1103.3,857.4 1104.3,856.4 1105.3,855.8 1106.3,856.2 1107.3,856.9 1108.3,858.0 1109.3,858.6 1110.3,858.5 1111.3,858.1 1112.3,857.2 1113.3,857.5 1114.3,858.0 1115.3,857.5 1116.3,857.5 1117.3,857.8 1118.3,858.1 1119.3,858.0 1120.3,858.0 1121.3,857.5 1122.3,856.7 1123.3,857.3 1124.3,857.8 1125.3,857.6 1126.3,857.0 1127.3,857.2 1128.3,858.4 1129.3,857.3 1130.3,857.2 1131.3,857.3 1132.3,857.4 1133.3,857.8 1134.3,858.1 1135.3,857.8 1136.3,857.6 1137.3,857.7 1138.3,857.5 1139.3,857.9 1140.3,856.9 1141.3,857.1 1142.3,858.1 1143.3,857.7 1144.3,857.1 1145.3,856.8 1146.3,856.8 1147.3,856.5 1148.3,855.6 1149.3,855.8 1150.3,855.9 1151.3,855.4 1152.3,856.2 1153.3,856.3 1154.3,855.5 1155.3,854.4 1156.3,854.3 1157.3,854.5 1158.3,854.4 1159.3,854.4 1160.3,853.7 1161.3,853.9 1162.3,854.5 1163.3,854.1 1164.3,854.3 1165.3,854.4 1166.3,854.5 1167.3,854.3 1168.3,854.2 1169.3,854.9 1170.3,855.3 1171.3,855.1 1172.3,855.5 1173.3,854.8 1174.3,855.1 1175.3,855.6 1176.3,854.9 1177.3,855.1 1178.3,856.1 1179.3,856.0 1180.3,856.2 1181.3,858.0 1182.3,857.0 1183.3,856.5 1184.3,857.0 1185.3,856.2 1186.3,856.0 1187.3,856.3 1188.3,855.8 1189.3,855.2 1190.3,854.7 1191.3,855.1 1192.3,855.0 1193.3,854.0 1194.3,852.4 1195.3,852.6 1196.3,852.7 1197.3,852.3 1198.3,853.8 1199.3,855.2 1200.3,855.4 1201.3,855.4 1202.3,855.7 1203.3,856.5 1204.3,856.3 1205.3,856.4 1206.3,856.7 1207.3,856.0 1208.3,855.2 1209.3,854.8 1210.3,854.1 1211.3,851.8 1212.3,850.3 1213.3,850.0 1214.3,850.4 1215.3,850.5 1216.3,851.5 1217.3,852.6 1218.3,852.9 1219.3,853.8 1220.3,855.6 1221.3,856.8 1222.3,856.6 1223.3,855.6 1224.3,856.8 1225.3,857.2 1226.3,856.7 1227.3,857.7 1228.3,857.7 1229.3,857.7 1230.3,857.3 1231.3,857.0 1232.3,857.7 1233.3,857.4 1234.3,856.5 1235.3,857.1 1236.3,857.4 1237.3,857.3 1238.3,857.5 1239.3,856.9 1240.3,857.0 1241.3,857.3 1242.3,858.0 1243.3,857.0 1244.3,855.7 1245.3,857.1 1246.3,857.1 1247.3,857.6 1248.3,857.3 1249.3,856.3 1250.3,856.9 1251.3,857.0 1252.3,856.9 1253.3,856.5 1254.3,855.8 1255.3,856.4 1256.3,857.5 1257.3,857.7 1258.3,857.2 1259.3,856.7 1260.3,856.7 1261.3,855.9 1262.3,856.0 1263.3,856.2 1264.3,856.5 1265.3,856.3 1266.3,856.2 1267.3,856.3 1268.3,856.1 1269.3,856.5 1270.3,856.3 1271.3,856.7 1272.3,857.3 1273.3,857.2 1274.3,857.4 1275.3,857.8 1276.3,857.7 1277.3,857.5 1278.3,856.8 1279.3,857.7 1280.3,857.5 1281.3,856.3 1282.3,857.0 1283.3,858.0 1284.3,857.5 1285.3,857.2 1286.3,857.0 1287.3,856.8 1288.3,857.6 1289.3,857.7 1290.3,857.2 1291.3,857.1 1292.3,857.5 1293.3,857.2 1294.3,856.6 1295.3,856.6 1296.3,856.2 1297.3,857.0 1298.3,857.3 1299.3,857.3 1300.3,857.3 1301.3,855.5 1302.3,855.7 1303.3,856.3 1304.3,856.7 1305.3,856.9 1306.3,856.3 1307.3,855.5 1308.3,855.5 1309.3,855.5 1310.3,855.1 1311.3,855.3 1312.3,855.8 1313.3,856.7 1314.3,855.9 1315.3,854.2 1316.3,853.8 1317.3,853.6 1318.3,854.1 1319.3,854.8 1320.3,855.0 1321.3,855.4 1322.3,856.3 1323.3,855.4 1324.3,854.8 1325.3,855.1 1326.3,856.0 1327.3,856.1 1328.3,855.8 1329.3,856.2 1330.3,857.4 1331.3,857.7 1332.3,856.8 1333.3,856.2 1334.3,856.8 1335.3,856.1 1336.3,855.5 1337.3,856.6 1338.3,857.1 1339.3,856.8 1340.3,856.3 1341.3,856.5 1342.3,856.0 1343.3,857.1 1344.3,857.6 1345.3,856.5 1346.3,857.4 1347.3,857.5 1348.3,856.7 1349.3,856.4 1350.3,855.0 1351.3,854.4 1352.3,855.7 1353.3,855.7 1354.3,854.8 1355.3,853.8 1356.3,853.0 1357.3,853.1 1358.3,853.0 1359.3,852.5 1360.3,850.3 1361.3,849.2 1362.3,847.6 1363.3,844.5 1364.3,841.6 1365.3,837.4 1366.3,832.9 1367.3,826.1 1368.3,818.9 1369.3,814.1 1370.3,810.8 1371.3,809.9 1372.3,812.6 1373.3,818.1 1374.3,824.2 1375.3,830.1 1376.3,835.4 1377.3,840.0 1378.3,843.4 1379.3,845.6 1380.3,848.2 1381.3,850.7 1382.3,852.0 1383.3,853.3 1384.3,854.1 1385.3,853.8 1386.3,854.0 1387.3,853.3 1388.3,853.2 1389.3,854.2 1390.3,854.1 1391.3,855.6 1392.3,856.1 1393.3,855.3 1394.3,855.7 1395.3,855.5 1396.3,855.9 1397.3,855.8 1398.3,855.2 1399.3,855.8 1400.3,855.8 1401.3,855.0 1402.3,855.0 1403.3,856.0 1404.3,856.0 1405.3,856.4 1406.3,856.8 1407.3,856.5 1408.3,855.5 1409.3,855.8 1410.3,856.5 1411.3,857.1 1412.3,857.0 1413.3,856.5 1414.3,856.9 1415.3,856.8 1416.3,857.0 1417.3,857.1 1418.3,856.0 1419.3,855.9 1420.3,856.6 1421.3,856.4 1422.3,854.8 1423.3,853.3 1424.3,853.5 1425.3,853.6 1426.3,852.6 1427.3,851.5 1428.3,850.2 1429.3,850.6 1430.3,852.0 1431.3,853.3 1432.3,854.6 1433.3,855.0 1434.3,856.1 1435.3,856.8 1436.3,855.9 1437.3,855.8 1438.3,856.0 1439.3,855.5 1440.3,856.0 1441.3,856.5 1442.3,856.8 1443.3,857.2 1444.3,857.9 1445.3,857.1 1446.3,855.9 1447.3,856.1 1448.3,857.6 1449.3,857.4 1450.3,856.6 1451.3,857.5 1452.3,858.0 1453.3,857.6 1454.3,856.9 1455.3,856.5 1456.3,856.9 1457.3,856.4 1458.3,856.5 1459.3,857.6 1460.3,857.1 1461.3,857.5 1462.3,858.2 1463.3,857.6 1464.3,857.6 1465.3,856.7 1466.3,855.8 1467.3,856.3 1468.3,856.7 1469.3,856.0 1470.3,855.5 1471.3,855.9 1472.3,854.6 1473.3,854.1 1474.3,855.1 1475.3,854.4 1476.3,853.1 1477.3,853.5 1478.3,854.2 1479.3,854.2 1480.3,855.0 1481.3,856.1 1482.3,855.4 1483.3,855.7 1484.3,856.2 1485.3,856.3 1486.3,856.6 1487.3,856.4 1488.3,856.4 1489.3,856.9 1490.3,857.5 1491.3,857.6 1492.3,857.2 1493.3,857.5 1494.3,857.8 1495.3,857.4 1496.3,857.8 1497.3,857.8 1498.3,856.8 1499.3,857.3 1500.3,857.4 1501.3,856.1 1502.3,855.9 1503.3,857.1 1504.3,857.6 1505.3,858.4 1506.3,857.7 1507.3,857.4 1508.3,857.1 1509.3,856.2 1510.3,858.1 1511.3,859.0 1512.3,857.7 1513.3,856.8 1514.3,856.9 1515.3,856.7 1516.3,857.0 1517.3,857.3 1518.3,856.1 1519.3,856.1 1520.3,856.5 1521.3,856.7 1522.3,857.1 1523.3,856.4 1524.3,856.2 1525.3,855.7 1526.3,856.3 1527.3,857.7 1528.3,857.0 1529.3,856.6 1530.3,856.4 1531.3,856.2 1532.3,856.8 1533.3,857.1 1534.3,857.7 1535.3,858.2 1536.3,857.2 1537.3,856.1 1538.3,856.7 1539.3,858.7 1540.3,858.5 1541.3,857.5 1542.3,857.1 1543.3,857.9 1544.3,858.0 1545.3,857.1 1546.3,857.0 1547.3,857.0 1548.3,856.2 1549.3,856.1 1550.3,857.4 1551.3,857.0 1552.3,856.2 1553.3,856.1 1554.3,856.4 1555.3,856.3 1556.3,856.4 1557.3,857.9 1558.3,858.0 1559.3,857.4 1560.3,858.7 1561.3,858.7 1562.3,857.7 1563.3,857.1 1564.3,856.9 1565.3,856.8 1566.3,856.7 1567.3,856.7 1568.3,857.2 1569.3,857.4 1570.3,856.6 1571.3,856.1 1572.3,856.5 1573.3,856.7 1574.3,857.4 1575.3,857.6 1576.3,857.2 1577.3,856.6 1578.3,856.2 1579.3,856.9 1580.3,856.6 1581.3,856.5 1582.3,856.0 1583.3,855.9 1584.3,855.7 1585.3,855.0 1586.3,856.1 1587.3,857.8 1588.3,857.1 1589.3,855.7 1590.3,855.7 1591.3,856.2 1592.3,856.9 1593.3,855.6 1594.3,854.7 1595.3,856.3 1596.3,855.5 1597.3,855.1 1598.3,856.5 1599.3,856.9 1600.3,856.9 1601.3,856.2 1602.3,855.2 1603.3,854.6 1604.3,854.7 1605.3,855.5 1606.3,854.9 1607.3,854.4 1608.3,855.9 1609.3,854.8 1610.3,853.6 1611.3,855.0 1612.3,855.3 1613.3,853.5 1614.3,853.7 1615.3,854.3 1616.3,854.2 1617.3,852.3 1618.3,852.3 1619.3,853.8 1620.3,853.2 1621.3,852.5 1622.3,852.2 1623.3,852.5 1624.3,854.1 1625.3,854.8 1626.3,854.9 1627.3,855.0 1628.3,855.0 1629.3,854.9 1630.3,854.0 1631.3,854.0 1632.3,854.0 1633.3,853.3 1634.3,854.5 1635.3,854.2 1636.3,854.7 1637.3,855.9 1638.3,854.5 1639.3,854.4 1640.3,854.7 1641.3,855.2 1642.3,856.4 1643.3,856.7 1644.3,855.6 1645.3,855.5 1646.3,856.4 1647.3,856.3 1648.3,855.8 1649.3,856.6 1650.3,856.1 1651.3,855.8 1652.3,857.0 1653.3,857.8 1654.3,857.2 1655.3,855.9 1656.3,856.0 1657.3,856.1 1658.3,856.8 1659.3,857.1 1660.3,856.1 1661.3,856.4 1662.3,856.6 1663.3,856.1 1664.3,856.3 1665.3,856.5 1666.3,856.3 1667.3,856.4 1668.3,856.2 1669.3,855.0 1670.3,855.4 1671.3,855.2 1672.3,856.0 1673.3,856.5 1674.3,855.9 1675.3,856.7 1676.3,856.4 1677.3,856.6 1678.3,856.7 1679.3,856.4 1680.3,856.6 1681.3,856.4 1682.3,856.6 1683.3,856.4 1684.3,856.1 1685.3,856.3 1686.3,856.3 1687.3,856.5 1688.3,856.2 1689.3,856.4 1690.3,856.7 1691.3,856.6 1692.3,857.2 1693.3,858.2 1694.3,856.5 1695.3,855.2 1696.3,856.2 1697.3,856.8 1698.3,856.4 1699.3,855.6 1700.3,856.5 1701.3,857.8 1702.3,856.7 1703.3,855.9 1704.3,856.4 1705.3,857.2 1706.3,857.6 1707.3,856.6 1708.3,855.7 1709.3,855.5 1710.3,855.7 1711.3,855.0 1712.3,854.7 1713.3,856.6 1714.3,856.4 1715.3,854.9 1716.3,854.4 1717.3,853.7 1718.3,852.9 1719.3,852.7 1720.3,852.9 1721.3,851.2 1722.3,849.5 1723.3,847.9 1724.3,845.4 1725.3,841.7 1726.3,839.1 1727.3,837.0 1728.3,833.2 1729.3,829.5 1730.3,827.9 1731.3,826.9 1732.3,827.1 1733.3,826.9 1734.3,828.6 1735.3,833.6 1736.3,837.4 1737.3,839.1 1738.3,841.4 1739.3,845.0 1740.3,848.2 1741.3,849.3 1742.3,850.4 1743.3,850.9 1744.3,852.7 1745.3,854.2 1746.3,854.1 1747.3,854.8 1748.3,854.4 1749.3,855.7 1750.3,857.0 1751.3,856.4 1752.3,856.7 1753.3,856.8 1754.3,856.6 1755.3,856.5 1756.3,856.3 1757.3,856.6 1758.3,856.5 1759.3,856.1 1760.3,855.9 1761.3,855.7 1762.3,856.6 1763.3,857.2 1764.3,856.3 1765.3,855.9 1766.3,857.0 1767.3,857.4 1768.3,857.5 1769.3,857.8 1770.3,857.3 1771.3,857.0 1772.3,856.7 1773.3,857.1 1774.3,856.9 1775.3,856.6 1776.3,858.2 1777.3,857.9 1778.3,856.7 1779.3,857.0 1780.3,857.2 1781.3,856.9 1782.3,855.8 1783.3,856.1 1784.3,856.2 1785.3,856.9 1786.3,857.0 1787.3,856.4 1788.3,856.2 1789.3,855.3 1790.3,856.1 1791.3,856.8 1792.3,856.2 1793.3,856.8 1794.3,857.4 1795.3,857.6 1796.3,857.1 1797.3,856.2 1798.3,855.7 1799.3,856.1 1800.3,856.7 1801.3,856.7 1802.3,856.5 1803.3,855.7 1804.3,855.4 1805.3,855.2 1806.3,855.9 1807.3,856.4 1808.3,856.2 1809.3,855.6 1810.3,854.9 1811.3,855.4 1812.3,855.4 1813.3,855.6 1814.3,856.2 1815.3,856.0 1816.3,855.9 1817.3,855.6 1818.3,856.0 1819.3,856.0 1820.3,856.0 1821.3,856.3 1822.3,856.5 1823.3,856.3 1824.3,856.7 1825.3,856.7 1826.3,854.4 1827.3,854.3 1828.3,855.4 1829.3,855.7 1830.3,856.7 1831.3,857.1 1832.3,856.7 1833.3,857.0 1834.3,856.0 1835.3,855.1 1836.3,855.5 1837.3,855.6 1838.3,854.9 1839.3,854.1 1840.3,855.1 1841.3,855.6 1842.3,855.6 1843.3,855.2 1844.3,854.9 1845.3,854.8 1846.3,854.8 1847.3,855.0 1848.3,854.4 1849.3,854.5 1850.3,855.0 1851.3,854.9 1852.3,854.7 1853.3,854.3 1854.3,854.7 1855.3,854.1 1856.3,853.8 1857.3,853.6 1858.3,853.1 1859.3,852.9 1860.3,852.7 1861.3,851.8 1862.3,850.0 1863.3,849.4 1864.3,849.1 1865.3,848.7 1866.3,847.8 1867.3,845.8 1868.3,843.2 1869.3,840.1 1870.3,835.8 1871.3,830.8 1872.3,824.5 1873.3,816.4 1874.3,808.0 1875.3,800.0 1876.3,792.1 1877.3,786.0 1878.3,784.3 1879.3,786.2 1880.3,791.8 1881.3,800.9 1882.3,809.2 1883.3,816.9 1884.3,823.7 1885.3,830.1 1886.3,835.0 1887.3,838.0 1888.3,841.4 1889.3,844.2 1890.3,846.7 1891.3,847.5 1892.3,848.7 1893.3,850.7 1894.3,851.7 1895.3,852.1 1896.3,852.0 1897.3,852.9 1898.3,853.3 1899.3,853.7 1900.3,853.8 1901.3,854.1 1902.3,854.5 1903.3,854.3 1904.3,854.4 1905.3,854.7 1906.3,855.1 1907.3,855.4 1908.3,855.1 1909.3,854.6 1910.3,854.5 1911.3,854.9 1912.3,854.4 1913.3,855.0 1914.3,855.3 1915.3,854.8 1916.3,855.6 1917.3,856.2 1918.3,855.1 1919.3,854.8 1920.3,855.1 1921.3,855.3 1922.3,855.2 1923.3,854.9 1924.3,855.9 1925.3,856.6 1926.3,856.3 1927.3,855.2 1928.3,856.0 1929.3,857.1 1930.3,856.6 1931.3,856.5 1932.3,857.9 1933.3,858.2 1934.3,857.7 1935.3,857.6 1936.3,856.7 1937.3,855.3 1938.3,854.8 1939.3,856.2 1940.3,855.7 1941.3,855.4 1942.3,856.1 1943.3,855.2 1944.3,855.3 1945.3,855.3 1946.3,856.4 1947.3,857.2 1948.3,856.9 1949.3,856.2 1950.3,855.5 1951.3,856.9 1952.3,857.3 1953.3,857.3 1954.3,857.0 1955.3,856.3 1956.3,857.1 1957.3,857.5 1958.3,857.2 1959.3,857.2 1960.3,857.2 1961.3,857.0 1962.3,856.8 1963.3,857.3 1964.3,858.1 1965.3,856.8 1966.3,856.6 1967.3,856.4 1968.3,856.4 1969.3,857.1 1970.3,856.1 1971.3,856.2 1972.3,855.5 1973.3,855.2 1974.3,856.2 1975.3,856.5 1976.3,856.9 1977.3,856.6 1978.3,856.5 1979.3,857.2 1980.3,858.0 1981.3,857.2 1982.3,857.0 1983.3,857.3 1984.3,857.6 1985.3,858.2 1986.3,858.0 1987.3,857.1 1988.3,856.7 1989.3,856.9 1990.3,857.5 1991.3,856.9 1992.3,857.2 1993.3,856.9 1994.3,856.0 1995.3,857.3 1996.3,858.6 1997.3,857.9 1998.3,857.9 1999.3,858.4 2000.3,857.2 2001.3,857.0 2002.3,857.5 2003.3,856.9 2004.3,857.3 2005.3,857.0 2006.3,856.9 2007.3,857.0 2008.3,856.0 2009.3,856.6 2010.3,856.6 2011.3,856.3 2012.3,856.3 2013.3,856.7 2014.3,857.4 2015.3,856.9 2016.3,856.5 2017.3,857.3 2018.3,856.7 2019.3,856.7 2020.3,857.4 2021.3,857.4 2021.6,857.4"/>
<polyline fill="none" stroke="#ff8000" stroke-width="9.8" stroke-linejoin="round" stroke-linecap="butt" points="159.3,606.3 160.3,606.2 161.3,606.0 162.3,605.5 163.3,606.7 164.3,606.0 165.3,605.6 166.3,605.7 167.3,605.2 168.3,605.3 169.3,605.8 170.3,606.4 171.3,604.9 172.3,604.7 173.3,606.1 174.3,605.9 175.3,605.9 176.3,603.7 177.3,603.3 178.3,602.4 179.3,599.9 180.3,600.0 181.3,599.6 182.3,597.5 183.3,595.2 184.3,593.4 185.3,590.2 186.3,587.9 187.3,588.9 188.3,585.6 189.3,582.7 190.3,583.6 191.3,582.6 192.3,581.7 193.3,581.2 194.3,579.7 195.3,578.2 196.3,576.1 197.3,575.6 198.3,575.5 199.3,574.7 200.3,577.7 201.3,579.6 202.3,580.4 203.3,582.1 204.3,585.6 205.3,589.2 206.3,591.0 207.3,594.3 208.3,597.2 209.3,597.8 210.3,599.2 211.3,601.1 212.3,601.5 213.3,601.5 214.3,602.0 215.3,601.8 216.3,602.1 217.3,603.4 218.3,602.3 219.3,601.9 220.3,604.5 221.3,603.6 222.3,601.4 223.3,602.8 224.3,603.1 225.3,603.4 226.3,603.5 227.3,603.9 228.3,603.2 229.3,601.9 230.3,601.7 231.3,602.9 232.3,603.8 233.3,604.3 234.3,604.0 235.3,602.2 236.3,601.9 237.3,602.8 238.3,603.6 239.3,604.4 240.3,604.3 241.3,602.5 242.3,601.4 243.3,602.6 244.3,603.1 245.3,603.5 246.3,602.2 247.3,602.3 248.3,600.9 249.3,600.0 250.3,602.0 251.3,602.4 252.3,602.8 253.3,602.8 254.3,601.6 255.3,602.4 256.3,601.6 257.3,602.0 258.3,602.4 259.3,602.0 260.3,602.3 261.3,601.8 262.3,601.9 263.3,602.7 264.3,602.4 265.3,603.5 266.3,603.5 267.3,602.1 268.3,603.4 269.3,603.9 270.3,603.5 271.3,602.2 272.3,601.6 273.3,602.6 274.3,603.8 275.3,603.1 276.3,602.2 277.3,603.9 278.3,604.4 279.3,603.3 280.3,602.8 281.3,603.0 282.3,602.0 283.3,600.6 284.3,601.5 285.3,601.8 286.3,602.3 287.3,600.8 288.3,601.4 289.3,602.1 290.3,603.9 291.3,604.2 292.3,602.9 293.3,602.7 294.3,601.9 295.3,601.9 296.3,602.4 297.3,603.9 298.3,602.5 299.3,602.1 300.3,603.4 301.3,604.1 302.3,603.3 303.3,603.4 304.3,602.9 305.3,602.0 306.3,602.4 307.3,602.2 308.3,603.3 309.3,603.8 310.3,604.9 311.3,604.5 312.3,601.8 313.3,602.7 314.3,603.4 315.3,602.2 316.3,602.6 317.3,603.6 318.3,601.9 319.3,600.9 320.3,602.7 321.3,602.3 322.3,602.7 323.3,603.2 324.3,602.6 325.3,602.9 326.3,602.2 327.3,601.9 328.3,601.8 329.3,601.6 330.3,603.2 331.3,603.6 332.3,602.8 333.3,602.3 334.3,603.8 335.3,603.4 336.3,602.1 337.3,602.9 338.3,602.5 339.3,601.1 340.3,603.0 341.3,602.9 342.3,601.9 343.3,603.1 344.3,602.7 345.3,603.6 346.3,605.2 347.3,604.3 348.3,602.1 349.3,602.1 350.3,602.0 351.3,601.8 352.3,603.3 353.3,603.2 354.3,603.5 355.3,603.2 356.3,601.9 357.3,601.5 358.3,602.6 359.3,601.3 360.3,600.9 361.3,601.6 362.3,603.0 363.3,602.7 364.3,599.5 365.3,601.2 366.3,603.0 367.3,601.9 368.3,601.1 369.3,600.5 370.3,600.4 371.3,601.9 372.3,602.1 373.3,601.6 374.3,600.8 375.3,601.8 376.3,603.6 377.3,603.9 378.3,601.8 379.3,601.0 380.3,601.7 381.3,601.5 382.3,602.3 383.3,604.4 384.3,604.3 385.3,602.5 386.3,601.8 387.3,602.0 388.3,601.1 389.3,600.9 390.3,602.5 391.3,601.3 392.3,601.8 393.3,604.1 394.3,602.3 395.3,601.4 396.3,601.6 397.3,600.4 398.3,601.6 399.3,602.5 400.3,600.7 401.3,599.3 402.3,600.3 403.3,599.9 404.3,598.8 405.3,599.8 406.3,600.2 407.3,600.5 408.3,602.2 409.3,601.1 410.3,600.9 411.3,601.1 412.3,600.2 413.3,601.7 414.3,603.2 415.3,601.7 416.3,600.8 417.3,601.9 418.3,600.6 419.3,600.7 420.3,601.8 421.3,603.2 422.3,602.2 423.3,599.7 424.3,598.5 425.3,597.3 426.3,596.9 427.3,599.1 428.3,598.9 429.3,597.0 430.3,597.6 431.3,598.0 432.3,597.7 433.3,597.3 434.3,597.8 435.3,599.4 436.3,600.4 437.3,599.6 438.3,598.6 439.3,598.2 440.3,598.6 441.3,597.7 442.3,596.3 443.3,596.7 444.3,596.7 445.3,595.6 446.3,595.9 447.3,595.7 448.3,594.8 449.3,595.4 450.3,595.8 451.3,594.2 452.3,593.9 453.3,594.2 454.3,592.9 455.3,589.1 456.3,587.6 457.3,588.3 458.3,587.9 459.3,587.1 460.3,585.1 461.3,581.2 462.3,578.6 463.3,574.6 464.3,570.3 465.3,564.7 466.3,559.8 467.3,555.9 468.3,551.6 469.3,549.2 470.3,546.8 471.3,548.4 472.3,552.8 473.3,557.9 474.3,562.9 475.3,568.4 476.3,572.6 477.3,574.9 478.3,578.3 479.3,581.5 480.3,584.2 481.3,587.1 482.3,589.0 483.3,590.3 484.3,591.5 485.3,593.0 486.3,593.9 487.3,594.3 488.3,594.9 489.3,595.8 490.3,595.6 491.3,593.7 492.3,593.3 493.3,596.1 494.3,595.3 495.3,594.5 496.3,595.6 497.3,596.7 498.3,597.3 499.3,596.1 500.3,595.4 501.3,594.4 502.3,596.0 503.3,597.7 504.3,595.7 505.3,594.9 506.3,596.0 507.3,595.9 508.3,595.0 509.3,596.4 510.3,597.0 511.3,596.6 512.3,597.4 513.3,596.6 514.3,597.2 515.3,598.3 516.3,596.5 517.3,594.8 518.3,595.3 519.3,596.2 520.3,595.7 521.3,595.3 522.3,595.5 523.3,595.6 524.3,596.1 525.3,597.3 526.3,598.4 527.3,596.6 528.3,595.3 529.3,595.2 530.3,595.0 531.3,594.6 532.3,594.8 533.3,595.4 534.3,593.8 535.3,593.5 536.3,593.0 537.3,591.3 538.3,591.3 539.3,589.9 540.3,587.7 541.3,586.9 542.3,586.0 543.3,582.9 544.3,580.0 545.3,575.9 546.3,568.2 547.3,560.5 548.3,550.7 549.3,539.4 550.3,527.1 551.3,513.1 552.3,500.1 553.3,488.7 554.3,481.6 555.3,481.3 556.3,485.9 557.3,496.9 558.3,511.3 559.3,523.6 560.3,537.1 561.3,551.0 562.3,561.3 563.3,568.8 564.3,574.9 565.3,579.6 566.3,582.1 567.3,585.0 568.3,586.7 569.3,588.6 570.3,589.6 571.3,590.8 572.3,592.1 573.3,591.4 574.3,591.5 575.3,592.2 576.3,593.5 577.3,592.9 578.3,591.6 579.3,592.8 580.3,593.1 581.3,594.0 582.3,595.9 583.3,595.3 584.3,597.0 585.3,597.6 586.3,594.6 587.3,596.3 588.3,597.4 589.3,595.8 590.3,595.2 591.3,596.7 592.3,598.0 593.3,597.1 594.3,595.1 595.3,595.0 596.3,596.4 597.3,596.6 598.3,596.4 599.3,596.9 600.3,597.7 601.3,597.2 602.3,595.7 603.3,594.1 604.3,593.4 605.3,592.8 606.3,591.8 607.3,591.4 608.3,589.6 609.3,587.2 610.3,583.6 611.3,580.9 612.3,580.7 613.3,579.5 614.3,579.3 615.3,579.2 616.3,581.5 617.3,583.9 618.3,585.6 619.3,589.1 620.3,592.4 621.3,593.9 622.3,593.3 623.3,593.3 624.3,594.9 625.3,595.8 626.3,597.5 627.3,598.7 628.3,596.7 629.3,596.0 630.3,596.9 631.3,596.4 632.3,596.2 633.3,597.4 634.3,597.5 635.3,597.0 636.3,596.8 637.3,594.6 638.3,595.0 639.3,598.2 640.3,599.7 641.3,600.7 642.3,598.3 643.3,596.4 644.3,596.5 645.3,596.8 646.3,596.2 647.3,596.6 648.3,597.8 649.3,598.0 650.3,597.6 651.3,598.0 652.3,597.6 653.3,596.6 654.3,596.9 655.3,597.2 656.3,597.5 657.3,598.6 658.3,598.1 659.3,596.0 660.3,595.0 661.3,596.5 662.3,598.1 663.3,598.0 664.3,595.5 665.3,595.9 666.3,600.1 667.3,599.9 668.3,597.9 669.3,598.6 670.3,598.4 671.3,596.7 672.3,598.2 673.3,598.5 674.3,598.2 675.3,597.9 676.3,597.1 677.3,596.8 678.3,597.2 679.3,597.8 680.3,597.3 681.3,597.0 682.3,596.7 683.3,597.6 684.3,598.8 685.3,598.9 686.3,597.5 687.3,597.4 688.3,597.1 689.3,598.2 690.3,600.6 691.3,600.2 692.3,599.2 693.3,598.8 694.3,598.1 695.3,597.2 696.3,598.2 697.3,599.6 698.3,598.4 699.3,596.9 700.3,596.6 701.3,597.4 702.3,597.0 703.3,595.9 704.3,595.2 705.3,596.2 706.3,598.3 707.3,597.3 708.3,596.1 709.3,597.1 710.3,596.9 711.3,597.3 712.3,597.7 713.3,597.5 714.3,596.0 715.3,595.8 716.3,596.0 717.3,595.7 718.3,595.5 719.3,594.7 720.3,593.1 721.3,591.3 722.3,589.3 723.3,588.1 724.3,587.2 725.3,585.9 726.3,582.5 727.3,579.3 728.3,578.3 729.3,578.8 730.3,577.7 731.3,577.1 732.3,576.9 733.3,578.6 734.3,581.7 735.3,583.5 736.3,586.7 737.3,587.6 738.3,587.1 739.3,590.1 740.3,592.6 741.3,593.7 742.3,596.1 743.3,595.6 744.3,594.1 745.3,594.5 746.3,594.0 747.3,593.9 748.3,595.2 749.3,594.7 750.3,592.3 751.3,592.3 752.3,592.6 753.3,589.6 754.3,588.0 755.3,588.4 756.3,588.2 757.3,588.2 758.3,587.8 759.3,588.2 760.3,591.5 761.3,593.8 762.3,594.0 763.3,595.4 764.3,595.9 765.3,596.9 766.3,598.0 767.3,599.2 768.3,599.8 769.3,598.7 770.3,597.0 771.3,595.2 772.3,595.3 773.3,593.9 774.3,592.7 775.3,592.5 776.3,590.8 777.3,590.7 778.3,590.4 779.3,589.2 780.3,588.4 781.3,588.4 782.3,589.7 783.3,590.6 784.3,592.9 785.3,595.1 786.3,594.4 787.3,594.6 788.3,596.8 789.3,597.4 790.3,597.1 791.3,599.1 792.3,600.4 793.3,599.4 794.3,598.4 795.3,598.8 796.3,598.7 797.3,598.7 798.3,599.7 799.3,600.2 800.3,599.5 801.3,599.2 802.3,600.0 803.3,600.1 804.3,599.7 805.3,599.4 806.3,599.0 807.3,599.9 808.3,599.6 809.3,599.8 810.3,600.1 811.3,599.5 812.3,599.9 813.3,600.7 814.3,599.8 815.3,599.5 816.3,600.6 817.3,599.8 818.3,598.3 819.3,599.5 820.3,599.5 821.3,598.0 822.3,596.8 823.3,597.0 824.3,598.8 825.3,597.9 826.3,598.1 827.3,597.9 828.3,597.5 829.3,599.3 830.3,600.8 831.3,600.0 832.3,599.6 833.3,599.3 834.3,598.9 835.3,598.2 836.3,597.6 837.3,598.5 838.3,597.2 839.3,596.9 840.3,597.3 841.3,597.0 842.3,597.5 843.3,596.8 844.3,595.5 845.3,595.6 846.3,595.3 847.3,595.2 848.3,594.5 849.3,594.6 850.3,594.4 851.3,594.0 852.3,594.9 853.3,593.1 854.3,592.4 855.3,593.3 856.3,592.0 857.3,590.5 858.3,588.9 859.3,588.1 860.3,587.5 861.3,586.1 862.3,584.6 863.3,580.9 864.3,575.7 865.3,571.2 866.3,566.0 867.3,556.4 868.3,544.1 869.3,528.4 870.3,506.8 871.3,480.6 872.3,451.4 873.3,421.2 874.3,391.2 875.3,369.1 876.3,362.4 877.3,372.2 878.3,395.2 879.3,426.5 880.3,459.3 881.3,487.3 882.3,510.6 883.3,530.7 884.3,546.6 885.3,558.6 886.3,566.6 887.3,573.3 888.3,578.2 889.3,581.7 890.3,584.9 891.3,585.7 892.3,587.2 893.3,589.2 894.3,590.7 895.3,592.3 896.3,591.8 897.3,591.2 898.3,592.8 899.3,592.4 900.3,592.5 901.3,594.6 902.3,594.8 903.3,594.9 904.3,595.0 905.3,595.0 906.3,595.4 907.3,596.5 908.3,597.9 909.3,597.7 910.3,598.8 911.3,599.1 912.3,597.8 913.3,596.3 914.3,596.1 915.3,598.0 916.3,599.4 917.3,598.6 918.3,598.0 919.3,598.1 920.3,597.5 921.3,597.9 922.3,598.0 923.3,597.7 924.3,598.1 925.3,598.0 926.3,599.2 927.3,600.4 928.3,597.9 929.3,596.3 930.3,598.7 931.3,598.6 932.3,597.7 933.3,597.4 934.3,598.8 935.3,598.2 936.3,597.0 937.3,597.8 938.3,595.9 939.3,594.9 940.3,594.2 941.3,592.4 942.3,593.3 943.3,596.0 944.3,594.7 945.3,593.3 946.3,594.1 947.3,592.8 948.3,591.9 949.3,591.7 950.3,592.5 951.3,592.8 952.3,593.4 953.3,595.2 954.3,594.0 955.3,594.1 956.3,595.3 957.3,594.7 958.3,594.9 959.3,595.9 960.3,595.2 961.3,596.4 962.3,597.5 963.3,596.3 964.3,597.3 965.3,597.0 966.3,598.1 967.3,600.1 968.3,599.0 969.3,599.4 970.3,600.7 971.3,599.8 972.3,597.7 973.3,597.2 974.3,598.4 975.3,600.2 976.3,601.1 977.3,600.5 978.3,601.6 979.3,601.6 980.3,600.8 981.3,600.0 982.3,599.0 983.3,599.8 984.3,601.0 985.3,599.1 986.3,599.4 987.3,600.1 988.3,599.9 989.3,600.6 990.3,599.1 991.3,598.4 992.3,600.7 993.3,601.3 994.3,599.8 995.3,599.1 996.3,598.7 997.3,600.6 998.3,602.2 999.3,602.8 1000.3,602.5 1001.3,600.9 1002.3,600.0 1003.3,601.3 1004.3,601.7 1005.3,599.7 1006.3,599.7 1007.3,600.5 1008.3,601.6 1009.3,601.4 1010.3,601.6 1011.3,602.1 1012.3,601.2 1013.3,598.8 1014.3,597.3 1015.3,599.2 1016.3,601.4 1017.3,602.6 1018.3,601.2 1019.3,600.5 1020.3,602.1 1021.3,602.2 1022.3,601.6 1023.3,600.8 1024.3,600.1 1025.3,600.4 1026.3,601.0 1027.3,599.7 1028.3,598.2 1029.3,598.0 1030.3,598.1 1031.3,596.6 1032.3,596.9 1033.3,598.3 1034.3,596.1 1035.3,595.3 1036.3,595.4 1037.3,594.4 1038.3,594.2 1039.3,596.3 1040.3,598.5 1041.3,595.3 1042.3,593.8 1043.3,595.8 1044.3,595.3 1045.3,595.0 1046.3,596.2 1047.3,596.8 1048.3,596.5 1049.3,596.3 1050.3,598.6 1051.3,600.2 1052.3,600.1 1053.3,600.6 1054.3,599.7 1055.3,599.9 1056.3,600.6 1057.3,600.9 1058.3,600.8 1059.3,600.9 1060.3,600.7 1061.3,601.8 1062.3,602.2 1063.3,601.6 1064.3,601.0 1065.3,601.9 1066.3,603.4 1067.3,603.8 1068.3,602.3 1069.3,601.8 1070.3,602.3 1071.3,601.7 1072.3,602.2 1073.3,602.2 1074.3,602.6 1075.3,602.2 1076.3,600.7 1077.3,600.9 1078.3,601.9 1079.3,601.8 1080.3,600.3 1081.3,600.8 1082.3,602.8 1083.3,602.2 1084.3,601.6 1085.3,601.6 1086.3,601.6 1087.3,602.4 1088.3,601.0 1089.3,601.8 1090.3,603.3 1091.3,602.8 1092.3,603.7 1093.3,602.1 1094.3,602.8 1095.3,603.5 1096.3,601.6 1097.3,602.2 1098.3,604.5 1099.3,605.2 1100.3,602.0 1101.3,600.4 1102.3,602.1 1103.3,601.9 1104.3,601.1 1105.3,601.2 1106.3,601.0 1107.3,602.7 1108.3,603.7 1109.3,601.8 1110.3,602.0 1111.3,603.5 1112.3,603.3 1113.3,603.0 1114.3,602.5 1115.3,601.8 1116.3,604.4 1117.3,604.5 1118.3,601.6 1119.3,602.5 1120.3,603.8 1121.3,603.4 1122.3,603.5 1123.3,601.4 1124.3,602.6 1125.3,603.9 1126.3,601.3 1127.3,602.4 1128.3,603.6 1129.3,604.4 1130.3,605.1 1131.3,603.8 1132.3,601.5 1133.3,600.0 1134.3,600.7 1135.3,601.1 1136.3,601.0 1137.3,602.8 1138.3,602.9 1139.3,603.0 1140.3,603.0 1141.3,602.1 1142.3,600.8 1143.3,600.1 1144.3,600.3 1145.3,600.8 1146.3,602.0 1147.3,601.3 1148.3,599.6 1149.3,598.7 1150.3,598.0 1151.3,597.7 1152.3,599.3 1153.3,600.2 1154.3,598.9 1155.3,597.9 1156.3,597.6 1157.3,596.1 1158.3,595.2 1159.3,596.3 1160.3,597.4 1161.3,598.4 1162.3,597.0 1163.3,595.9 1164.3,595.4 1165.3,594.8 1166.3,595.3 1167.3,595.3 1168.3,594.3 1169.3,594.3 1170.3,595.1 1171.3,594.8 1172.3,595.9 1173.3,596.9 1174.3,597.2 1175.3,598.3 1176.3,597.3 1177.3,597.0 1178.3,596.9 1179.3,596.5 1180.3,597.5 1181.3,597.7 1182.3,599.2 1183.3,600.6 1184.3,600.9 1185.3,600.9 1186.3,601.4 1187.3,600.4 1188.3,600.1 1189.3,599.7 1190.3,597.9 1191.3,598.6 1192.3,598.5 1193.3,596.1 1194.3,594.5 1195.3,595.2 1196.3,595.8 1197.3,594.6 1198.3,594.6 1199.3,594.8 1200.3,594.5 1201.3,594.2 1202.3,595.4 1203.3,598.4 1204.3,598.3 1205.3,597.3 1206.3,598.6 1207.3,599.6 1208.3,599.3 1209.3,597.5 1210.3,596.7 1211.3,595.6 1212.3,594.1 1213.3,592.7 1214.3,591.8 1215.3,591.7 1216.3,593.3 1217.3,594.4 1218.3,594.5 1219.3,597.3 1220.3,598.3 1221.3,599.0 1222.3,598.9 1223.3,599.9 1224.3,602.2 1225.3,602.8 1226.3,601.6 1227.3,601.7 1228.3,602.6 1229.3,601.6 1230.3,600.8 1231.3,601.8 1232.3,603.0 1233.3,602.3 1234.3,601.3 1235.3,601.8 1236.3,601.5 1237.3,602.3 1238.3,603.8 1239.3,603.6 1240.3,602.5 1241.3,603.5 1242.3,603.6 1243.3,602.7 1244.3,603.2 1245.3,603.1 1246.3,601.7 1247.3,601.8 1248.3,602.4 1249.3,600.4 1250.3,600.9 1251.3,603.2 1252.3,603.9 1253.3,602.6 1254.3,601.2 1255.3,601.9 1256.3,603.1 1257.3,601.9 1258.3,602.1 1259.3,601.8 1260.3,600.2 1261.3,601.0 1262.3,602.0 1263.3,601.2 1264.3,601.9 1265.3,602.7 1266.3,601.7 1267.3,601.7 1268.3,600.9 1269.3,601.5 1270.3,601.0 1271.3,601.3 1272.3,601.7 1273.3,601.2 1274.3,601.1 1275.3,602.3 1276.3,601.7 1277.3,601.7 1278.3,602.3 1279.3,602.6 1280.3,602.3 1281.3,601.5 1282.3,600.9 1283.3,601.2 1284.3,601.5 1285.3,602.4 1286.3,602.1 1287.3,601.0 1288.3,601.5 1289.3,603.2 1290.3,605.5 1291.3,603.8 1292.3,601.0 1293.3,600.5 1294.3,601.5 1295.3,602.7 1296.3,603.0 1297.3,602.4 1298.3,602.1 1299.3,602.5 1300.3,604.4 1301.3,604.0 1302.3,602.2 1303.3,601.8 1304.3,601.3 1305.3,601.4 1306.3,602.7 1307.3,601.6 1308.3,599.2 1309.3,598.8 1310.3,598.3 1311.3,598.5 1312.3,596.6 1313.3,595.8 1314.3,596.5 1315.3,596.3 1316.3,595.3 1317.3,595.6 1318.3,596.0 1319.3,595.7 1320.3,596.0 1321.3,596.2 1322.3,596.3 1323.3,597.2 1324.3,597.0 1325.3,598.2 1326.3,598.5 1327.3,598.7 1328.3,599.9 1329.3,599.2 1330.3,599.8 1331.3,600.8 1332.3,601.3 1333.3,600.8 1334.3,599.4 1335.3,600.1 1336.3,602.2 1337.3,601.6 1338.3,601.3 1339.3,603.3 1340.3,602.1 1341.3,601.8 1342.3,601.9 1343.3,600.9 1344.3,600.4 1345.3,600.2 1346.3,599.4 1347.3,599.4 1348.3,599.7 1349.3,600.7 1350.3,601.3 1351.3,599.6 1352.3,598.3 1353.3,598.8 1354.3,600.3 1355.3,600.2 1356.3,598.2 1357.3,597.8 1358.3,595.3 1359.3,592.2 1360.3,592.2 1361.3,590.5 1362.3,587.2 1363.3,584.0 1364.3,579.1 1365.3,573.2 1366.3,565.3 1367.3,556.3 1368.3,547.9 1369.3,539.8 1370.3,533.5 1371.3,532.3 1372.3,535.8 1373.3,542.8 1374.3,553.3 1375.3,561.8 1376.3,568.6 1377.3,576.3 1378.3,581.4 1379.3,585.7 1380.3,590.8 1381.3,594.0 1382.3,593.5 1383.3,592.5 1384.3,593.9 1385.3,595.6 1386.3,595.2 1387.3,596.5 1388.3,597.4 1389.3,597.1 1390.3,599.0 1391.3,600.5 1392.3,599.3 1393.3,599.8 1394.3,600.5 1395.3,599.4 1396.3,598.8 1397.3,599.0 1398.3,599.3 1399.3,599.1 1400.3,599.2 1401.3,598.7 1402.3,598.1 1403.3,599.4 1404.3,600.6 1405.3,600.2 1406.3,599.2 1407.3,599.1 1408.3,599.0 1409.3,598.1 1410.3,598.9 1411.3,600.1 1412.3,601.9 1413.3,602.3 1414.3,600.8 1415.3,599.6 1416.3,600.2 1417.3,601.3 1418.3,600.4 1419.3,600.0 1420.3,600.5 1421.3,599.6 1422.3,597.9 1423.3,596.4 1424.3,594.2 1425.3,593.2 1426.3,593.0 1427.3,591.7 1428.3,590.8 1429.3,591.8 1430.3,592.6 1431.3,594.5 1432.3,596.0 1433.3,596.6 1434.3,597.7 1435.3,597.7 1436.3,598.6 1437.3,599.0 1438.3,600.8 1439.3,602.2 1440.3,601.3 1441.3,601.1 1442.3,601.4 1443.3,600.9 1444.3,600.9 1445.3,600.7 1446.3,600.5 1447.3,601.6 1448.3,601.3 1449.3,601.4 1450.3,602.2 1451.3,600.6 1452.3,600.3 1453.3,600.9 1454.3,600.6 1455.3,599.7 1456.3,600.5 1457.3,600.9 1458.3,601.0 1459.3,602.0 1460.3,602.1 1461.3,601.4 1462.3,601.2 1463.3,600.7 1464.3,601.1 1465.3,601.7 1466.3,600.4 1467.3,600.1 1468.3,600.3 1469.3,599.1 1470.3,597.7 1471.3,597.6 1472.3,596.7 1473.3,595.6 1474.3,595.3 1475.3,595.9 1476.3,595.0 1477.3,594.4 1478.3,595.9 1479.3,596.7 1480.3,597.3 1481.3,596.8 1482.3,596.1 1483.3,597.2 1484.3,599.3 1485.3,599.3 1486.3,599.5 1487.3,599.8 1488.3,600.4 1489.3,600.4 1490.3,600.6 1491.3,601.1 1492.3,600.0 1493.3,599.8 1494.3,599.8 1495.3,601.6 1496.3,602.1 1497.3,600.4 1498.3,599.7 1499.3,600.4 1500.3,600.0 1501.3,599.9 1502.3,601.0 1503.3,600.7 1504.3,600.6 1505.3,600.7 1506.3,600.8 1507.3,601.2 1508.3,601.3 1509.3,600.9 1510.3,600.2 1511.3,600.7 1512.3,600.2 1513.3,599.6 1514.3,600.8 1515.3,600.2 1516.3,597.5 1517.3,599.9 1518.3,602.3 1519.3,602.6 1520.3,603.0 1521.3,602.5 1522.3,602.0 1523.3,601.8 1524.3,601.4 1525.3,602.6 1526.3,602.3 1527.3,600.4 1528.3,599.2 1529.3,600.5 1530.3,600.8 1531.3,599.9 1532.3,599.9 1533.3,602.1 1534.3,602.4 1535.3,600.5 1536.3,601.1 1537.3,601.2 1538.3,599.3 1539.3,598.6 1540.3,598.3 1541.3,598.9 1542.3,600.8 1543.3,600.6 1544.3,601.3 1545.3,600.4 1546.3,600.4 1547.3,601.8 1548.3,600.9 1549.3,600.3 1550.3,600.2 1551.3,601.0 1552.3,600.1 1553.3,599.5 1554.3,599.4 1555.3,599.2 1556.3,600.1 1557.3,600.7 1558.3,600.9 1559.3,600.9 1560.3,600.6 1561.3,602.5 1562.3,603.0 1563.3,600.7 1564.3,599.4 1565.3,600.3 1566.3,601.1 1567.3,600.2 1568.3,598.7 1569.3,599.0 1570.3,600.9 1571.3,601.3 1572.3,600.3 1573.3,599.9 1574.3,599.7 1575.3,600.5 1576.3,599.9 1577.3,599.4 1578.3,600.8 1579.3,600.5 1580.3,600.9 1581.3,601.4 1582.3,602.0 1583.3,601.2 1584.3,599.2 1585.3,598.3 1586.3,598.7 1587.3,598.2 1588.3,598.9 1589.3,599.0 1590.3,597.6 1591.3,597.8 1592.3,598.4 1593.3,598.6 1594.3,598.6 1595.3,598.5 1596.3,598.5 1597.3,599.6 1598.3,598.8 1599.3,597.9 1600.3,597.2 1601.3,597.2 1602.3,599.1 1603.3,599.4 1604.3,599.8 1605.3,599.5 1606.3,597.7 1607.3,597.9 1608.3,599.8 1609.3,599.1 1610.3,597.1 1611.3,596.0 1612.3,596.9 1613.3,598.5 1614.3,597.2 1615.3,596.0 1616.3,596.3 1617.3,597.1 1618.3,597.4 1619.3,597.6 1620.3,597.4 1621.3,596.3 1622.3,597.1 1623.3,597.1 1624.3,596.9 1625.3,597.2 1626.3,597.4 1627.3,597.1 1628.3,597.0 1629.3,596.6 1630.3,597.2 1631.3,598.0 1632.3,596.3 1633.3,596.5 1634.3,598.5 1635.3,597.3 1636.3,596.2 1637.3,597.1 1638.3,597.7 1639.3,597.0 1640.3,597.6 1641.3,597.6 1642.3,596.5 1643.3,597.5 1644.3,597.2 1645.3,596.7 1646.3,596.4 1647.3,595.9 1648.3,596.9 1649.3,597.0 1650.3,596.9 1651.3,597.1 1652.3,597.0 1653.3,597.5 1654.3,599.0 1655.3,598.3 1656.3,596.0 1657.3,595.8 1658.3,596.8 1659.3,597.7 1660.3,598.8 1661.3,597.8 1662.3,597.5 1663.3,597.6 1664.3,597.9 1665.3,599.9 1666.3,598.6 1667.3,598.2 1668.3,598.6 1669.3,597.9 1670.3,598.2 1671.3,599.4 1672.3,598.9 1673.3,598.3 1674.3,598.5 1675.3,599.4 1676.3,601.3 1677.3,601.4 1678.3,598.6 1679.3,598.0 1680.3,597.9 1681.3,598.7 1682.3,600.4 1683.3,600.2 1684.3,600.5 1685.3,599.9 1686.3,599.3 1687.3,599.9 1688.3,600.0 1689.3,599.5 1690.3,599.5 1691.3,598.7 1692.3,599.7 1693.3,600.0 1694.3,599.3 1695.3,599.9 1696.3,598.8 1697.3,597.8 1698.3,599.4 1699.3,601.0 1700.3,601.8 1701.3,600.8 1702.3,600.0 1703.3,599.9 1704.3,599.8 1705.3,598.2 1706.3,597.4 1707.3,599.3 1708.3,600.1 1709.3,598.4 1710.3,598.8 1711.3,598.8 1712.3,598.0 1713.3,597.3 1714.3,596.4 1715.3,597.7 1716.3,598.5 1717.3,596.3 1718.3,595.1 1719.3,593.5 1720.3,592.9 1721.3,593.3 1722.3,589.8 1723.3,585.5 1724.3,583.9 1725.3,580.1 1726.3,574.3 1727.3,569.2 1728.3,566.4 1729.3,564.0 1730.3,561.2 1731.3,559.1 1732.3,559.2 1733.3,561.2 1734.3,562.0 1735.3,565.8 1736.3,570.5 1737.3,573.4 1738.3,577.6 1739.3,581.6 1740.3,583.8 1741.3,586.1 1742.3,588.6 1743.3,591.2 1744.3,593.0 1745.3,593.7 1746.3,594.4 1747.3,595.8 1748.3,597.0 1749.3,597.0 1750.3,597.1 1751.3,596.8 1752.3,595.5 1753.3,595.9 1754.3,598.5 1755.3,598.9 1756.3,598.0 1757.3,597.5 1758.3,597.1 1759.3,598.8 1760.3,599.3 1761.3,598.6 1762.3,598.8 1763.3,600.7 1764.3,602.2 1765.3,601.7 1766.3,602.4 1767.3,602.0 1768.3,600.9 1769.3,600.7 1770.3,601.1 1771.3,601.7 1772.3,599.8 1773.3,597.6 1774.3,599.3 1775.3,600.2 1776.3,600.0 1777.3,600.9 1778.3,598.9 1779.3,598.6 1780.3,600.0 1781.3,599.7 1782.3,599.7 1783.3,602.2 1784.3,602.9 1785.3,600.1 1786.3,600.7 1787.3,602.0 1788.3,602.5 1789.3,601.9 1790.3,601.5 1791.3,601.1 1792.3,601.1 1793.3,601.4 1794.3,600.9 1795.3,600.7 1796.3,600.0 1797.3,600.2 1798.3,600.3 1799.3,599.3 1800.3,600.7 1801.3,601.7 1802.3,599.8 1803.3,598.6 1804.3,599.0 1805.3,600.5 1806.3,599.0 1807.3,598.3 1808.3,599.8 1809.3,599.7 1810.3,599.0 1811.3,599.7 1812.3,599.0 1813.3,597.3 1814.3,597.6 1815.3,598.5 1816.3,599.8 1817.3,601.0 1818.3,599.8 1819.3,599.0 1820.3,599.4 1821.3,599.3 1822.3,600.0 1823.3,600.0 1824.3,600.2 1825.3,600.8 1826.3,600.6 1827.3,600.4 1828.3,598.4 1829.3,600.0 1830.3,602.9 1831.3,603.5 1832.3,601.3 1833.3,600.0 1834.3,599.8 1835.3,599.8 1836.3,600.9 1837.3,601.4 1838.3,600.9 1839.3,600.6 1840.3,600.3 1841.3,599.8 1842.3,598.4 1843.3,598.2 1844.3,599.1 1845.3,600.8 1846.3,599.8 1847.3,598.7 1848.3,598.0 1849.3,597.1 1850.3,596.4 1851.3,597.4 1852.3,597.6 1853.3,595.6 1854.3,595.2 1855.3,595.4 1856.3,595.0 1857.3,594.3 1858.3,594.4 1859.3,594.1 1860.3,592.7 1861.3,591.6 1862.3,589.5 1863.3,587.8 1864.3,586.0 1865.3,583.7 1866.3,581.4 1867.3,576.9 1868.3,572.3 1869.3,566.7 1870.3,559.9 1871.3,551.8 1872.3,542.9 1873.3,534.8 1874.3,527.2 1875.3,522.6 1876.3,522.0 1877.3,524.8 1878.3,532.4 1879.3,540.8 1880.3,547.6 1881.3,555.7 1882.3,563.3 1883.3,568.5 1884.3,573.8 1885.3,579.7 1886.3,582.9 1887.3,584.2 1888.3,586.9 1889.3,588.7 1890.3,591.3 1891.3,592.8 1892.3,593.9 1893.3,594.1 1894.3,594.8 1895.3,595.5 1896.3,596.2 1897.3,596.7 1898.3,597.4 1899.3,598.8 1900.3,597.8 1901.3,596.5 1902.3,597.8 1903.3,598.6 1904.3,597.5 1905.3,596.8 1906.3,598.3 1907.3,599.9 1908.3,599.8 1909.3,598.0 1910.3,598.9 1911.3,599.4 1912.3,598.7 1913.3,598.5 1914.3,598.8 1915.3,599.4 1916.3,598.7 1917.3,598.1 1918.3,600.0 1919.3,600.1 1920.3,598.1 1921.3,597.8 1922.3,598.8 1923.3,600.0 1924.3,601.8 1925.3,601.1 1926.3,599.8 1927.3,599.9 1928.3,600.5 1929.3,598.5 1930.3,599.2 1931.3,600.7 1932.3,598.6 1933.3,599.0 1934.3,598.7 1935.3,598.5 1936.3,600.6 1937.3,601.6 1938.3,601.2 1939.3,599.7 1940.3,599.9 1941.3,601.2 1942.3,601.9 1943.3,600.8 1944.3,599.8 1945.3,600.5 1946.3,600.3 1947.3,600.0 1948.3,600.2 1949.3,599.6 1950.3,599.6 1951.3,600.9 1952.3,599.5 1953.3,599.5 1954.3,600.5 1955.3,600.6 1956.3,601.8 1957.3,601.1 1958.3,599.7 1959.3,600.7 1960.3,601.3 1961.3,599.4 1962.3,599.8 1963.3,601.2 1964.3,600.1 1965.3,599.6 1966.3,601.2 1967.3,600.3 1968.3,600.4 1969.3,601.3 1970.3,601.1 1971.3,601.6 1972.3,601.0 1973.3,599.8 1974.3,600.5 1975.3,600.9 1976.3,601.5 1977.3,600.9 1978.3,598.7 1979.3,600.4 1980.3,601.2 1981.3,600.3 1982.3,600.7 1983.3,602.1 1984.3,601.2 1985.3,598.2 1986.3,598.1 1987.3,599.2 1988.3,600.3 1989.3,601.2 1990.3,600.5 1991.3,600.6 1992.3,599.6 1993.3,600.5 1994.3,601.5 1995.3,602.2 1996.3,601.9 1997.3,599.9 1998.3,600.3 1999.3,602.2 2000.3,601.6 2001.3,600.2 2002.3,599.7 2003.3,601.2 2004.3,601.9 2005.3,600.2 2006.3,598.9 2007.3,597.9 2008.3,598.2 2009.3,600.1 2010.3,602.5 2011.3,602.3 2012.3,601.2 2013.3,601.7 2014.3,600.5 2015.3,601.0 2016.3,602.5 2017.3,601.0 2018.3,600.0 2019.3,601.3 2020.3,600.3 2021.3,600.3 2021.6,600.3"/>
<polyline fill="none" stroke="#ff0000" stroke-width="9.8" stroke-linejoin="round" stroke-linecap="butt" points="159.3,352.5 160.3,352.1 161.3,351.8 162.3,354.1 163.3,353.2 164.3,352.7 165.3,353.8 166.3,352.0 167.3,350.1 168.3,350.7 169.3,351.8 170.3,352.3 171.3,349.2 172.3,346.9 173.3,348.5 174.3,350.3 175.3,348.8 176.3,345.9 177.3,346.5 178.3,346.5 179.3,346.2 180.3,348.3 181.3,348.3 182.3,346.4 183.3,346.1 184.3,344.4 185.3,341.8 186.3,339.7 187.3,337.2 188.3,335.2 189.3,333.2 190.3,332.0 191.3,332.3 192.3,333.6 193.3,335.2 194.3,336.6 195.3,334.3 196.3,332.6 197.3,331.2 198.3,325.2 199.3,323.3 200.3,324.1 201.3,326.8 202.3,328.3 203.3,331.8 204.3,336.9 205.3,338.3 206.3,339.6 207.3,344.2 208.3,347.0 209.3,348.3 210.3,348.8 211.3,348.4 212.3,348.0 213.3,349.2 214.3,348.1 215.3,346.4 216.3,347.6 217.3,346.3 218.3,347.5 219.3,347.9 220.3,346.7 221.3,350.5 222.3,349.4 223.3,346.8 224.3,349.4 225.3,348.7 226.3,346.2 227.3,347.3 228.3,348.5 229.3,348.3 230.3,348.3 231.3,348.9 232.3,349.2 233.3,348.5 234.3,346.7 235.3,345.6 236.3,344.5 237.3,345.8 238.3,345.6 239.3,345.5 240.3,349.6 241.3,347.7 242.3,345.1 243.3,345.4 244.3,346.7 245.3,346.4 246.3,345.2 247.3,345.4 248.3,345.0 249.3,346.7 250.3,345.9 251.3,344.2 252.3,345.5 253.3,346.1 254.3,344.9 255.3,345.2 256.3,347.3 257.3,346.8 258.3,346.5 259.3,344.0 260.3,343.3 261.3,345.8 262.3,346.2 263.3,344.7 264.3,346.2 265.3,347.9 266.3,346.2 267.3,345.7 268.3,343.3 269.3,338.8 270.3,341.6 271.3,343.6 272.3,342.9 273.3,343.5 274.3,342.7 275.3,342.5 276.3,342.0 277.3,339.4 278.3,339.4 279.3,341.5 280.3,343.1 281.3,341.7 282.3,340.4 283.3,341.0 284.3,340.6 285.3,343.2 286.3,344.2 287.3,342.0 288.3,340.9 289.3,342.3 290.3,341.2 291.3,339.7 292.3,342.7 293.3,344.3 294.3,342.4 295.3,340.4 296.3,339.6 297.3,338.6 298.3,338.9 299.3,340.1 300.3,338.5 301.3,336.4 302.3,335.5 303.3,337.9 304.3,339.6 305.3,339.9 306.3,341.1 307.3,342.9 308.3,342.5 309.3,341.3 310.3,341.2 311.3,340.9 312.3,342.9 313.3,345.0 314.3,344.3 315.3,342.7 316.3,341.6 317.3,342.9 318.3,344.1 319.3,344.8 320.3,344.4 321.3,344.8 322.3,347.8 323.3,348.9 324.3,348.5 325.3,347.2 326.3,346.3 327.3,346.1 328.3,346.2 329.3,346.3 330.3,344.9 331.3,344.6 332.3,346.1 333.3,347.6 334.3,347.2 335.3,346.0 336.3,346.0 337.3,345.1 338.3,346.3 339.3,347.9 340.3,346.5 341.3,346.4 342.3,344.2 343.3,343.1 344.3,344.5 345.3,347.3 346.3,346.7 347.3,344.5 348.3,345.8 349.3,344.7 350.3,343.3 351.3,344.4 352.3,345.8 353.3,346.0 354.3,348.3 355.3,348.1 356.3,347.1 357.3,348.9 358.3,350.3 359.3,346.2 360.3,343.2 361.3,345.1 362.3,342.5 363.3,338.2 364.3,336.0 365.3,332.0 366.3,328.1 367.3,325.0 368.3,323.4 369.3,321.5 370.3,318.5 371.3,315.1 372.3,316.9 373.3,322.1 374.3,326.6 375.3,331.1 376.3,332.7 377.3,336.2 378.3,338.8 379.3,339.3 380.3,343.1 381.3,345.8 382.3,348.0 383.3,346.1 384.3,345.1 385.3,348.5 386.3,348.0 387.3,347.6 388.3,346.3 389.3,346.4 390.3,347.7 391.3,345.7 392.3,344.6 393.3,345.5 394.3,345.7 395.3,346.8 396.3,348.1 397.3,348.9 398.3,349.8 399.3,348.3 400.3,346.9 401.3,345.3 402.3,344.5 403.3,344.6 404.3,346.1 405.3,345.5 406.3,345.4 407.3,346.6 408.3,345.9 409.3,345.6 410.3,347.9 411.3,349.9 412.3,347.8 413.3,345.8 414.3,346.1 415.3,345.7 416.3,348.0 417.3,349.1 418.3,348.2 419.3,349.2 420.3,347.5 421.3,345.2 422.3,345.2 423.3,346.2 424.3,345.3 425.3,343.1 426.3,342.4 427.3,341.4 428.3,337.7 429.3,332.6 430.3,327.0 431.3,326.6 432.3,327.0 433.3,324.3 434.3,323.2 435.3,323.7 436.3,321.7 437.3,322.1 438.3,322.9 439.3,323.4 440.3,327.1 441.3,330.2 442.3,332.5 443.3,335.6 444.3,337.3 445.3,337.9 446.3,340.7 447.3,340.9 448.3,340.8 449.3,340.0 450.3,339.0 451.3,340.0 452.3,338.1 453.3,334.8 454.3,337.6 455.3,338.6 456.3,335.3 457.3,335.9 458.3,336.1 459.3,335.3 460.3,333.8 461.3,330.5 462.3,330.0 463.3,328.5 464.3,325.5 465.3,323.7 466.3,321.5 467.3,316.9 468.3,311.4 469.3,308.1 470.3,304.3 471.3,302.0 472.3,303.2 473.3,304.6 474.3,309.3 475.3,314.6 476.3,320.5 477.3,326.4 478.3,326.4 479.3,327.8 480.3,331.6 481.3,334.4 482.3,337.9 483.3,340.1 484.3,341.6 485.3,342.6 486.3,343.0 487.3,340.3 488.3,340.0 489.3,342.3 490.3,343.4 491.3,343.8 492.3,346.2 493.3,347.2 494.3,347.2 495.3,347.5 496.3,347.8 497.3,346.7 498.3,345.9 499.3,345.9 500.3,345.4 501.3,348.5 502.3,346.5 503.3,344.0 504.3,345.7 505.3,346.5 506.3,344.9 507.3,346.4 508.3,347.7 509.3,347.6 510.3,347.9 511.3,345.3 512.3,344.4 513.3,347.0 514.3,345.9 515.3,343.9 516.3,345.6 517.3,347.0 518.3,347.1 519.3,344.4 520.3,345.1 521.3,345.8 522.3,342.9 523.3,342.2 524.3,340.5 525.3,337.3 526.3,334.1 527.3,332.0 528.3,325.2 529.3,314.3 530.3,309.5 531.3,306.3 532.3,303.4 533.3,305.7 534.3,308.4 535.3,312.3 536.3,319.8 537.3,325.6 538.3,330.3 539.3,330.7 540.3,329.8 541.3,331.4 542.3,331.2 543.3,332.3 544.3,333.0 545.3,330.4 546.3,328.7 547.3,328.7 548.3,326.6 549.3,319.7 550.3,312.5 551.3,303.1 552.3,291.5 553.3,279.6 554.3,264.8 555.3,251.5 556.3,245.3 557.3,246.5 558.3,255.0 559.3,267.3 560.3,281.2 561.3,295.8 562.3,307.9 563.3,318.3 564.3,327.0 565.3,331.7 566.3,334.7 567.3,336.1 568.3,338.0 569.3,341.5 570.3,343.0 571.3,341.9 572.3,340.7 573.3,341.6 574.3,340.5 575.3,342.6 576.3,346.3 577.3,344.7 578.3,343.6 579.3,343.0 580.3,345.7 581.3,347.0 582.3,347.0 583.3,348.7 584.3,349.2 585.3,345.4 586.3,343.8 587.3,344.7 588.3,344.5 589.3,343.5 590.3,342.3 591.3,344.0 592.3,345.6 593.3,346.7 594.3,347.3 595.3,348.3 596.3,347.1 597.3,344.1 598.3,346.2 599.3,347.5 600.3,345.5 601.3,346.7 602.3,348.8 603.3,349.0 604.3,347.0 605.3,345.3 606.3,344.8 607.3,343.6 608.3,342.7 609.3,340.8 610.3,337.6 611.3,333.7 612.3,332.2 613.3,334.7 614.3,332.6 615.3,333.3 616.3,333.5 617.3,334.4 618.3,336.9 619.3,340.1 620.3,343.8 621.3,343.2 622.3,342.8 623.3,344.9 624.3,348.6 625.3,349.6 626.3,347.3 627.3,347.7 628.3,347.9 629.3,347.6 630.3,345.9 631.3,345.3 632.3,348.5 633.3,349.3 634.3,347.3 635.3,345.8 636.3,346.1 637.3,347.3 638.3,347.0 639.3,347.7 640.3,348.5 641.3,347.6 642.3,350.0 643.3,350.5 644.3,350.8 645.3,350.2 646.3,348.5 647.3,348.6 648.3,349.7 649.3,350.3 650.3,350.0 651.3,348.2 652.3,348.0 653.3,349.0 654.3,347.6 655.3,346.7 656.3,347.9 657.3,349.2 658.3,349.0 659.3,349.1 660.3,347.9 661.3,346.6 662.3,348.8 663.3,348.7 664.3,348.9 665.3,346.9 666.3,346.0 667.3,348.1 668.3,347.9 669.3,346.2 670.3,347.1 671.3,346.4 672.3,346.7 673.3,349.6 674.3,350.0 675.3,349.0 676.3,347.1 677.3,346.6 678.3,347.7 679.3,348.7 680.3,349.0 681.3,348.4 682.3,349.2 683.3,350.0 684.3,347.4 685.3,345.3 686.3,348.6 687.3,349.6 688.3,348.1 689.3,346.6 690.3,347.5 691.3,347.6 692.3,347.3 693.3,346.3 694.3,345.3 695.3,345.3 696.3,347.5 697.3,346.3 698.3,345.8 699.3,348.1 700.3,347.4 701.3,347.5 702.3,347.2 703.3,346.6 704.3,346.0 705.3,343.2 706.3,344.2 707.3,347.3 708.3,346.1 709.3,344.3 710.3,343.6 711.3,341.8 712.3,343.3 713.3,344.0 714.3,343.3 715.3,344.7 716.3,342.6 717.3,340.8 718.3,342.2 719.3,344.9 720.3,344.0 721.3,340.6 722.3,341.0 723.3,342.9 724.3,341.1 725.3,337.4 726.3,336.4 727.3,335.6 728.3,336.4 729.3,333.3 730.3,328.1 731.3,329.1 732.3,331.8 733.3,329.3 734.3,329.1 735.3,333.8 736.3,335.5 737.3,336.6 738.3,338.6 739.3,340.0 740.3,341.3 741.3,342.0 742.3,344.3 743.3,344.1 744.3,343.5 745.3,345.3 746.3,345.1 747.3,344.0 748.3,344.0 749.3,343.4 750.3,346.0 751.3,346.9 752.3,346.2 753.3,345.8 754.3,343.5 755.3,341.8 756.3,341.1 757.3,340.4 758.3,340.0 759.3,338.6 760.3,337.2 761.3,338.3 762.3,338.0 763.3,338.0 764.3,339.3 765.3,340.9 766.3,340.8 767.3,341.0 768.3,340.6 769.3,341.8 770.3,342.6 771.3,340.1 772.3,340.0 773.3,341.9 774.3,341.6 775.3,339.6 776.3,339.2 777.3,340.5 778.3,339.8 779.3,340.5 780.3,340.0 781.3,339.5 782.3,340.3 783.3,341.7 784.3,344.2 785.3,345.1 786.3,345.6 787.3,345.2 788.3,345.8 789.3,345.5 790.3,347.6 791.3,350.0 792.3,346.6 793.3,342.4 794.3,345.5 795.3,347.2 796.3,346.3 797.3,346.0 798.3,346.3 799.3,347.1 800.3,348.0 801.3,348.6 802.3,349.9 803.3,349.3 804.3,349.1 805.3,350.0 806.3,348.8 807.3,347.0 808.3,344.2 809.3,346.8 810.3,347.4 811.3,345.5 812.3,346.2 813.3,345.8 814.3,346.2 815.3,346.1 816.3,344.4 817.3,346.6 818.3,347.0 819.3,346.6 820.3,348.6 821.3,349.7 822.3,349.7 823.3,346.1 824.3,344.6 825.3,346.4 826.3,348.4 827.3,349.1 828.3,347.4 829.3,347.4 830.3,347.5 831.3,347.1 832.3,347.4 833.3,348.2 834.3,348.2 835.3,348.3 836.3,347.7 837.3,347.1 838.3,347.0 839.3,346.6 840.3,346.8 841.3,346.0 842.3,345.1 843.3,344.4 844.3,345.0 845.3,343.1 846.3,343.2 847.3,342.6 848.3,341.2 849.3,343.1 850.3,344.2 851.3,344.2 852.3,343.1 853.3,342.8 854.3,342.9 855.3,345.2 856.3,344.2 857.3,339.0 858.3,337.2 859.3,338.7 860.3,342.1 861.3,340.1 862.3,334.6 863.3,334.7 864.3,333.2 865.3,328.9 866.3,325.9 867.3,321.5 868.3,313.9 869.3,307.3 870.3,293.2 871.3,274.5 872.3,255.7 873.3,228.5 874.3,193.6 875.3,160.3 876.3,132.8 877.3,113.6 878.3,112.4 879.3,130.3 880.3,158.8 881.3,194.6 882.3,227.3 883.3,253.0 884.3,275.4 885.3,292.2 886.3,303.3 887.3,313.9 888.3,322.7 889.3,325.3 890.3,328.1 891.3,333.5 892.3,335.2 893.3,335.7 894.3,334.9 895.3,335.2 896.3,335.6 897.3,337.9 898.3,340.7 899.3,341.8 900.3,341.5 901.3,341.5 902.3,341.5 903.3,340.7 904.3,343.5 905.3,344.7 906.3,343.8 907.3,342.1 908.3,344.1 909.3,346.8 910.3,346.9 911.3,347.5 912.3,346.5 913.3,345.7 914.3,349.2 915.3,348.5 916.3,345.8 917.3,346.1 918.3,347.8 919.3,348.5 920.3,346.1 921.3,344.4 922.3,344.4 923.3,342.4 924.3,341.0 925.3,342.9 926.3,344.6 927.3,345.7 928.3,345.9 929.3,345.8 930.3,348.9 931.3,347.1 932.3,344.3 933.3,346.6 934.3,350.1 935.3,347.9 936.3,343.2 937.3,343.6 938.3,344.5 939.3,345.7 940.3,344.8 941.3,343.3 942.3,344.0 943.3,342.5 944.3,341.0 945.3,342.9 946.3,344.7 947.3,343.1 948.3,343.9 949.3,345.7 950.3,344.7 951.3,343.8 952.3,342.9 953.3,343.0 954.3,343.8 955.3,343.7 956.3,340.4 957.3,340.7 958.3,342.0 959.3,341.4 960.3,343.6 961.3,344.2 962.3,344.0 963.3,345.6 964.3,343.5 965.3,343.6 966.3,347.2 967.3,350.7 968.3,347.6 969.3,346.9 970.3,349.3 971.3,347.8 972.3,345.6 973.3,348.1 974.3,349.4 975.3,348.4 976.3,349.4 977.3,350.5 978.3,349.8 979.3,351.6 980.3,351.4 981.3,351.8 982.3,351.2 983.3,348.1 984.3,348.0 985.3,348.8 986.3,349.3 987.3,349.1 988.3,347.1 989.3,345.5 990.3,346.5 991.3,348.6 992.3,350.1 993.3,346.5 994.3,344.8 995.3,347.1 996.3,346.7 997.3,347.4 998.3,346.6 999.3,345.6 1000.3,347.4 1001.3,350.5 1002.3,349.1 1003.3,348.2 1004.3,347.6 1005.3,346.1 1006.3,347.7 1007.3,348.2 1008.3,346.2 1009.3,346.5 1010.3,349.0 1011.3,350.1 1012.3,348.5 1013.3,348.4 1014.3,349.5 1015.3,349.5 1016.3,347.3 1017.3,346.3 1018.3,347.0 1019.3,346.9 1020.3,347.5 1021.3,345.2 1022.3,346.6 1023.3,349.0 1024.3,346.2 1025.3,347.5 1026.3,349.6 1027.3,348.9 1028.3,349.2 1029.3,348.9 1030.3,348.7 1031.3,346.4 1032.3,346.0 1033.3,347.9 1034.3,347.8 1035.3,347.8 1036.3,346.5 1037.3,342.4 1038.3,342.2 1039.3,341.8 1040.3,338.0 1041.3,337.5 1042.3,336.6 1043.3,337.0 1044.3,338.1 1045.3,341.1 1046.3,343.4 1047.3,342.1 1048.3,343.3 1049.3,342.8 1050.3,343.4 1051.3,345.5 1052.3,346.5 1053.3,344.8 1054.3,345.2 1055.3,348.8 1056.3,348.2 1057.3,346.2 1058.3,347.1 1059.3,346.3 1060.3,345.4 1061.3,347.6 1062.3,348.3 1063.3,346.6 1064.3,344.6 1065.3,348.3 1066.3,351.2 1067.3,346.7 1068.3,346.0 1069.3,348.3 1070.3,348.5 1071.3,345.9 1072.3,347.4 1073.3,350.3 1074.3,348.3 1075.3,348.2 1076.3,348.7 1077.3,347.9 1078.3,348.8 1079.3,346.6 1080.3,347.0 1081.3,349.5 1082.3,349.0 1083.3,349.7 1084.3,350.9 1085.3,351.3 1086.3,350.3 1087.3,348.6 1088.3,348.6 1089.3,348.1 1090.3,346.8 1091.3,347.9 1092.3,348.9 1093.3,349.2 1094.3,346.6 1095.3,346.1 1096.3,349.0 1097.3,348.1 1098.3,349.0 1099.3,347.1 1100.3,345.0 1101.3,344.8 1102.3,343.5 1103.3,341.5 1104.3,340.3 1105.3,341.2 1106.3,341.2 1107.3,341.0 1108.3,340.2 1109.3,342.6 1110.3,343.7 1111.3,343.2 1112.3,345.3 1113.3,346.1 1114.3,346.8 1115.3,347.8 1116.3,349.1 1117.3,350.1 1118.3,348.9 1119.3,347.7 1120.3,348.0 1121.3,350.0 1122.3,349.5 1123.3,347.3 1124.3,346.2 1125.3,346.6 1126.3,346.9 1127.3,345.9 1128.3,347.9 1129.3,348.9 1130.3,347.2 1131.3,346.6 1132.3,346.4 1133.3,348.5 1134.3,347.4 1135.3,345.1 1136.3,344.6 1137.3,344.8 1138.3,347.7 1139.3,347.7 1140.3,345.8 1141.3,344.5 1142.3,344.7 1143.3,347.2 1144.3,347.2 1145.3,346.3 1146.3,347.6 1147.3,349.0 1148.3,347.8 1149.3,346.5 1150.3,345.1 1151.3,347.1 1152.3,346.7 1153.3,345.3 1154.3,347.0 1155.3,345.1 1156.3,345.5 1157.3,345.6 1158.3,346.0 1159.3,345.4 1160.3,344.6 1161.3,346.8 1162.3,344.9 1163.3,345.6 1164.3,347.0 1165.3,342.5 1166.3,342.8 1167.3,346.9 1168.3,344.7 1169.3,342.1 1170.3,342.7 1171.3,340.5 1172.3,339.7 1173.3,342.9 1174.3,342.2 1175.3,342.0 1176.3,344.6 1177.3,341.5 1178.3,337.6 1179.3,339.2 1180.3,342.1 1181.3,343.1 1182.3,341.3 1183.3,339.6 1184.3,340.0 1185.3,343.0 1186.3,342.7 1187.3,340.1 1188.3,342.1 1189.3,342.6 1190.3,341.3 1191.3,343.2 1192.3,344.8 1193.3,342.6 1194.3,341.4 1195.3,343.1 1196.3,342.8 1197.3,341.4 1198.3,341.9 1199.3,342.1 1200.3,339.7 1201.3,338.2 1202.3,340.4 1203.3,342.1 1204.3,343.8 1205.3,345.3 1206.3,344.4 1207.3,342.5 1208.3,343.1 1209.3,342.4 1210.3,343.2 1211.3,343.6 1212.3,340.7 1213.3,340.4 1214.3,339.1 1215.3,337.2 1216.3,337.5 1217.3,339.7 1218.3,342.5 1219.3,344.2 1220.3,344.7 1221.3,344.9 1222.3,345.4 1223.3,345.7 1224.3,346.8 1225.3,346.8 1226.3,345.5 1227.3,347.0 1228.3,348.0 1229.3,347.0 1230.3,345.9 1231.3,346.0 1232.3,345.1 1233.3,347.3 1234.3,349.5 1235.3,346.8 1236.3,345.3 1237.3,347.8 1238.3,348.2 1239.3,346.6 1240.3,348.2 1241.3,349.0 1242.3,347.7 1243.3,348.6 1244.3,347.8 1245.3,347.3 1246.3,348.1 1247.3,348.9 1248.3,348.0 1249.3,348.9 1250.3,349.8 1251.3,350.5 1252.3,350.5 1253.3,348.6 1254.3,347.8 1255.3,346.9 1256.3,347.4 1257.3,348.5 1258.3,349.4 1259.3,349.8 1260.3,347.8 1261.3,348.9 1262.3,349.0 1263.3,347.9 1264.3,350.2 1265.3,351.3 1266.3,348.4 1267.3,346.6 1268.3,348.6 1269.3,349.8 1270.3,348.9 1271.3,348.9 1272.3,346.0 1273.3,344.6 1274.3,345.3 1275.3,345.1 1276.3,346.3 1277.3,347.3 1278.3,349.4 1279.3,349.7 1280.3,348.9 1281.3,347.7 1282.3,348.7 1283.3,349.7 1284.3,346.7 1285.3,346.6 1286.3,349.0 1287.3,347.6 1288.3,347.4 1289.3,350.1 1290.3,349.6 1291.3,348.0 1292.3,347.9 1293.3,346.8 1294.3,346.2 1295.3,346.3 1296.3,346.0 1297.3,346.3 1298.3,347.5 1299.3,348.1 1300.3,347.8 1301.3,346.6 1302.3,345.5 1303.3,347.3 1304.3,347.8 1305.3,346.7 1306.3,345.1 1307.3,345.7 1308.3,344.9 1309.3,344.2 1310.3,344.8 1311.3,343.4 1312.3,341.0 1313.3,341.2 1314.3,343.2 1315.3,341.3 1316.3,342.1 1317.3,344.8 1318.3,344.2 1319.3,343.3 1320.3,343.1 1321.3,345.9 1322.3,348.5 1323.3,347.4 1324.3,345.7 1325.3,345.2 1326.3,347.2 1327.3,346.5 1328.3,344.3 1329.3,345.1 1330.3,347.0 1331.3,346.1 1332.3,345.9 1333.3,347.3 1334.3,347.1 1335.3,346.6 1336.3,347.4 1337.3,348.1 1338.3,345.5 1339.3,346.8 1340.3,349.0 1341.3,347.4 1342.3,346.7 1343.3,346.0 1344.3,343.6 1345.3,343.8 1346.3,347.3 1347.3,347.7 1348.3,346.1 1349.3,342.2 1350.3,341.5 1351.3,343.1 1352.3,345.2 1353.3,342.9 1354.3,340.7 1355.3,342.2 1356.3,342.5 1357.3,341.2 1358.3,337.2 1359.3,336.5 1360.3,337.9 1361.3,335.9 1362.3,332.0 1363.3,327.0 1364.3,324.8 1365.3,318.9 1366.3,309.1 1367.3,298.9 1368.3,290.2 1369.3,278.7 1370.3,268.9 1371.3,267.7 1372.3,270.6 1373.3,278.0 1374.3,288.4 1375.3,299.4 1376.3,308.0 1377.3,314.3 1378.3,322.0 1379.3,325.6 1380.3,331.1 1381.3,335.3 1382.3,337.1 1383.3,340.9 1384.3,342.4 1385.3,342.4 1386.3,341.7 1387.3,340.5 1388.3,342.2 1389.3,344.3 1390.3,346.2 1391.3,346.6 1392.3,345.7 1393.3,345.3 1394.3,345.1 1395.3,345.4 1396.3,344.3 1397.3,342.8 1398.3,342.7 1399.3,344.3 1400.3,346.8 1401.3,347.8 1402.3,345.3 1403.3,346.7 1404.3,348.4 1405.3,348.1 1406.3,347.0 1407.3,341.9 1408.3,342.4 1409.3,344.6 1410.3,345.7 1411.3,345.3 1412.3,343.9 1413.3,344.0 1414.3,344.9 1415.3,345.4 1416.3,347.1 1417.3,348.5 1418.3,347.9 1419.3,346.1 1420.3,345.9 1421.3,346.8 1422.3,345.2 1423.3,344.8 1424.3,344.8 1425.3,343.9 1426.3,345.6 1427.3,345.0 1428.3,341.2 1429.3,340.2 1430.3,341.3 1431.3,340.4 1432.3,341.6 1433.3,342.1 1434.3,343.1 1435.3,344.6 1436.3,346.3 1437.3,348.2 1438.3,344.7 1439.3,343.8 1440.3,345.6 1441.3,346.3 1442.3,346.1 1443.3,347.5 1444.3,348.0 1445.3,346.8 1446.3,347.6 1447.3,349.5 1448.3,349.1 1449.3,349.4 1450.3,349.6 1451.3,348.3 1452.3,347.5 1453.3,348.0 1454.3,348.6 1455.3,348.3 1456.3,348.8 1457.3,350.0 1458.3,348.1 1459.3,345.6 1460.3,345.9 1461.3,347.1 1462.3,348.2 1463.3,348.3 1464.3,347.5 1465.3,345.2 1466.3,344.1 1467.3,343.2 1468.3,342.3 1469.3,343.3 1470.3,341.2 1471.3,339.4 1472.3,342.5 1473.3,342.3 1474.3,340.1 1475.3,340.4 1476.3,340.3 1477.3,344.0 1478.3,345.9 1479.3,345.4 1480.3,345.6 1481.3,343.6 1482.3,345.5 1483.3,348.0 1484.3,347.4 1485.3,349.9 1486.3,349.0 1487.3,347.5 1488.3,347.7 1489.3,349.4 1490.3,347.9 1491.3,346.3 1492.3,345.1 1493.3,345.9 1494.3,348.6 1495.3,348.3 1496.3,349.5 1497.3,350.9 1498.3,350.2 1499.3,349.6 1500.3,349.2 1501.3,348.8 1502.3,347.1 1503.3,347.9 1504.3,347.1 1505.3,348.7 1506.3,350.6 1507.3,348.4 1508.3,347.3 1509.3,348.5 1510.3,348.0 1511.3,348.5 1512.3,348.2 1513.3,347.7 1514.3,348.9 1515.3,348.2 1516.3,347.6 1517.3,349.1 1518.3,349.3 1519.3,350.7 1520.3,353.3 1521.3,350.1 1522.3,348.5 1523.3,346.7 1524.3,345.6 1525.3,346.4 1526.3,346.2 1527.3,345.0 1528.3,346.6 1529.3,348.9 1530.3,347.5 1531.3,347.3 1532.3,349.0 1533.3,350.7 1534.3,348.6 1535.3,348.5 1536.3,348.2 1537.3,345.3 1538.3,346.7 1539.3,349.2 1540.3,349.9 1541.3,348.8 1542.3,349.8 1543.3,349.5 1544.3,347.9 1545.3,349.2 1546.3,349.2 1547.3,346.3 1548.3,344.6 1549.3,346.2 1550.3,350.4 1551.3,350.7 1552.3,348.8 1553.3,349.3 1554.3,347.5 1555.3,346.9 1556.3,347.4 1557.3,348.3 1558.3,348.2 1559.3,347.1 1560.3,348.6 1561.3,347.7 1562.3,348.0 1563.3,348.0 1564.3,348.7 1565.3,349.1 1566.3,345.2 1567.3,347.1 1568.3,351.1 1569.3,349.8 1570.3,349.7 1571.3,350.0 1572.3,347.8 1573.3,344.8 1574.3,344.5 1575.3,346.2 1576.3,347.8 1577.3,346.6 1578.3,345.2 1579.3,348.7 1580.3,348.2 1581.3,345.5 1582.3,345.0 1583.3,347.5 1584.3,349.3 1585.3,347.9 1586.3,348.6 1587.3,348.5 1588.3,348.3 1589.3,348.0 1590.3,347.8 1591.3,348.4 1592.3,348.0 1593.3,345.8 1594.3,345.1 1595.3,346.0 1596.3,345.2 1597.3,345.4 1598.3,348.0 1599.3,348.6 1600.3,346.7 1601.3,346.2 1602.3,347.9 1603.3,346.1 1604.3,344.9 1605.3,347.8 1606.3,348.7 1607.3,347.7 1608.3,346.8 1609.3,343.8 1610.3,342.1 1611.3,343.9 1612.3,344.9 1613.3,345.3 1614.3,342.8 1615.3,341.9 1616.3,344.8 1617.3,343.9 1618.3,343.2 1619.3,344.4 1620.3,344.6 1621.3,344.3 1622.3,344.5 1623.3,345.5 1624.3,344.4 1625.3,342.1 1626.3,341.7 1627.3,342.4 1628.3,343.5 1629.3,343.1 1630.3,342.3 1631.3,343.9 1632.3,346.3 1633.3,347.0 1634.3,345.6 1635.3,346.0 1636.3,346.7 1637.3,345.7 1638.3,346.5 1639.3,346.6 1640.3,345.5 1641.3,346.1 1642.3,345.6 1643.3,345.1 1644.3,343.9 1645.3,342.8 1646.3,347.2 1647.3,347.0 1648.3,345.6 1649.3,345.7 1650.3,344.7 1651.3,345.8 1652.3,346.7 1653.3,347.7 1654.3,347.1 1655.3,345.7 1656.3,346.4 1657.3,346.2 1658.3,347.8 1659.3,347.6 1660.3,345.6 1661.3,349.1 1662.3,349.4 1663.3,346.4 1664.3,347.1 1665.3,346.6 1666.3,345.9 1667.3,346.1 1668.3,345.1 1669.3,346.1 1670.3,348.0 1671.3,349.1 1672.3,349.8 1673.3,351.3 1674.3,348.7 1675.3,347.7 1676.3,348.4 1677.3,347.1 1678.3,348.5 1679.3,350.9 1680.3,349.9 1681.3,349.2 1682.3,348.9 1683.3,348.9 1684.3,349.2 1685.3,347.3 1686.3,347.8 1687.3,348.2 1688.3,345.9 1689.3,346.5 1690.3,347.8 1691.3,348.9 1692.3,348.9 1693.3,348.2 1694.3,346.8 1695.3,347.0 1696.3,348.6 1697.3,348.7 1698.3,347.9 1699.3,349.3 1700.3,350.6 1701.3,349.5 1702.3,349.2 1703.3,348.3 1704.3,349.1 1705.3,347.3 1706.3,345.3 1707.3,346.0 1708.3,346.8 1709.3,346.9 1710.3,347.4 1711.3,345.6 1712.3,345.9 1713.3,347.6 1714.3,346.8 1715.3,345.8 1716.3,345.8 1717.3,346.2 1718.3,344.7 1719.3,342.5 1720.3,341.1 1721.3,341.0 1722.3,336.7 1723.3,334.2 1724.3,333.2 1725.3,330.9 1726.3,326.7 1727.3,322.3 1728.3,320.6 1729.3,316.2 1730.3,313.9 1731.3,313.4 1732.3,311.0 1733.3,310.7 1734.3,311.6 1735.3,317.1 1736.3,322.0 1737.3,324.4 1738.3,329.4 1739.3,334.2 1740.3,336.0 1741.3,336.1 1742.3,335.8 1743.3,339.7 1744.3,343.3 1745.3,343.1 1746.3,345.7 1747.3,346.3 1748.3,344.9 1749.3,348.0 1750.3,348.6 1751.3,345.8 1752.3,344.3 1753.3,346.4 1754.3,345.9 1755.3,345.5 1756.3,348.6 1757.3,348.0 1758.3,347.4 1759.3,347.9 1760.3,348.2 1761.3,348.8 1762.3,346.2 1763.3,346.7 1764.3,348.2 1765.3,347.1 1766.3,346.8 1767.3,345.6 1768.3,344.7 1769.3,347.2 1770.3,346.1 1771.3,346.0 1772.3,347.8 1773.3,346.6 1774.3,348.1 1775.3,349.3 1776.3,347.5 1777.3,347.1 1778.3,348.7 1779.3,346.8 1780.3,346.3 1781.3,347.8 1782.3,348.0 1783.3,350.9 1784.3,350.0 1785.3,347.7 1786.3,347.0 1787.3,347.3 1788.3,349.1 1789.3,346.1 1790.3,346.9 1791.3,351.2 1792.3,346.4 1793.3,343.2 1794.3,346.5 1795.3,348.2 1796.3,349.0 1797.3,348.3 1798.3,348.7 1799.3,347.6 1800.3,346.2 1801.3,347.3 1802.3,345.8 1803.3,344.1 1804.3,344.2 1805.3,347.4 1806.3,347.8 1807.3,345.7 1808.3,346.3 1809.3,345.9 1810.3,345.8 1811.3,347.5 1812.3,347.4 1813.3,345.3 1814.3,347.0 1815.3,348.5 1816.3,346.8 1817.3,346.9 1818.3,346.1 1819.3,344.9 1820.3,345.3 1821.3,347.0 1822.3,347.5 1823.3,349.0 1824.3,347.3 1825.3,347.5 1826.3,348.2 1827.3,347.3 1828.3,346.0 1829.3,345.6 1830.3,345.6 1831.3,346.2 1832.3,346.4 1833.3,346.1 1834.3,346.9 1835.3,347.1 1836.3,347.9 1837.3,347.3 1838.3,346.6 1839.3,347.0 1840.3,348.0 1841.3,346.1 1842.3,345.8 1843.3,346.2 1844.3,345.4 1845.3,346.0 1846.3,345.8 1847.3,347.0 1848.3,345.0 1849.3,345.4 1850.3,344.9 1851.3,345.2 1852.3,346.7 1853.3,343.9 1854.3,343.4 1855.3,344.4 1856.3,342.2 1857.3,343.7 1858.3,345.2 1859.3,343.8 1860.3,343.6 1861.3,342.7 1862.3,339.2 1863.3,338.9 1864.3,337.0 1865.3,334.8 1866.3,334.0 1867.3,330.6 1868.3,325.3 1869.3,319.9 1870.3,313.2 1871.3,303.9 1872.3,290.1 1873.3,279.4 1874.3,270.6 1875.3,261.9 1876.3,255.4 1877.3,251.7 1878.3,256.5 1879.3,265.5 1880.3,274.4 1881.3,286.9 1882.3,299.7 1883.3,307.2 1884.3,312.9 1885.3,320.9 1886.3,327.9 1887.3,331.0 1888.3,333.0 1889.3,336.3 1890.3,340.5 1891.3,340.1 1892.3,341.9 1893.3,342.1 1894.3,341.6 1895.3,344.3 1896.3,344.6 1897.3,343.5 1898.3,343.0 1899.3,344.6 1900.3,346.6 1901.3,345.9 1902.3,345.1 1903.3,344.9 1904.3,346.7 1905.3,347.1 1906.3,345.5 1907.3,344.2 1908.3,343.3 1909.3,344.1 1910.3,344.1 1911.3,344.5 1912.3,346.7 1913.3,346.0 1914.3,346.1 1915.3,346.6 1916.3,344.5 1917.3,345.1 1918.3,344.1 1919.3,345.2 1920.3,347.0 1921.3,345.1 1922.3,346.6 1923.3,347.1 1924.3,347.0 1925.3,347.6 1926.3,347.0 1927.3,347.3 1928.3,348.7 1929.3,348.8 1930.3,349.9 1931.3,348.3 1932.3,346.7 1933.3,347.2 1934.3,347.7 1935.3,348.6 1936.3,349.2 1937.3,349.2 1938.3,347.6 1939.3,348.0 1940.3,349.2 1941.3,349.2 1942.3,350.5 1943.3,349.2 1944.3,347.2 1945.3,346.8 1946.3,346.2 1947.3,347.9 1948.3,350.1 1949.3,348.6 1950.3,347.9 1951.3,348.5 1952.3,348.4 1953.3,348.5 1954.3,347.7 1955.3,344.4 1956.3,343.6 1957.3,346.8 1958.3,349.0 1959.3,351.2 1960.3,351.3 1961.3,349.9 1962.3,348.9 1963.3,346.2 1964.3,348.3 1965.3,351.7 1966.3,351.8 1967.3,349.0 1968.3,348.7 1969.3,349.6 1970.3,349.4 1971.3,348.6 1972.3,347.1 1973.3,345.5 1974.3,345.9 1975.3,346.8 1976.3,345.8 1977.3,347.5 1978.3,349.8 1979.3,347.6 1980.3,347.7 1981.3,350.4 1982.3,350.3 1983.3,348.0 1984.3,348.9 1985.3,347.8 1986.3,346.2 1987.3,347.0 1988.3,348.8 1989.3,347.9 1990.3,347.4 1991.3,348.3 1992.3,347.6 1993.3,347.7 1994.3,349.4 1995.3,348.9 1996.3,345.7 1997.3,346.8 1998.3,347.5 1999.3,348.0 2000.3,348.4 2001.3,347.9 2002.3,347.9 2003.3,345.9 2004.3,343.9 2005.3,347.4 2006.3,348.5 2007.3,347.0 2008.3,347.3 2009.3,346.5 2010.3,347.1 2011.3,348.8 2012.3,349.1 2013.3,345.6 2014.3,344.6 2015.3,346.6 2016.3,348.8 2017.3,350.5 2018.3,351.8 2019.3,348.4 2020.3,346.0 2021.3,346.0 2021.6,346.0"/>
<g class="sb" font-size="97" letter-spacing="-4.5"><text x="174.6" y="1554.4">20</text><text x="532.7" y="1554.4">30</text><text x="890.8" y="1554.4">40</text><text x="1248.9" y="1554.4">50</text><text x="1607.0" y="1554.4">60</text><text x="1965.1" y="1554.4">70</text></g>
<text class="sb" font-size="95.5" transform="translate(104.2 1035.6) rotate(-90)">Intensity(a.u)</text>
<text class="sb" font-size="97" x="870.6" y="1660.2">2</text><text font-family="Liberation Serif,serif" font-weight="bold" font-style="italic" font-size="90" transform="translate(949.5 1661.5) skewX(-8) scale(1.1 1)" text-anchor="middle" x="0" y="0" id="theta">θ</text><text class="sr" font-size="82" x="991" y="1661.5" id="slash">/</text><text font-family="Liberation Serif,serif" font-size="102" x="1019" y="1658.3" id="deg">°</text>
<text class="sb lab" font-size="80" fill="#ff0000" x="1565.2" y="311.7" letter-spacing="-2.0">(v)</text><text class="sb lab" font-size="80" fill="#ff8000" x="1562.7" y="553.3" letter-spacing="-2.3">(iv)</text><text class="sb lab" font-size="80" fill="#0000ff" x="1564.0" y="826.4" letter-spacing="-1.2">(iii)</text><text class="sb lab" font-size="80" fill="#ff00ff" x="1562.7" y="1080.7" letter-spacing="-1.2">(ii)</text><text class="sb lab" font-size="80" fill="#000" x="1571.5" y="1323.2" letter-spacing="0.0">(i)</text>
<g class="ast" text-anchor="middle"><text transform="translate(475.8 277.6) scale(0.95 1.14)" x="0" y="0" dy="0.467em">*</text><text transform="translate(730.0 300.0) scale(0.95 1.14)" x="0" y="0" dy="0.467em">*</text><text transform="translate(872.7 79.3) scale(0.95 1.14)" x="0" y="0" dy="0.467em">*</text><text transform="translate(1373.0 235.4) scale(0.95 1.14)" x="0" y="0" dy="0.467em">*</text><text transform="translate(1735.7 276.7) scale(0.95 1.14)" x="0" y="0" dy="0.467em">*</text><text transform="translate(1877.8 211.0) scale(0.95 1.14)" x="0" y="0" dy="0.467em">*</text><text transform="translate(471.8 511.6) scale(0.95 1.14)" x="0" y="0" dy="0.467em">*</text><text transform="translate(730.0 543.3) scale(0.95 1.14)" x="0" y="0" dy="0.467em">*</text><text transform="translate(903.0 405.5) scale(0.95 1.14)" x="0" y="0" dy="0.467em">*</text><text transform="translate(1373.0 495.3) scale(0.95 1.14)" x="0" y="0" dy="0.467em">*</text><text transform="translate(1735.7 521.2) scale(0.95 1.14)" x="0" y="0" dy="0.467em">*</text><text transform="translate(1874.8 490.1) scale(0.95 1.14)" x="0" y="0" dy="0.467em">*</text><text transform="translate(467.0 790.6) scale(0.95 1.14)" x="0" y="0" dy="0.467em">*</text><text transform="translate(748.0 774.2) scale(0.95 1.14)" x="0" y="0" dy="0.467em">*</text><text transform="translate(904.8 649.2) scale(0.95 1.14)" x="0" y="0" dy="0.467em">*</text><text transform="translate(1371.0 781.3) scale(0.95 1.14)" x="0" y="0" dy="0.467em">*</text><text transform="translate(1735.7 792.6) scale(0.95 1.14)" x="0" y="0" dy="0.467em">*</text><text transform="translate(1879.9 744.6) scale(0.95 1.14)" x="0" y="0" dy="0.467em">*</text><text transform="translate(467.0 1040.6) scale(0.95 1.14)" x="0" y="0" dy="0.467em">*</text><text transform="translate(724.7 1050.2) scale(0.95 1.14)" x="0" y="0" dy="0.467em">*</text><text transform="translate(901.8 900.6) scale(0.95 1.14)" x="0" y="0" dy="0.467em">*</text><text transform="translate(1365.9 1022.6) scale(0.95 1.14)" x="0" y="0" dy="0.467em">*</text><text transform="translate(1735.7 1046.0) scale(0.95 1.14)" x="0" y="0" dy="0.467em">*</text><text transform="translate(1870.8 1006.4) scale(0.95 1.14)" x="0" y="0" dy="0.467em">*</text><text transform="translate(471.8 1273.3) scale(0.95 1.14)" x="0" y="0" dy="0.467em">*</text><text transform="translate(736.9 1301.0) scale(0.95 1.14)" x="0" y="0" dy="0.467em">*</text><text transform="translate(907.9 1139.3) scale(0.95 1.14)" x="0" y="0" dy="0.467em">*</text><text transform="translate(1371.0 1263.3) scale(0.95 1.14)" x="0" y="0" dy="0.467em">*</text><text transform="translate(1731.9 1276.3) scale(0.95 1.14)" x="0" y="0" dy="0.467em">*</text><text transform="translate(1881.6 1248.5) scale(0.95 1.14)" x="0" y="0" dy="0.467em">*</text></g>
<g class="mk" font-size="58.8" text-anchor="middle"><text x="190.5" y="299.8" dy="0.362em">♦</text><text x="557.3" y="223.9" dy="0.362em">♦</text><text x="211.5" y="538.0" dy="0.362em">♦</text><text x="553.5" y="447.0" dy="0.362em">♦</text><text x="200.6" y="792.3" dy="0.362em">♦</text><text x="553.5" y="730.3" dy="0.362em">♦</text></g>
<g class="mk" font-size="34.7" text-anchor="middle"><text x="373.9" y="287.7" dy="0.274em">●</text><text x="431.8" y="290.2" dy="0.274em">●</text><text x="533.8" y="292.2" dy="0.274em">●</text></g>
<text class="mk" font-size="37.4" text-anchor="middle" x="1212" y="1158.9" dy="0.257em" id="lgc">●</text><text class="sb" font-size="80" x="1252" y="1180.9" letter-spacing="-2.7" id="lg1">NiWO</text><text class="sb" font-size="50" x="1456" y="1213.4" id="lg1s">4</text><text class="mk" font-size="64" text-anchor="middle" x="1509" y="1161.6" dy="0.365em" id="lgd">♦</text><text font-family="Liberation Serif,serif" font-size="77.5" transform="translate(1538 1180.9) scale(0.945 1)" x="0" y="0" id="lgB">B</text><text class="sb" font-size="80" x="1590" y="1180.9" letter-spacing="-0.5" id="lg2">iVO</text><text class="sb" font-size="50" x="1721" y="1213.4" id="lg2s">4</text><text font-family="Liberation Serif,serif" font-weight="bold" font-size="71" text-anchor="middle" transform="translate(1786.2 1155.6) scale(1 1.21)" dy="0.47em" id="lga">*</text><text class="sb" font-size="80" x="1830" y="1180.9" letter-spacing="-1" id="lg3">FTO</text>
</svg></body></html>
